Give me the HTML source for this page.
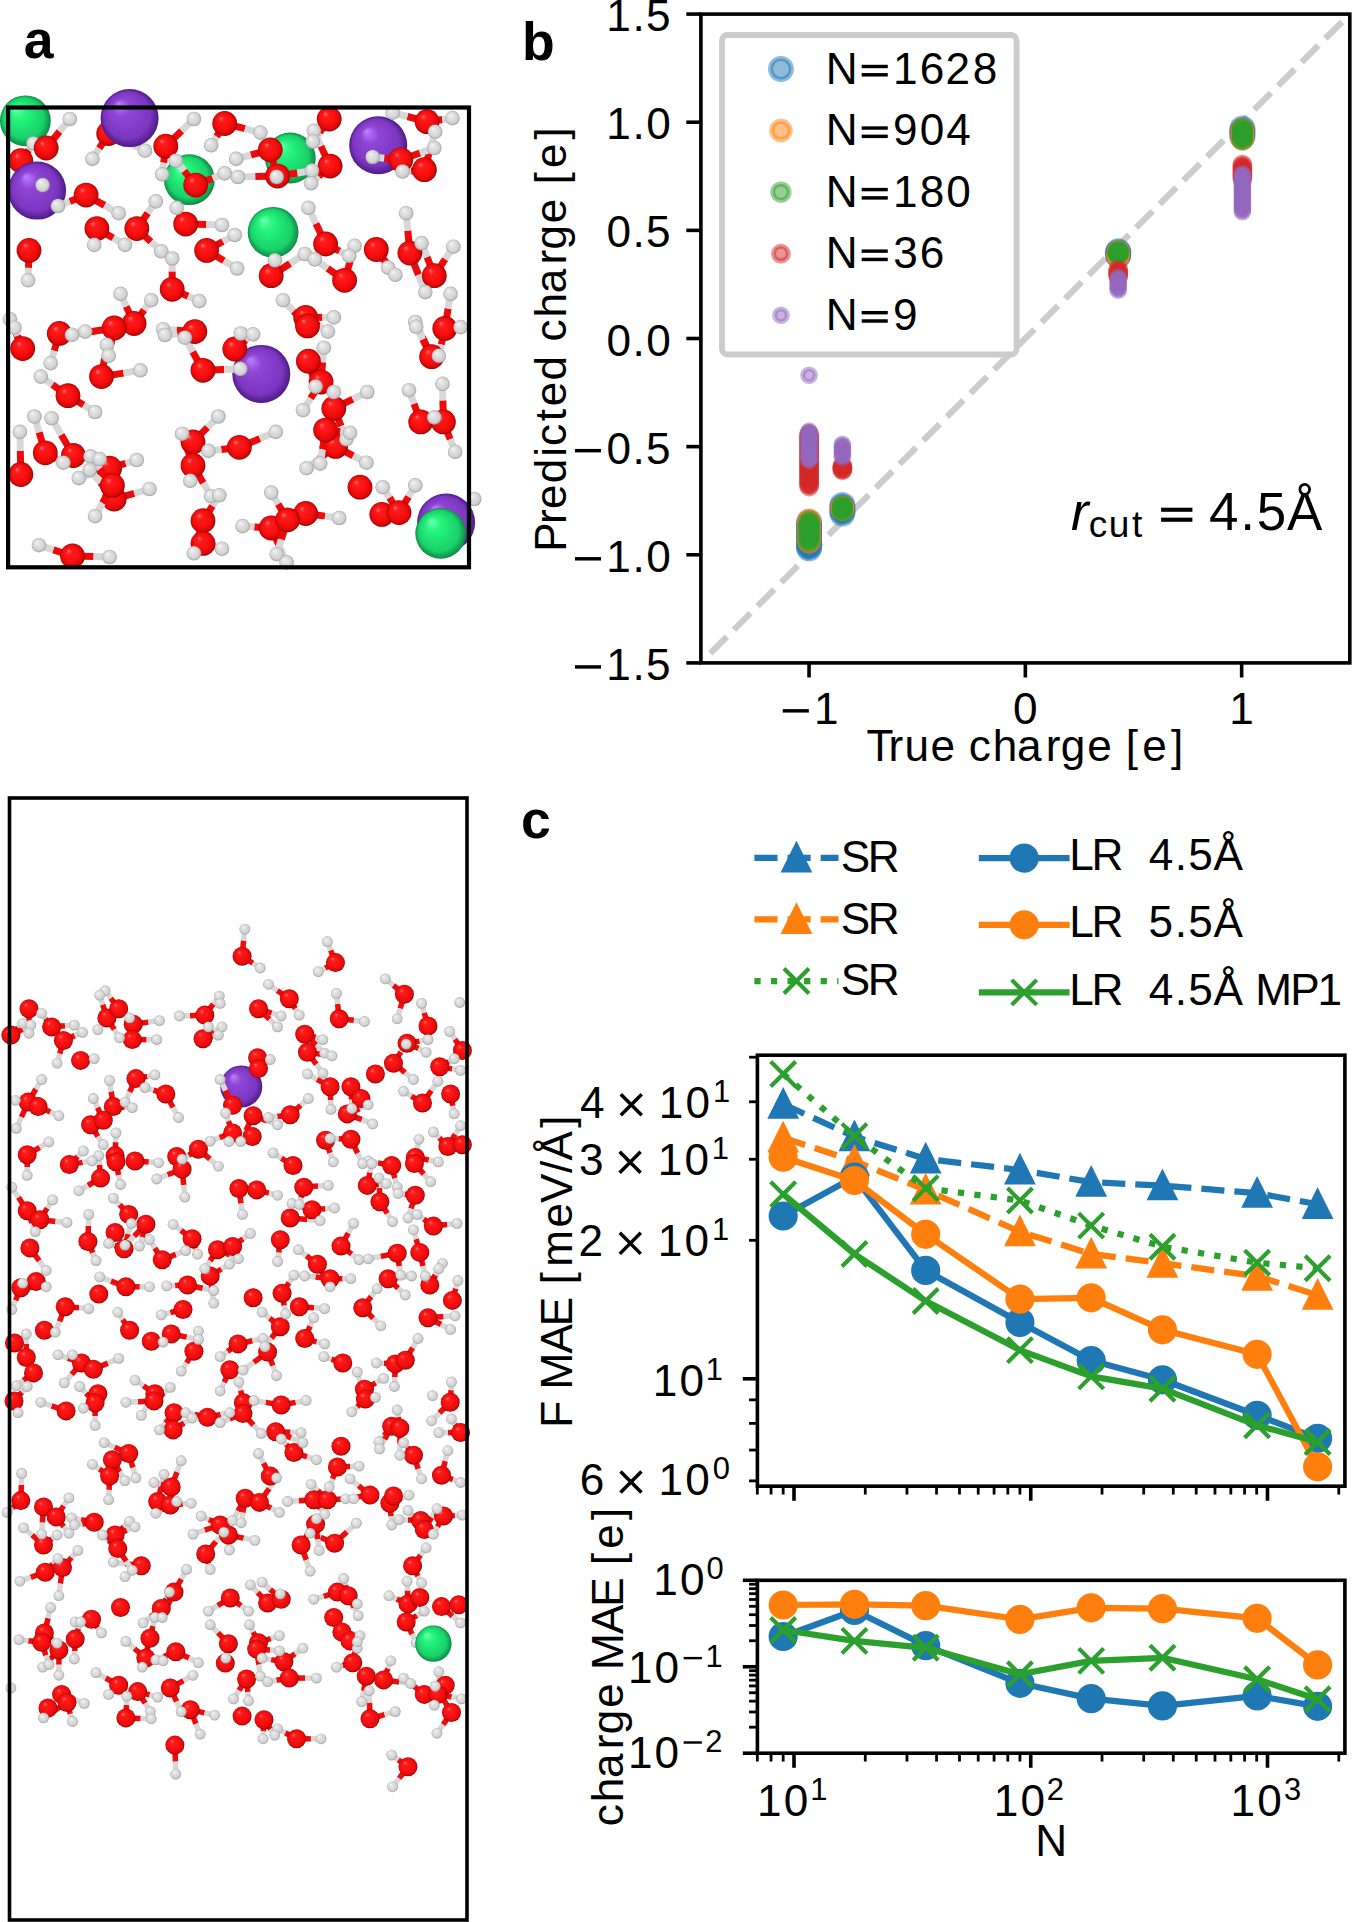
<!DOCTYPE html>
<html><head><meta charset="utf-8"><style>
html,body{margin:0;padding:0;background:#fff;overflow:hidden;width:1352px;height:1922px;}
svg{display:block;}
text{font-family:"Liberation Sans",sans-serif;white-space:pre;}
</style></head><body>
<svg width="1352" height="1922" viewBox="0 0 1352 1922">
<rect width="1352" height="1922" fill="#fff"/>
<defs>
<radialGradient id="gO" cx="0.5" cy="0.5" r="0.5" fx="0.33" fy="0.28"><stop offset="0" stop-color="#ff7070"/><stop offset="0.22" stop-color="#ff1c1c"/><stop offset="0.7" stop-color="#f50c0c"/><stop offset="0.9" stop-color="#d40808"/><stop offset="1" stop-color="#9a0000"/></radialGradient>
<radialGradient id="gH" cx="0.5" cy="0.5" r="0.5" fx="0.33" fy="0.28"><stop offset="0" stop-color="#f6f6f6"/><stop offset="0.3" stop-color="#e4e4e4"/><stop offset="0.78" stop-color="#d2d2d2"/><stop offset="1" stop-color="#a4a4a4"/></radialGradient>
<radialGradient id="gP" cx="0.5" cy="0.5" r="0.5" fx="0.3" fy="0.25"><stop offset="0" stop-color="#c080ff"/><stop offset="0.3" stop-color="#8f45d6"/><stop offset="0.8" stop-color="#7b36bf"/><stop offset="1" stop-color="#4e1a85"/></radialGradient>
<radialGradient id="gG" cx="0.5" cy="0.5" r="0.5" fx="0.3" fy="0.25"><stop offset="0" stop-color="#70ffb0"/><stop offset="0.3" stop-color="#24f57c"/><stop offset="0.8" stop-color="#1ad06a"/><stop offset="1" stop-color="#0c8a45"/></radialGradient>
</defs>
<path d="M108.7 133.5L129.2 143.2" stroke="#ee0a0a" stroke-width="7"/><path d="M129.2 143.2L145 150.7" stroke="#d8d8d8" stroke-width="7"/>
<path d="M108.7 133.5L99.2 148.3" stroke="#ee0a0a" stroke-width="7"/><path d="M99.2 148.3L92.4 158.9" stroke="#d8d8d8" stroke-width="7"/>
<path d="M20.8 160.7L33.4 174.8" stroke="#ee0a0a" stroke-width="7"/><path d="M33.4 174.8L42.6 185.1" stroke="#d8d8d8" stroke-width="7"/>
<path d="M20.8 160.7L28.7 150" stroke="#ee0a0a" stroke-width="7"/><path d="M28.7 150L33.5 143.5" stroke="#d8d8d8" stroke-width="7"/>
<circle cx="108.7" cy="133.5" r="12.4" fill="url(#gO)"/>
<circle cx="20.8" cy="160.7" r="12.4" fill="url(#gO)"/>
<circle cx="25.4" cy="120.8" r="25.4" fill="url(#gG)"/>
<circle cx="189.4" cy="179.7" r="25.4" fill="url(#gG)"/>
<circle cx="129.6" cy="118.1" r="29" fill="url(#gP)"/>
<circle cx="37.1" cy="190.6" r="29" fill="url(#gP)"/>
<circle cx="33.5" cy="143.5" r="7.3" fill="url(#gH)"/>
<circle cx="290.3" cy="158" r="25.4" fill="url(#gG)"/>
<circle cx="273.1" cy="232.3" r="25.4" fill="url(#gG)"/>
<circle cx="378.2" cy="145.3" r="29" fill="url(#gP)"/>
<circle cx="261.3" cy="373.9" r="29" fill="url(#gP)"/>
<circle cx="446.1" cy="522.5" r="29" fill="url(#gP)"/>
<path d="M109.6 468.2L125.7 463.3" stroke="#ee0a0a" stroke-width="7"/><path d="M125.7 463.3L136.8 460" stroke="#d8d8d8" stroke-width="7"/>
<path d="M109.6 468.2L91.8 473.9" stroke="#ee0a0a" stroke-width="7"/><path d="M91.8 473.9L78.8 478.1" stroke="#d8d8d8" stroke-width="7"/>
<path d="M114.2 499L100.3 482.5" stroke="#ee0a0a" stroke-width="7"/><path d="M100.3 482.5L89.7 470" stroke="#d8d8d8" stroke-width="7"/>
<path d="M114.2 499L134.3 493.3" stroke="#ee0a0a" stroke-width="7"/><path d="M134.3 493.3L149.5 489" stroke="#d8d8d8" stroke-width="7"/>
<path d="M271.2 528L254.3 526.9" stroke="#ee0a0a" stroke-width="7"/><path d="M254.3 526.9L242.5 526.1" stroke="#d8d8d8" stroke-width="7"/>
<path d="M335.6 446.4L319 458.8" stroke="#ee0a0a" stroke-width="7"/><path d="M319 458.8L306.6 468.2" stroke="#d8d8d8" stroke-width="7"/>
<path d="M335.6 446.4L353.2 455.8" stroke="#ee0a0a" stroke-width="7"/><path d="M353.2 455.8L366.4 462.7" stroke="#d8d8d8" stroke-width="7"/>
<path d="M271.2 528L280 547.5" stroke="#ee0a0a" stroke-width="7"/><path d="M280 547.5L286.6 562.4" stroke="#d8d8d8" stroke-width="7"/>
<circle cx="109.6" cy="468.2" r="12.4" fill="url(#gO)"/>
<circle cx="114.2" cy="499" r="12.4" fill="url(#gO)"/>
<circle cx="335.6" cy="446.4" r="12.4" fill="url(#gO)"/>
<circle cx="271.2" cy="528" r="12.4" fill="url(#gO)"/>
<path d="M46.2 148L59.6 131.5" stroke="#ee0a0a" stroke-width="7"/><path d="M59.6 131.5L69.8 119" stroke="#d8d8d8" stroke-width="7"/>
<path d="M165.8 146.2L181.7 130.8" stroke="#ee0a0a" stroke-width="7"/><path d="M181.7 130.8L193.9 119" stroke="#d8d8d8" stroke-width="7"/>
<path d="M224.7 123.5L216.6 136.6" stroke="#ee0a0a" stroke-width="7"/><path d="M216.6 136.6L211.1 145.3" stroke="#d8d8d8" stroke-width="7"/>
<path d="M165.8 146.2L163.7 162.7" stroke="#ee0a0a" stroke-width="7"/><path d="M163.7 162.7L162.2 174.3" stroke="#d8d8d8" stroke-width="7"/>
<path d="M86.1 195.1L69.7 201.5" stroke="#ee0a0a" stroke-width="7"/><path d="M69.7 201.5L58 206" stroke="#d8d8d8" stroke-width="7"/>
<path d="M86.1 195.1L104.6 205.4" stroke="#ee0a0a" stroke-width="7"/><path d="M104.6 205.4L118.7 213.2" stroke="#d8d8d8" stroke-width="7"/>
<path d="M136.8 228.6L147.8 212.9" stroke="#ee0a0a" stroke-width="7"/><path d="M147.8 212.9L155.8 201.4" stroke="#d8d8d8" stroke-width="7"/>
<path d="M96.9 228.6L94.9 240.9" stroke="#ee0a0a" stroke-width="7"/><path d="M94.9 240.9L94.2 244.9" stroke="#d8d8d8" stroke-width="7"/>
<path d="M96.9 228.6L113.2 238.1" stroke="#ee0a0a" stroke-width="7"/><path d="M113.2 238.1L125 244.9" stroke="#d8d8d8" stroke-width="7"/>
<path d="M185.7 224.1L179.7 213.3" stroke="#ee0a0a" stroke-width="7"/><path d="M179.7 213.3L176.7 207.8" stroke="#d8d8d8" stroke-width="7"/>
<path d="M185.7 224.1L206.4 224.6" stroke="#ee0a0a" stroke-width="7"/><path d="M206.4 224.6L222 225" stroke="#d8d8d8" stroke-width="7"/>
<path d="M206.6 250.4L222.9 241.5" stroke="#ee0a0a" stroke-width="7"/><path d="M222.9 241.5L234.8 235" stroke="#d8d8d8" stroke-width="7"/>
<path d="M136.8 228.6L150.9 241.7" stroke="#ee0a0a" stroke-width="7"/><path d="M150.9 241.7L161.3 251.3" stroke="#d8d8d8" stroke-width="7"/>
<path d="M172.2 289.3L172.2 271.4" stroke="#ee0a0a" stroke-width="7"/><path d="M172.2 271.4L172.2 258.5" stroke="#d8d8d8" stroke-width="7"/>
<path d="M29 250.4L28.5 267.9" stroke="#ee0a0a" stroke-width="7"/><path d="M28.5 267.9L28.1 280.3" stroke="#d8d8d8" stroke-width="7"/>
<path d="M206.6 250.4L224 260.7" stroke="#ee0a0a" stroke-width="7"/><path d="M224 260.7L237.1 268.5" stroke="#d8d8d8" stroke-width="7"/>
<path d="M134.1 323.5L144.2 309.8" stroke="#ee0a0a" stroke-width="7"/><path d="M144.2 309.8L151.3 300.2" stroke="#d8d8d8" stroke-width="7"/>
<path d="M134.1 323.5L126.2 306.4" stroke="#ee0a0a" stroke-width="7"/><path d="M126.2 306.4L120.5 293.9" stroke="#d8d8d8" stroke-width="7"/>
<path d="M172.2 289.3L188.1 296.2" stroke="#ee0a0a" stroke-width="7"/><path d="M188.1 296.2L199.3 301.1" stroke="#d8d8d8" stroke-width="7"/>
<path d="M270.3 149.8L250.8 155" stroke="#ee0a0a" stroke-width="7"/><path d="M250.8 155L236.2 158.9" stroke="#d8d8d8" stroke-width="7"/>
<path d="M277.6 176.1L255.2 176.6" stroke="#ee0a0a" stroke-width="7"/><path d="M255.2 176.6L238 177" stroke="#d8d8d8" stroke-width="7"/>
<path d="M22.7 348.6L15.3 331.6" stroke="#ee0a0a" stroke-width="7"/><path d="M15.3 331.6L10 319.2" stroke="#d8d8d8" stroke-width="7"/>
<path d="M59.3 333.4L74.8 332.4" stroke="#ee0a0a" stroke-width="7"/><path d="M74.8 332.4L85.2 331.6" stroke="#d8d8d8" stroke-width="7"/>
<path d="M114.2 328L90.6 331.8" stroke="#ee0a0a" stroke-width="7"/><path d="M90.6 331.8L72 334.8" stroke="#d8d8d8" stroke-width="7"/>
<path d="M194.8 331.6L176.4 330.2" stroke="#ee0a0a" stroke-width="7"/><path d="M176.4 330.2L163.1 329.2" stroke="#d8d8d8" stroke-width="7"/>
<path d="M234.8 349L239.3 337.4" stroke="#ee0a0a" stroke-width="7"/><path d="M239.3 337.4L240.8 333.5" stroke="#d8d8d8" stroke-width="7"/>
<path d="M224.7 123.5L245 128.7" stroke="#ee0a0a" stroke-width="7"/><path d="M245 128.7L260.4 132.6" stroke="#d8d8d8" stroke-width="7"/>
<path d="M330.1 166.1L320.9 146.1" stroke="#ee0a0a" stroke-width="7"/><path d="M320.9 146.1L313.8 130.8" stroke="#d8d8d8" stroke-width="7"/>
<path d="M329.2 119L319.6 132.4" stroke="#ee0a0a" stroke-width="7"/><path d="M319.6 132.4L312.9 141.6" stroke="#d8d8d8" stroke-width="7"/>
<path d="M270.3 149.8L274.1 165.9" stroke="#ee0a0a" stroke-width="7"/><path d="M274.1 165.9L276.7 177" stroke="#d8d8d8" stroke-width="7"/>
<path d="M277.6 176.1L297.3 173" stroke="#ee0a0a" stroke-width="7"/><path d="M297.3 173L312 170.6" stroke="#d8d8d8" stroke-width="7"/>
<path d="M330.1 166.1L318.7 176.4" stroke="#ee0a0a" stroke-width="7"/><path d="M318.7 176.4L311.1 183.3" stroke="#d8d8d8" stroke-width="7"/>
<path d="M400.8 159.8L384.2 158.2" stroke="#ee0a0a" stroke-width="7"/><path d="M384.2 158.2L372.7 157" stroke="#d8d8d8" stroke-width="7"/>
<path d="M427.1 121.7L407.4 116.5" stroke="#ee0a0a" stroke-width="7"/><path d="M407.4 116.5L392.7 112.7" stroke="#d8d8d8" stroke-width="7"/>
<path d="M427.1 121.7L442.3 119.5" stroke="#ee0a0a" stroke-width="7"/><path d="M442.3 119.5L452.5 118.1" stroke="#d8d8d8" stroke-width="7"/>
<path d="M424.4 169.7L430.5 148.3" stroke="#ee0a0a" stroke-width="7"/><path d="M430.5 148.3L435.2 131.7" stroke="#d8d8d8" stroke-width="7"/>
<path d="M400.8 159.8L420 153" stroke="#ee0a0a" stroke-width="7"/><path d="M420 153L434.3 148" stroke="#d8d8d8" stroke-width="7"/>
<path d="M424.4 169.7L411 170.9" stroke="#ee0a0a" stroke-width="7"/><path d="M411 170.9L402.6 171.5" stroke="#d8d8d8" stroke-width="7"/>
<path d="M325.6 244L315.9 223.6" stroke="#ee0a0a" stroke-width="7"/><path d="M315.9 223.6L308.4 207.8" stroke="#d8d8d8" stroke-width="7"/>
<path d="M409.9 253.1L407.8 230.6" stroke="#ee0a0a" stroke-width="7"/><path d="M407.8 230.6L406.2 213.2" stroke="#d8d8d8" stroke-width="7"/>
<path d="M434.3 275.7L427.1 257.1" stroke="#ee0a0a" stroke-width="7"/><path d="M427.1 257.1L421.6 243.1" stroke="#d8d8d8" stroke-width="7"/>
<path d="M434.3 275.7L445.2 259.1" stroke="#ee0a0a" stroke-width="7"/><path d="M445.2 259.1L453.4 246.7" stroke="#d8d8d8" stroke-width="7"/>
<path d="M344.6 280.3L350.3 260.6" stroke="#ee0a0a" stroke-width="7"/><path d="M350.3 260.6L354.6 245.8" stroke="#d8d8d8" stroke-width="7"/>
<path d="M325.6 244L339.7 251.1" stroke="#ee0a0a" stroke-width="7"/><path d="M339.7 251.1L349.2 255.8" stroke="#d8d8d8" stroke-width="7"/>
<path d="M271.2 275.7L290.1 263.5" stroke="#ee0a0a" stroke-width="7"/><path d="M290.1 263.5L304.8 254" stroke="#d8d8d8" stroke-width="7"/>
<path d="M344.6 280.3L327.6 268.4" stroke="#ee0a0a" stroke-width="7"/><path d="M327.6 268.4L314.7 259.4" stroke="#d8d8d8" stroke-width="7"/>
<path d="M271.2 275.7L274.1 263.7" stroke="#ee0a0a" stroke-width="7"/><path d="M274.1 263.7L274.9 260.3" stroke="#d8d8d8" stroke-width="7"/>
<path d="M376.3 249.5L383.6 260.7" stroke="#ee0a0a" stroke-width="7"/><path d="M383.6 260.7L388.1 267.6" stroke="#d8d8d8" stroke-width="7"/>
<path d="M376.3 249.5L387.4 264.2" stroke="#ee0a0a" stroke-width="7"/><path d="M387.4 264.2L395.4 274.8" stroke="#d8d8d8" stroke-width="7"/>
<path d="M444.8 328.5L448.1 308.6" stroke="#ee0a0a" stroke-width="7"/><path d="M448.1 308.6L450.6 293.9" stroke="#d8d8d8" stroke-width="7"/>
<path d="M409.9 253.1L418.5 274.9" stroke="#ee0a0a" stroke-width="7"/><path d="M418.5 274.9L425.3 292.1" stroke="#d8d8d8" stroke-width="7"/>
<path d="M305.7 317.4L322.3 317.4" stroke="#ee0a0a" stroke-width="7"/><path d="M322.3 317.4L333.8 317.4" stroke="#d8d8d8" stroke-width="7"/>
<path d="M307.5 325.9L293.5 311.2" stroke="#ee0a0a" stroke-width="7"/><path d="M293.5 311.2L283 300.2" stroke="#d8d8d8" stroke-width="7"/>
<path d="M431.6 356.7L422.4 337" stroke="#ee0a0a" stroke-width="7"/><path d="M422.4 337L415.3 322" stroke="#d8d8d8" stroke-width="7"/>
<path d="M305.7 317.4L318.9 325.9" stroke="#ee0a0a" stroke-width="7"/><path d="M318.9 325.9L327.9 331.6" stroke="#d8d8d8" stroke-width="7"/>
<path d="M234.8 349L246 340.1" stroke="#ee0a0a" stroke-width="7"/><path d="M246 340.1L253.1 334.3" stroke="#d8d8d8" stroke-width="7"/>
<path d="M22.7 348.6L17.6 335.8" stroke="#ee0a0a" stroke-width="7"/><path d="M17.6 335.8L14.5 327.7" stroke="#d8d8d8" stroke-width="7"/>
<path d="M101.5 376.6L104.6 358.3" stroke="#ee0a0a" stroke-width="7"/><path d="M104.6 358.3L106.9 344.9" stroke="#d8d8d8" stroke-width="7"/>
<path d="M114.2 328L111 344.4" stroke="#ee0a0a" stroke-width="7"/><path d="M111 344.4L108.7 355.8" stroke="#d8d8d8" stroke-width="7"/>
<path d="M194.8 331.6L177.3 333.6" stroke="#ee0a0a" stroke-width="7"/><path d="M177.3 333.6L164.9 335" stroke="#d8d8d8" stroke-width="7"/>
<path d="M203 370.3L192.7 351.8" stroke="#ee0a0a" stroke-width="7"/><path d="M192.7 351.8L184.8 337.7" stroke="#d8d8d8" stroke-width="7"/>
<path d="M59.3 333.4L54.3 350.7" stroke="#ee0a0a" stroke-width="7"/><path d="M54.3 350.7L50.7 363.1" stroke="#d8d8d8" stroke-width="7"/>
<path d="M68 395.7L52.3 384.7" stroke="#ee0a0a" stroke-width="7"/><path d="M52.3 384.7L40.8 376.6" stroke="#d8d8d8" stroke-width="7"/>
<path d="M101.5 376.6L123.5 373.1" stroke="#ee0a0a" stroke-width="7"/><path d="M123.5 373.1L140.4 370.3" stroke="#d8d8d8" stroke-width="7"/>
<path d="M203 370.3L224.2 369.5" stroke="#ee0a0a" stroke-width="7"/><path d="M224.2 369.5L240.3 368.9" stroke="#d8d8d8" stroke-width="7"/>
<path d="M68 395.7L83.7 405.1" stroke="#ee0a0a" stroke-width="7"/><path d="M83.7 405.1L95.1 412" stroke="#d8d8d8" stroke-width="7"/>
<path d="M73.4 455.5L61.2 434.7" stroke="#ee0a0a" stroke-width="7"/><path d="M61.2 434.7L51.6 418.3" stroke="#d8d8d8" stroke-width="7"/>
<path d="M45.3 452.8L39.1 432.2" stroke="#ee0a0a" stroke-width="7"/><path d="M39.1 432.2L34.4 416.5" stroke="#d8d8d8" stroke-width="7"/>
<path d="M20.8 474.5L20.3 450.7" stroke="#ee0a0a" stroke-width="7"/><path d="M20.3 450.7L19.9 431.9" stroke="#d8d8d8" stroke-width="7"/>
<path d="M45.3 452.8L56.6 459" stroke="#ee0a0a" stroke-width="7"/><path d="M56.6 459L63.4 462.7" stroke="#d8d8d8" stroke-width="7"/>
<path d="M112.4 485.4L99.9 468.8" stroke="#ee0a0a" stroke-width="7"/><path d="M99.9 468.8L90.6 456.4" stroke="#d8d8d8" stroke-width="7"/>
<path d="M73.4 455.5L89.1 457.6" stroke="#ee0a0a" stroke-width="7"/><path d="M89.1 457.6L99.7 459.1" stroke="#d8d8d8" stroke-width="7"/>
<path d="M112.4 485.4L102.5 503" stroke="#ee0a0a" stroke-width="7"/><path d="M102.5 503L95.1 516.2" stroke="#d8d8d8" stroke-width="7"/>
<path d="M193 465.4L186.7 447.2" stroke="#ee0a0a" stroke-width="7"/><path d="M186.7 447.2L182.1 433.7" stroke="#d8d8d8" stroke-width="7"/>
<path d="M239.4 447.3L221.3 449.4" stroke="#ee0a0a" stroke-width="7"/><path d="M221.3 449.4L208.4 450.9" stroke="#d8d8d8" stroke-width="7"/>
<path d="M193 441.9L191.5 463.9" stroke="#ee0a0a" stroke-width="7"/><path d="M191.5 463.9L190.3 480.8" stroke="#d8d8d8" stroke-width="7"/>
<path d="M193 465.4L203.3 483" stroke="#ee0a0a" stroke-width="7"/><path d="M203.3 483L211.1 496.2" stroke="#d8d8d8" stroke-width="7"/>
<path d="M203 520.7L212.5 505.9" stroke="#ee0a0a" stroke-width="7"/><path d="M212.5 505.9L219.3 495.3" stroke="#d8d8d8" stroke-width="7"/>
<path d="M193 441.9L207.5 427.4" stroke="#ee0a0a" stroke-width="7"/><path d="M207.5 427.4L218.4 416.5" stroke="#d8d8d8" stroke-width="7"/>
<path d="M203 520.7L197.7 539.5" stroke="#ee0a0a" stroke-width="7"/><path d="M197.7 539.5L193.9 553.3" stroke="#d8d8d8" stroke-width="7"/>
<path d="M203 543.4L214.9 546.8" stroke="#ee0a0a" stroke-width="7"/><path d="M214.9 546.8L222 548.8" stroke="#d8d8d8" stroke-width="7"/>
<path d="M72.5 556L53.3 549.8" stroke="#ee0a0a" stroke-width="7"/><path d="M53.3 549.8L39 545.2" stroke="#d8d8d8" stroke-width="7"/>
<path d="M72.5 556L93.6 556.6" stroke="#ee0a0a" stroke-width="7"/><path d="M93.6 556.6L109.6 557" stroke="#d8d8d8" stroke-width="7"/>
<path d="M321.1 382.1L322.6 362.3" stroke="#ee0a0a" stroke-width="7"/><path d="M322.6 362.3L323.8 347.7" stroke="#d8d8d8" stroke-width="7"/>
<path d="M308.4 361.2L312.7 376.4" stroke="#ee0a0a" stroke-width="7"/><path d="M312.7 376.4L315.6 386.6" stroke="#d8d8d8" stroke-width="7"/>
<path d="M308.4 361.2L322.7 378.6" stroke="#ee0a0a" stroke-width="7"/><path d="M322.7 378.6L333.8 392" stroke="#d8d8d8" stroke-width="7"/>
<path d="M321.1 382.1L310.6 398.3" stroke="#ee0a0a" stroke-width="7"/><path d="M310.6 398.3L303 410.2" stroke="#d8d8d8" stroke-width="7"/>
<path d="M333.8 408.4L352.8 399.1" stroke="#ee0a0a" stroke-width="7"/><path d="M352.8 399.1L367.3 392" stroke="#d8d8d8" stroke-width="7"/>
<path d="M239.4 447.3L259.9 438.6" stroke="#ee0a0a" stroke-width="7"/><path d="M259.9 438.6L275.8 431.9" stroke="#d8d8d8" stroke-width="7"/>
<path d="M333.8 408.4L341.1 426.1" stroke="#ee0a0a" stroke-width="7"/><path d="M341.1 426.1L346.4 439.2" stroke="#d8d8d8" stroke-width="7"/>
<path d="M325.6 430.1L340.4 431.7" stroke="#ee0a0a" stroke-width="7"/><path d="M340.4 431.7L350.1 432.8" stroke="#d8d8d8" stroke-width="7"/>
<path d="M325.6 430.1L322.5 449.4" stroke="#ee0a0a" stroke-width="7"/><path d="M322.5 449.4L320.2 463.6" stroke="#d8d8d8" stroke-width="7"/>
<path d="M420.7 421.9L414 403.7" stroke="#ee0a0a" stroke-width="7"/><path d="M414 403.7L409 390.2" stroke="#d8d8d8" stroke-width="7"/>
<path d="M443.4 421.9L442.9 400.4" stroke="#ee0a0a" stroke-width="7"/><path d="M442.9 400.4L442.5 383.9" stroke="#d8d8d8" stroke-width="7"/>
<path d="M420.7 421.9L432.5 418" stroke="#ee0a0a" stroke-width="7"/><path d="M432.5 418L434.3 417.4" stroke="#d8d8d8" stroke-width="7"/>
<path d="M444.8 328.5L441.3 344.6" stroke="#ee0a0a" stroke-width="7"/><path d="M441.3 344.6L438.9 355.8" stroke="#d8d8d8" stroke-width="7"/>
<path d="M431.6 356.7L422.7 339.5" stroke="#ee0a0a" stroke-width="7"/><path d="M422.7 339.5L416.2 326.8" stroke="#d8d8d8" stroke-width="7"/>
<path d="M443.4 421.9L450.2 439.3" stroke="#ee0a0a" stroke-width="7"/><path d="M450.2 439.3L455.2 451.8" stroke="#d8d8d8" stroke-width="7"/>
<path d="M399 512.6L389.5 497.7" stroke="#ee0a0a" stroke-width="7"/><path d="M389.5 497.7L382.7 487.2" stroke="#d8d8d8" stroke-width="7"/>
<path d="M399 512.6L408.5 496.8" stroke="#ee0a0a" stroke-width="7"/><path d="M408.5 496.8L415.3 485.4" stroke="#d8d8d8" stroke-width="7"/>
<path d="M305.7 513.5L325 516.1" stroke="#ee0a0a" stroke-width="7"/><path d="M325 516.1L339.2 518" stroke="#d8d8d8" stroke-width="7"/>
<path d="M287.6 519.8L278.1 504" stroke="#ee0a0a" stroke-width="7"/><path d="M278.1 504L271.2 492.6" stroke="#d8d8d8" stroke-width="7"/>
<path d="M287.6 519.8L281.3 539.5" stroke="#ee0a0a" stroke-width="7"/><path d="M281.3 539.5L276.7 554.2" stroke="#d8d8d8" stroke-width="7"/>
<circle cx="46.2" cy="148" r="12.4" fill="url(#gO)"/>
<circle cx="86.1" cy="195.1" r="12.4" fill="url(#gO)"/>
<circle cx="96.9" cy="228.6" r="12.4" fill="url(#gO)"/>
<circle cx="136.8" cy="228.6" r="12.4" fill="url(#gO)"/>
<circle cx="29" cy="250.4" r="12.4" fill="url(#gO)"/>
<circle cx="165.8" cy="146.2" r="12.4" fill="url(#gO)"/>
<circle cx="224.7" cy="123.5" r="12.4" fill="url(#gO)"/>
<circle cx="185.7" cy="224.1" r="12.4" fill="url(#gO)"/>
<circle cx="206.6" cy="250.4" r="12.4" fill="url(#gO)"/>
<circle cx="172.2" cy="289.3" r="12.4" fill="url(#gO)"/>
<circle cx="134.1" cy="323.5" r="12.4" fill="url(#gO)"/>
<circle cx="114.2" cy="328" r="12.4" fill="url(#gO)"/>
<circle cx="59.3" cy="333.4" r="12.4" fill="url(#gO)"/>
<circle cx="194.8" cy="331.6" r="12.4" fill="url(#gO)"/>
<circle cx="270.3" cy="149.8" r="12.4" fill="url(#gO)"/>
<circle cx="277.6" cy="176.1" r="12.4" fill="url(#gO)"/>
<circle cx="329.2" cy="119" r="12.4" fill="url(#gO)"/>
<circle cx="330.1" cy="166.1" r="12.4" fill="url(#gO)"/>
<circle cx="400.8" cy="159.8" r="12.4" fill="url(#gO)"/>
<circle cx="424.4" cy="169.7" r="12.4" fill="url(#gO)"/>
<circle cx="427.1" cy="121.7" r="12.4" fill="url(#gO)"/>
<circle cx="325.6" cy="244" r="12.4" fill="url(#gO)"/>
<circle cx="376.3" cy="249.5" r="12.4" fill="url(#gO)"/>
<circle cx="409.9" cy="253.1" r="12.4" fill="url(#gO)"/>
<circle cx="434.3" cy="275.7" r="12.4" fill="url(#gO)"/>
<circle cx="271.2" cy="275.7" r="12.4" fill="url(#gO)"/>
<circle cx="344.6" cy="280.3" r="12.4" fill="url(#gO)"/>
<circle cx="305.7" cy="317.4" r="12.4" fill="url(#gO)"/>
<circle cx="444.8" cy="328.5" r="12.4" fill="url(#gO)"/>
<circle cx="22.7" cy="348.6" r="12.4" fill="url(#gO)"/>
<circle cx="234.8" cy="349" r="12.4" fill="url(#gO)"/>
<circle cx="203" cy="370.3" r="12.4" fill="url(#gO)"/>
<circle cx="101.5" cy="376.6" r="12.4" fill="url(#gO)"/>
<circle cx="68" cy="395.7" r="12.4" fill="url(#gO)"/>
<circle cx="45.3" cy="452.8" r="12.4" fill="url(#gO)"/>
<circle cx="73.4" cy="455.5" r="12.4" fill="url(#gO)"/>
<circle cx="112.4" cy="485.4" r="12.4" fill="url(#gO)"/>
<circle cx="193" cy="441.9" r="12.4" fill="url(#gO)"/>
<circle cx="193" cy="465.4" r="12.4" fill="url(#gO)"/>
<circle cx="239.4" cy="447.3" r="12.4" fill="url(#gO)"/>
<circle cx="20.8" cy="474.5" r="12.4" fill="url(#gO)"/>
<circle cx="203" cy="520.7" r="12.4" fill="url(#gO)"/>
<circle cx="203" cy="543.4" r="12.4" fill="url(#gO)"/>
<circle cx="72.5" cy="556" r="12.4" fill="url(#gO)"/>
<circle cx="307.5" cy="325.9" r="12.4" fill="url(#gO)"/>
<circle cx="308.4" cy="361.2" r="12.4" fill="url(#gO)"/>
<circle cx="321.1" cy="382.1" r="12.4" fill="url(#gO)"/>
<circle cx="333.8" cy="408.4" r="12.4" fill="url(#gO)"/>
<circle cx="325.6" cy="430.1" r="12.4" fill="url(#gO)"/>
<circle cx="431.6" cy="356.7" r="12.4" fill="url(#gO)"/>
<circle cx="420.7" cy="421.9" r="12.4" fill="url(#gO)"/>
<circle cx="443.4" cy="421.9" r="12.4" fill="url(#gO)"/>
<circle cx="360" cy="487.2" r="12.4" fill="url(#gO)"/>
<circle cx="381.8" cy="514.4" r="12.4" fill="url(#gO)"/>
<circle cx="399" cy="512.6" r="12.4" fill="url(#gO)"/>
<circle cx="305.7" cy="513.5" r="12.4" fill="url(#gO)"/>
<circle cx="287.6" cy="519.8" r="12.4" fill="url(#gO)"/>
<path d="M195.7 185.1L184.1 170.9" stroke="#ee0a0a" stroke-width="7"/><path d="M184.1 170.9L175.8 160.7" stroke="#d8d8d8" stroke-width="7"/>
<path d="M195.7 185.1L212.6 178.3" stroke="#ee0a0a" stroke-width="7"/><path d="M212.6 178.3L224.7 173.4" stroke="#d8d8d8" stroke-width="7"/>
<circle cx="195.7" cy="185.1" r="12.4" fill="url(#gO)"/>
<circle cx="69.8" cy="119" r="7.3" fill="url(#gH)"/>
<circle cx="193.9" cy="119" r="7.3" fill="url(#gH)"/>
<circle cx="145" cy="150.7" r="7.3" fill="url(#gH)"/>
<circle cx="211.1" cy="145.3" r="7.3" fill="url(#gH)"/>
<circle cx="175.8" cy="160.7" r="7.3" fill="url(#gH)"/>
<circle cx="162.2" cy="174.3" r="7.3" fill="url(#gH)"/>
<circle cx="92.4" cy="158.9" r="7.3" fill="url(#gH)"/>
<circle cx="42.6" cy="185.1" r="7.3" fill="url(#gH)"/>
<circle cx="58" cy="206" r="7.3" fill="url(#gH)"/>
<circle cx="118.7" cy="213.2" r="7.3" fill="url(#gH)"/>
<circle cx="155.8" cy="201.4" r="7.3" fill="url(#gH)"/>
<circle cx="94.2" cy="244.9" r="7.3" fill="url(#gH)"/>
<circle cx="125" cy="244.9" r="7.3" fill="url(#gH)"/>
<circle cx="176.7" cy="207.8" r="7.3" fill="url(#gH)"/>
<circle cx="222" cy="225" r="7.3" fill="url(#gH)"/>
<circle cx="234.8" cy="235" r="7.3" fill="url(#gH)"/>
<circle cx="161.3" cy="251.3" r="7.3" fill="url(#gH)"/>
<circle cx="172.2" cy="258.5" r="7.3" fill="url(#gH)"/>
<circle cx="28.1" cy="280.3" r="7.3" fill="url(#gH)"/>
<circle cx="237.1" cy="268.5" r="7.3" fill="url(#gH)"/>
<circle cx="151.3" cy="300.2" r="7.3" fill="url(#gH)"/>
<circle cx="120.5" cy="293.9" r="7.3" fill="url(#gH)"/>
<circle cx="199.3" cy="301.1" r="7.3" fill="url(#gH)"/>
<circle cx="236.2" cy="158.9" r="7.3" fill="url(#gH)"/>
<circle cx="224.7" cy="173.4" r="7.3" fill="url(#gH)"/>
<circle cx="238" cy="177" r="7.3" fill="url(#gH)"/>
<circle cx="10" cy="319.2" r="7.3" fill="url(#gH)"/>
<circle cx="85.2" cy="331.6" r="7.3" fill="url(#gH)"/>
<circle cx="72" cy="334.8" r="7.3" fill="url(#gH)"/>
<circle cx="163.1" cy="329.2" r="7.3" fill="url(#gH)"/>
<circle cx="240.8" cy="333.5" r="7.3" fill="url(#gH)"/>
<circle cx="260.4" cy="132.6" r="7.3" fill="url(#gH)"/>
<circle cx="313.8" cy="130.8" r="7.3" fill="url(#gH)"/>
<circle cx="312.9" cy="141.6" r="7.3" fill="url(#gH)"/>
<circle cx="312" cy="170.6" r="7.3" fill="url(#gH)"/>
<circle cx="311.1" cy="183.3" r="7.3" fill="url(#gH)"/>
<circle cx="372.7" cy="157" r="7.3" fill="url(#gH)"/>
<circle cx="392.7" cy="112.7" r="7.3" fill="url(#gH)"/>
<circle cx="452.5" cy="118.1" r="7.3" fill="url(#gH)"/>
<circle cx="435.2" cy="131.7" r="7.3" fill="url(#gH)"/>
<circle cx="434.3" cy="148" r="7.3" fill="url(#gH)"/>
<circle cx="402.6" cy="171.5" r="7.3" fill="url(#gH)"/>
<circle cx="308.4" cy="207.8" r="7.3" fill="url(#gH)"/>
<circle cx="406.2" cy="213.2" r="7.3" fill="url(#gH)"/>
<circle cx="421.6" cy="243.1" r="7.3" fill="url(#gH)"/>
<circle cx="453.4" cy="246.7" r="7.3" fill="url(#gH)"/>
<circle cx="354.6" cy="245.8" r="7.3" fill="url(#gH)"/>
<circle cx="349.2" cy="255.8" r="7.3" fill="url(#gH)"/>
<circle cx="304.8" cy="254" r="7.3" fill="url(#gH)"/>
<circle cx="314.7" cy="259.4" r="7.3" fill="url(#gH)"/>
<circle cx="274.9" cy="260.3" r="7.3" fill="url(#gH)"/>
<circle cx="388.1" cy="267.6" r="7.3" fill="url(#gH)"/>
<circle cx="395.4" cy="274.8" r="7.3" fill="url(#gH)"/>
<circle cx="450.6" cy="293.9" r="7.3" fill="url(#gH)"/>
<circle cx="425.3" cy="292.1" r="7.3" fill="url(#gH)"/>
<circle cx="333.8" cy="317.4" r="7.3" fill="url(#gH)"/>
<circle cx="283" cy="300.2" r="7.3" fill="url(#gH)"/>
<circle cx="415.3" cy="322" r="7.3" fill="url(#gH)"/>
<circle cx="460.6" cy="327.1" r="7.3" fill="url(#gH)"/>
<circle cx="327.9" cy="331.6" r="7.3" fill="url(#gH)"/>
<circle cx="253.1" cy="334.3" r="7.3" fill="url(#gH)"/>
<circle cx="14.5" cy="327.7" r="7.3" fill="url(#gH)"/>
<circle cx="106.9" cy="344.9" r="7.3" fill="url(#gH)"/>
<circle cx="108.7" cy="355.8" r="7.3" fill="url(#gH)"/>
<circle cx="164.9" cy="335" r="7.3" fill="url(#gH)"/>
<circle cx="184.8" cy="337.7" r="7.3" fill="url(#gH)"/>
<circle cx="50.7" cy="363.1" r="7.3" fill="url(#gH)"/>
<circle cx="40.8" cy="376.6" r="7.3" fill="url(#gH)"/>
<circle cx="140.4" cy="370.3" r="7.3" fill="url(#gH)"/>
<circle cx="240.3" cy="368.9" r="7.3" fill="url(#gH)"/>
<circle cx="95.1" cy="412" r="7.3" fill="url(#gH)"/>
<circle cx="51.6" cy="418.3" r="7.3" fill="url(#gH)"/>
<circle cx="34.4" cy="416.5" r="7.3" fill="url(#gH)"/>
<circle cx="19.9" cy="431.9" r="7.3" fill="url(#gH)"/>
<circle cx="63.4" cy="462.7" r="7.3" fill="url(#gH)"/>
<circle cx="90.6" cy="456.4" r="7.3" fill="url(#gH)"/>
<circle cx="99.7" cy="459.1" r="7.3" fill="url(#gH)"/>
<circle cx="136.8" cy="460" r="7.3" fill="url(#gH)"/>
<circle cx="78.8" cy="478.1" r="7.3" fill="url(#gH)"/>
<circle cx="89.7" cy="470" r="7.3" fill="url(#gH)"/>
<circle cx="149.5" cy="489" r="7.3" fill="url(#gH)"/>
<circle cx="95.1" cy="516.2" r="7.3" fill="url(#gH)"/>
<circle cx="182.1" cy="433.7" r="7.3" fill="url(#gH)"/>
<circle cx="208.4" cy="450.9" r="7.3" fill="url(#gH)"/>
<circle cx="190.3" cy="480.8" r="7.3" fill="url(#gH)"/>
<circle cx="211.1" cy="496.2" r="7.3" fill="url(#gH)"/>
<circle cx="219.3" cy="495.3" r="7.3" fill="url(#gH)"/>
<circle cx="218.4" cy="416.5" r="7.3" fill="url(#gH)"/>
<circle cx="242.5" cy="526.1" r="7.3" fill="url(#gH)"/>
<circle cx="193.9" cy="553.3" r="7.3" fill="url(#gH)"/>
<circle cx="222" cy="548.8" r="7.3" fill="url(#gH)"/>
<circle cx="39" cy="545.2" r="7.3" fill="url(#gH)"/>
<circle cx="109.6" cy="557" r="7.3" fill="url(#gH)"/>
<circle cx="323.8" cy="347.7" r="7.3" fill="url(#gH)"/>
<circle cx="315.6" cy="386.6" r="7.3" fill="url(#gH)"/>
<circle cx="333.8" cy="392" r="7.3" fill="url(#gH)"/>
<circle cx="303" cy="410.2" r="7.3" fill="url(#gH)"/>
<circle cx="367.3" cy="392" r="7.3" fill="url(#gH)"/>
<circle cx="275.8" cy="431.9" r="7.3" fill="url(#gH)"/>
<circle cx="346.4" cy="439.2" r="7.3" fill="url(#gH)"/>
<circle cx="350.1" cy="432.8" r="7.3" fill="url(#gH)"/>
<circle cx="320.2" cy="463.6" r="7.3" fill="url(#gH)"/>
<circle cx="306.6" cy="468.2" r="7.3" fill="url(#gH)"/>
<circle cx="366.4" cy="462.7" r="7.3" fill="url(#gH)"/>
<circle cx="409" cy="390.2" r="7.3" fill="url(#gH)"/>
<circle cx="442.5" cy="383.9" r="7.3" fill="url(#gH)"/>
<circle cx="434.3" cy="417.4" r="7.3" fill="url(#gH)"/>
<circle cx="416.2" cy="326.8" r="7.3" fill="url(#gH)"/>
<circle cx="455.2" cy="451.8" r="7.3" fill="url(#gH)"/>
<circle cx="382.7" cy="487.2" r="7.3" fill="url(#gH)"/>
<circle cx="415.3" cy="485.4" r="7.3" fill="url(#gH)"/>
<circle cx="339.2" cy="518" r="7.3" fill="url(#gH)"/>
<circle cx="271.2" cy="492.6" r="7.3" fill="url(#gH)"/>
<circle cx="276.7" cy="554.2" r="7.3" fill="url(#gH)"/>
<circle cx="286.6" cy="562.4" r="7.3" fill="url(#gH)"/>
<circle cx="474.2" cy="499" r="7.3" fill="url(#gH)"/>
<circle cx="276.7" cy="177" r="7.3" fill="url(#gH)"/>
<circle cx="440.7" cy="533.4" r="25.4" fill="url(#gG)"/>
<circle cx="438.9" cy="355.8" r="7.3" fill="url(#gH)"/>
<rect x="8.1" y="107.5" width="460.9" height="459.8" fill="none" stroke="#000" stroke-width="4.2"/>
<filter id="bl" x="-5%" y="-5%" width="110%" height="110%"><feGaussianBlur stdDeviation="0.55"/></filter><g filter="url(#bl)">
<circle cx="241.3" cy="1086.5" r="21" fill="url(#gP)"/>
<path d="M118.7 1008.8L110.7 998.1" stroke="#ee0a0a" stroke-width="5.5"/><path d="M110.7 998.1L105.1 990.7" stroke="#d8d8d8" stroke-width="5.5"/>
<path d="M106.9 1017.9L102.7 1004.6" stroke="#ee0a0a" stroke-width="5.5"/><path d="M102.7 1004.6L99.7 995.2" stroke="#d8d8d8" stroke-width="5.5"/>
<path d="M51.6 1026.9L45.5 1018.5" stroke="#ee0a0a" stroke-width="5.5"/><path d="M45.5 1018.5L41.7 1013.3" stroke="#d8d8d8" stroke-width="5.5"/>
<path d="M10.9 1035.1L18.2 1027.7" stroke="#ee0a0a" stroke-width="5.5"/><path d="M18.2 1027.7L22.7 1023.3" stroke="#d8d8d8" stroke-width="5.5"/>
<path d="M10.9 1035.1L22.7 1029.2" stroke="#ee0a0a" stroke-width="5.5"/><path d="M22.7 1029.2L30.8 1025.1" stroke="#d8d8d8" stroke-width="5.5"/>
<path d="M29 1008.8L29 1023.1" stroke="#ee0a0a" stroke-width="5.5"/><path d="M29 1023.1L29 1033.3" stroke="#d8d8d8" stroke-width="5.5"/>
<path d="M51.6 1026.9L65 1025.8" stroke="#ee0a0a" stroke-width="5.5"/><path d="M65 1025.8L74.3 1025.1" stroke="#d8d8d8" stroke-width="5.5"/>
<path d="M63.4 1040.5L74.8 1035.6" stroke="#ee0a0a" stroke-width="5.5"/><path d="M74.8 1035.6L82.5 1032.4" stroke="#d8d8d8" stroke-width="5.5"/>
<path d="M118.7 1008.8L106.8 1020.7" stroke="#ee0a0a" stroke-width="5.5"/><path d="M106.8 1020.7L97.9 1029.6" stroke="#d8d8d8" stroke-width="5.5"/>
<path d="M132.3 1039.6L130.7 1026.7" stroke="#ee0a0a" stroke-width="5.5"/><path d="M130.7 1026.7L129.6 1017.9" stroke="#d8d8d8" stroke-width="5.5"/>
<path d="M133.2 1024.2L148.4 1022.1" stroke="#ee0a0a" stroke-width="5.5"/><path d="M148.4 1022.1L159.5 1020.6" stroke="#d8d8d8" stroke-width="5.5"/>
<path d="M106.9 1017.9L114.4 1029.6" stroke="#ee0a0a" stroke-width="5.5"/><path d="M114.4 1029.6L119.6 1037.8" stroke="#d8d8d8" stroke-width="5.5"/>
<path d="M132.3 1039.6L146.6 1039.6" stroke="#ee0a0a" stroke-width="5.5"/><path d="M146.6 1039.6L156.7 1039.6" stroke="#d8d8d8" stroke-width="5.5"/>
<path d="M204.8 1015.1L190 1015.7" stroke="#ee0a0a" stroke-width="5.5"/><path d="M190 1015.7L179.4 1016" stroke="#d8d8d8" stroke-width="5.5"/>
<path d="M204.8 1015.1L213.3 1004" stroke="#ee0a0a" stroke-width="5.5"/><path d="M213.3 1004L219.3 996.1" stroke="#d8d8d8" stroke-width="5.5"/>
<path d="M203 1038.7L214.2 1031.7" stroke="#ee0a0a" stroke-width="5.5"/><path d="M214.2 1031.7L222 1026.9" stroke="#d8d8d8" stroke-width="5.5"/>
<path d="M203 1038.7L212.7 1036.4" stroke="#ee0a0a" stroke-width="5.5"/><path d="M212.7 1036.4L218.4 1035.1" stroke="#d8d8d8" stroke-width="5.5"/>
<path d="M63.4 1040.5L59.7 1053.8" stroke="#ee0a0a" stroke-width="5.5"/><path d="M59.7 1053.8L57.1 1063.2" stroke="#d8d8d8" stroke-width="5.5"/>
<path d="M80.6 1060.4L90.1 1059.2" stroke="#ee0a0a" stroke-width="5.5"/><path d="M90.1 1059.2L94.2 1058.6" stroke="#d8d8d8" stroke-width="5.5"/>
<path d="M28.1 1102.1L35.9 1089" stroke="#ee0a0a" stroke-width="5.5"/><path d="M35.9 1089L41.7 1079.5" stroke="#d8d8d8" stroke-width="5.5"/>
<path d="M113.3 1106.6L111.2 1091.5" stroke="#ee0a0a" stroke-width="5.5"/><path d="M111.2 1091.5L109.6 1080.4" stroke="#d8d8d8" stroke-width="5.5"/>
<path d="M135.9 1078.6L147.4 1076.4" stroke="#ee0a0a" stroke-width="5.5"/><path d="M147.4 1076.4L154.9 1074.9" stroke="#d8d8d8" stroke-width="5.5"/>
<path d="M165.8 1094L153.4 1090.2" stroke="#ee0a0a" stroke-width="5.5"/><path d="M153.4 1090.2L145 1087.6" stroke="#d8d8d8" stroke-width="5.5"/>
<path d="M38.1 1106.6L24.8 1102.9" stroke="#ee0a0a" stroke-width="5.5"/><path d="M24.8 1102.9L15.4 1100.3" stroke="#d8d8d8" stroke-width="5.5"/>
<path d="M38.1 1106.6L50.4 1112" stroke="#ee0a0a" stroke-width="5.5"/><path d="M50.4 1112L58.9 1115.7" stroke="#d8d8d8" stroke-width="5.5"/>
<path d="M103.3 1120.2L97.5 1107.5" stroke="#ee0a0a" stroke-width="5.5"/><path d="M97.5 1107.5L93.3 1098.5" stroke="#d8d8d8" stroke-width="5.5"/>
<path d="M135.9 1078.6L129.6 1092.2" stroke="#ee0a0a" stroke-width="5.5"/><path d="M129.6 1092.2L125 1102.1" stroke="#d8d8d8" stroke-width="5.5"/>
<path d="M113.3 1106.6L124.8 1107.2" stroke="#ee0a0a" stroke-width="5.5"/><path d="M124.8 1107.2L132.3 1107.6" stroke="#d8d8d8" stroke-width="5.5"/>
<path d="M165.8 1094L173.1 1107.5" stroke="#ee0a0a" stroke-width="5.5"/><path d="M173.1 1107.5L178.5 1117.5" stroke="#d8d8d8" stroke-width="5.5"/>
<path d="M28.1 1102.1L21.4 1117.1" stroke="#ee0a0a" stroke-width="5.5"/><path d="M21.4 1117.1L16.3 1128.4" stroke="#d8d8d8" stroke-width="5.5"/>
<path d="M115.1 1155.6L115.6 1142.2" stroke="#ee0a0a" stroke-width="5.5"/><path d="M115.6 1142.2L116 1132.9" stroke="#d8d8d8" stroke-width="5.5"/>
<path d="M27.2 1154.7L39.8 1147.3" stroke="#ee0a0a" stroke-width="5.5"/><path d="M39.8 1147.3L48.9 1142" stroke="#d8d8d8" stroke-width="5.5"/>
<path d="M90.6 1124.8L98 1136.5" stroke="#ee0a0a" stroke-width="5.5"/><path d="M98 1136.5L103.3 1144.7" stroke="#d8d8d8" stroke-width="5.5"/>
<path d="M69.3 1164.6L77.8 1156.4" stroke="#ee0a0a" stroke-width="5.5"/><path d="M77.8 1156.4L83.4 1151" stroke="#d8d8d8" stroke-width="5.5"/>
<path d="M100.6 1178.1L99.5 1164.8" stroke="#ee0a0a" stroke-width="5.5"/><path d="M99.5 1164.8L98.8 1155.6" stroke="#d8d8d8" stroke-width="5.5"/>
<path d="M69.3 1164.6L82.7 1162.4" stroke="#ee0a0a" stroke-width="5.5"/><path d="M82.7 1162.4L92 1161" stroke="#d8d8d8" stroke-width="5.5"/>
<path d="M232.6 1105.3L225.5 1090.5" stroke="#ee0a0a" stroke-width="5.5"/><path d="M225.5 1090.5L220.2 1079.5" stroke="#d8d8d8" stroke-width="5.5"/>
<path d="M232.6 1132.9L228.4 1121" stroke="#ee0a0a" stroke-width="5.5"/><path d="M228.4 1121L225.6 1113" stroke="#d8d8d8" stroke-width="5.5"/>
<path d="M232.6 1132.9L219.5 1137.7" stroke="#ee0a0a" stroke-width="5.5"/><path d="M219.5 1137.7L210.2 1141.1" stroke="#d8d8d8" stroke-width="5.5"/>
<path d="M252.2 1136.5L238.6 1139.5" stroke="#ee0a0a" stroke-width="5.5"/><path d="M238.6 1139.5L228.9 1141.5" stroke="#d8d8d8" stroke-width="5.5"/>
<path d="M253.1 1115.7L246 1130.5" stroke="#ee0a0a" stroke-width="5.5"/><path d="M246 1130.5L240.7 1141.5" stroke="#d8d8d8" stroke-width="5.5"/>
<path d="M242.1 956.2L243.6 940.6" stroke="#ee0a0a" stroke-width="5.5"/><path d="M243.6 940.6L244.8 929.1" stroke="#d8d8d8" stroke-width="5.5"/>
<path d="M135 1161L148.8 1162" stroke="#ee0a0a" stroke-width="5.5"/><path d="M148.8 1162L158.6 1162.8" stroke="#d8d8d8" stroke-width="5.5"/>
<path d="M198.4 1149.2L188.5 1155.3" stroke="#ee0a0a" stroke-width="5.5"/><path d="M188.5 1155.3L182.1 1159.2" stroke="#d8d8d8" stroke-width="5.5"/>
<path d="M242.1 956.2L252.9 963.2" stroke="#ee0a0a" stroke-width="5.5"/><path d="M252.9 963.2L260.3 968" stroke="#d8d8d8" stroke-width="5.5"/>
<path d="M335.5 962.6L330.7 950.3" stroke="#ee0a0a" stroke-width="5.5"/><path d="M330.7 950.3L327.4 941.7" stroke="#d8d8d8" stroke-width="5.5"/>
<path d="M335.5 962.6L325.1 968.1" stroke="#ee0a0a" stroke-width="5.5"/><path d="M325.1 968.1L318.3 971.6" stroke="#d8d8d8" stroke-width="5.5"/>
<path d="M289.3 998.8L277.2 990.4" stroke="#ee0a0a" stroke-width="5.5"/><path d="M277.2 990.4L268.5 984.3" stroke="#d8d8d8" stroke-width="5.5"/>
<path d="M258.5 1008.8L269.5 1019.3" stroke="#ee0a0a" stroke-width="5.5"/><path d="M269.5 1019.3L277.6 1026.9" stroke="#d8d8d8" stroke-width="5.5"/>
<path d="M258.5 1008.8L271.8 1013" stroke="#ee0a0a" stroke-width="5.5"/><path d="M271.8 1013L281.2 1016" stroke="#d8d8d8" stroke-width="5.5"/>
<path d="M289.3 998.8L295.4 1008.7" stroke="#ee0a0a" stroke-width="5.5"/><path d="M295.4 1008.7L299.3 1015.1" stroke="#d8d8d8" stroke-width="5.5"/>
<path d="M339.2 1018.8L337.6 1004" stroke="#ee0a0a" stroke-width="5.5"/><path d="M337.6 1004L336.4 993.4" stroke="#d8d8d8" stroke-width="5.5"/>
<path d="M339.2 1018.8L353.9 1020.3" stroke="#ee0a0a" stroke-width="5.5"/><path d="M353.9 1020.3L364.5 1021.5" stroke="#d8d8d8" stroke-width="5.5"/>
<path d="M404.4 994.3L393.3 985.3" stroke="#ee0a0a" stroke-width="5.5"/><path d="M393.3 985.3L385.4 978.9" stroke="#d8d8d8" stroke-width="5.5"/>
<path d="M404.4 994.3L400.2 1008.5" stroke="#ee0a0a" stroke-width="5.5"/><path d="M400.2 1008.5L397.2 1018.8" stroke="#d8d8d8" stroke-width="5.5"/>
<path d="M428 1026L424.2 1012.7" stroke="#ee0a0a" stroke-width="5.5"/><path d="M424.2 1012.7L421.6 1003.4" stroke="#d8d8d8" stroke-width="5.5"/>
<path d="M304.7 1034.2L315.8 1037.5" stroke="#ee0a0a" stroke-width="5.5"/><path d="M315.8 1037.5L322.9 1039.6" stroke="#d8d8d8" stroke-width="5.5"/>
<path d="M304.7 1034.2L316.2 1045.1" stroke="#ee0a0a" stroke-width="5.5"/><path d="M316.2 1045.1L324.7 1053.2" stroke="#d8d8d8" stroke-width="5.5"/>
<path d="M307.5 1052.3L321.7 1054.4" stroke="#ee0a0a" stroke-width="5.5"/><path d="M321.7 1054.4L331.9 1055.9" stroke="#d8d8d8" stroke-width="5.5"/>
<path d="M393.5 1063.2L401 1051.9" stroke="#ee0a0a" stroke-width="5.5"/><path d="M401 1051.9L406.2 1044.1" stroke="#d8d8d8" stroke-width="5.5"/>
<path d="M407.1 1043.2L419.6 1041.1" stroke="#ee0a0a" stroke-width="5.5"/><path d="M419.6 1041.1L428 1039.6" stroke="#d8d8d8" stroke-width="5.5"/>
<path d="M407.1 1043.2L418.5 1048.6" stroke="#ee0a0a" stroke-width="5.5"/><path d="M418.5 1048.6L426.1 1052.3" stroke="#d8d8d8" stroke-width="5.5"/>
<path d="M393.5 1063.2L405.1 1072.6" stroke="#ee0a0a" stroke-width="5.5"/><path d="M405.1 1072.6L413.5 1079.5" stroke="#d8d8d8" stroke-width="5.5"/>
<path d="M462.4 1050.5L454.9 1039.3" stroke="#ee0a0a" stroke-width="5.5"/><path d="M454.9 1039.3L449.7 1031.4" stroke="#d8d8d8" stroke-width="5.5"/>
<path d="M439.7 1066.8L448.8 1061.7" stroke="#ee0a0a" stroke-width="5.5"/><path d="M448.8 1061.7L454.2 1058.6" stroke="#d8d8d8" stroke-width="5.5"/>
<path d="M439.7 1066.8L452.2 1068.9" stroke="#ee0a0a" stroke-width="5.5"/><path d="M452.2 1068.9L460.6 1070.4" stroke="#d8d8d8" stroke-width="5.5"/>
<path d="M422.5 1103L431.4 1090.5" stroke="#ee0a0a" stroke-width="5.5"/><path d="M431.4 1090.5L437.9 1081.3" stroke="#d8d8d8" stroke-width="5.5"/>
<path d="M422.5 1103L411.3 1096.1" stroke="#ee0a0a" stroke-width="5.5"/><path d="M411.3 1096.1L403.5 1091.2" stroke="#d8d8d8" stroke-width="5.5"/>
<path d="M450.6 1094L452.8 1105.9" stroke="#ee0a0a" stroke-width="5.5"/><path d="M452.8 1105.9L454.2 1113.9" stroke="#d8d8d8" stroke-width="5.5"/>
<path d="M330.1 1086.7L317 1079.4" stroke="#ee0a0a" stroke-width="5.5"/><path d="M317 1079.4L307.5 1074" stroke="#d8d8d8" stroke-width="5.5"/>
<path d="M307.5 1052.3L316.4 1064.4" stroke="#ee0a0a" stroke-width="5.5"/><path d="M316.4 1064.4L322.9 1073.1" stroke="#d8d8d8" stroke-width="5.5"/>
<path d="M290.2 1114.8L300.8 1105.3" stroke="#ee0a0a" stroke-width="5.5"/><path d="M300.8 1105.3L308.4 1098.5" stroke="#d8d8d8" stroke-width="5.5"/>
<path d="M330.1 1086.7L330.6 1100.1" stroke="#ee0a0a" stroke-width="5.5"/><path d="M330.6 1100.1L331 1109.4" stroke="#d8d8d8" stroke-width="5.5"/>
<path d="M350.9 1086.7L351.5 1099.6" stroke="#ee0a0a" stroke-width="5.5"/><path d="M351.5 1099.6L351.8 1108.5" stroke="#d8d8d8" stroke-width="5.5"/>
<path d="M347.3 1113.9L359.6 1108.6" stroke="#ee0a0a" stroke-width="5.5"/><path d="M359.6 1108.6L368.2 1104.8" stroke="#d8d8d8" stroke-width="5.5"/>
<path d="M347.3 1113.9L361.9 1119.6" stroke="#ee0a0a" stroke-width="5.5"/><path d="M361.9 1119.6L372.7 1123.9" stroke="#d8d8d8" stroke-width="5.5"/>
<path d="M258.5 1068.6L266.1 1062.8" stroke="#ee0a0a" stroke-width="5.5"/><path d="M266.1 1062.8L270.3 1059.5" stroke="#d8d8d8" stroke-width="5.5"/>
<path d="M290.2 1114.8L277.3 1116.4" stroke="#ee0a0a" stroke-width="5.5"/><path d="M277.3 1116.4L268.5 1117.5" stroke="#d8d8d8" stroke-width="5.5"/>
<path d="M253.1 1115.7L267.2 1121" stroke="#ee0a0a" stroke-width="5.5"/><path d="M267.2 1121L277.6 1124.8" stroke="#d8d8d8" stroke-width="5.5"/>
<path d="M293 1165.5L281.3 1158.1" stroke="#ee0a0a" stroke-width="5.5"/><path d="M281.3 1158.1L273 1152.9" stroke="#d8d8d8" stroke-width="5.5"/>
<path d="M350.9 1139.3L338.5 1138.7" stroke="#ee0a0a" stroke-width="5.5"/><path d="M338.5 1138.7L330.1 1138.4" stroke="#d8d8d8" stroke-width="5.5"/>
<path d="M447.9 1146.5L439.2 1137.8" stroke="#ee0a0a" stroke-width="5.5"/><path d="M439.2 1137.8L433.4 1132" stroke="#d8d8d8" stroke-width="5.5"/>
<path d="M447.9 1146.5L455.3 1134.3" stroke="#ee0a0a" stroke-width="5.5"/><path d="M455.3 1134.3L460.6 1125.7" stroke="#d8d8d8" stroke-width="5.5"/>
<path d="M414.4 1163.6L417 1149.4" stroke="#ee0a0a" stroke-width="5.5"/><path d="M417 1149.4L418.9 1139.3" stroke="#d8d8d8" stroke-width="5.5"/>
<path d="M415.3 1157.4L428.8 1160" stroke="#ee0a0a" stroke-width="5.5"/><path d="M428.8 1160L438.4 1161.9" stroke="#d8d8d8" stroke-width="5.5"/>
<path d="M325.6 1140.2L330.1 1153" stroke="#ee0a0a" stroke-width="5.5"/><path d="M330.1 1153L333.3 1161.9" stroke="#d8d8d8" stroke-width="5.5"/>
<path d="M391.7 1165.5L377.9 1162.9" stroke="#ee0a0a" stroke-width="5.5"/><path d="M377.9 1162.9L368.2 1161" stroke="#d8d8d8" stroke-width="5.5"/>
<path d="M27.2 1154.7L27.2 1167.1" stroke="#ee0a0a" stroke-width="5.5"/><path d="M27.2 1167.1L27.2 1175.4" stroke="#d8d8d8" stroke-width="5.5"/>
<path d="M100.6 1178.1L87.9 1185.5" stroke="#ee0a0a" stroke-width="5.5"/><path d="M87.9 1185.5L78.8 1190.8" stroke="#d8d8d8" stroke-width="5.5"/>
<path d="M128.7 1214.4L119.6 1204.7" stroke="#ee0a0a" stroke-width="5.5"/><path d="M119.6 1204.7L113.3 1198.1" stroke="#d8d8d8" stroke-width="5.5"/>
<path d="M116 1161.8L118.6 1175.1" stroke="#ee0a0a" stroke-width="5.5"/><path d="M118.6 1175.1L120.5 1184.5" stroke="#d8d8d8" stroke-width="5.5"/>
<path d="M182.1 1169.1L167.5 1174.8" stroke="#ee0a0a" stroke-width="5.5"/><path d="M167.5 1174.8L156.7 1179" stroke="#d8d8d8" stroke-width="5.5"/>
<path d="M182.1 1169.1L183.7 1185.1" stroke="#ee0a0a" stroke-width="5.5"/><path d="M183.7 1185.1L184.8 1197.1" stroke="#d8d8d8" stroke-width="5.5"/>
<path d="M198.4 1149.2L210 1159.1" stroke="#ee0a0a" stroke-width="5.5"/><path d="M210 1159.1L218.4 1166.3" stroke="#d8d8d8" stroke-width="5.5"/>
<path d="M27.2 1210.7L18.4 1197.2" stroke="#ee0a0a" stroke-width="5.5"/><path d="M18.4 1197.2L11.8 1187.2" stroke="#d8d8d8" stroke-width="5.5"/>
<path d="M39.9 1219.8L47.3 1208.1" stroke="#ee0a0a" stroke-width="5.5"/><path d="M47.3 1208.1L52.6 1199.9" stroke="#d8d8d8" stroke-width="5.5"/>
<path d="M39.9 1219.8L55.5 1221.4" stroke="#ee0a0a" stroke-width="5.5"/><path d="M55.5 1221.4L67 1222.5" stroke="#d8d8d8" stroke-width="5.5"/>
<path d="M27.2 1210.7L32 1223.1" stroke="#ee0a0a" stroke-width="5.5"/><path d="M32 1223.1L35.3 1231.6" stroke="#d8d8d8" stroke-width="5.5"/>
<path d="M87.9 1241.5L88.4 1225.9" stroke="#ee0a0a" stroke-width="5.5"/><path d="M88.4 1225.9L88.8 1214.4" stroke="#d8d8d8" stroke-width="5.5"/>
<path d="M87.9 1241.5L92.8 1252.9" stroke="#ee0a0a" stroke-width="5.5"/><path d="M92.8 1252.9L96 1260.6" stroke="#d8d8d8" stroke-width="5.5"/>
<path d="M124.1 1248.8L128.3 1234.1" stroke="#ee0a0a" stroke-width="5.5"/><path d="M128.3 1234.1L131.4 1223.4" stroke="#d8d8d8" stroke-width="5.5"/>
<path d="M192.1 1238.8L180.9 1230.3" stroke="#ee0a0a" stroke-width="5.5"/><path d="M180.9 1230.3L173.1 1224.3" stroke="#d8d8d8" stroke-width="5.5"/>
<path d="M162.2 1259.7L154.7 1248" stroke="#ee0a0a" stroke-width="5.5"/><path d="M154.7 1248L149.5 1239.7" stroke="#d8d8d8" stroke-width="5.5"/>
<path d="M145.9 1224.3L142.1 1237.2" stroke="#ee0a0a" stroke-width="5.5"/><path d="M142.1 1237.2L139.5 1246.1" stroke="#d8d8d8" stroke-width="5.5"/>
<path d="M124.1 1248.8L114.5 1245.4" stroke="#ee0a0a" stroke-width="5.5"/><path d="M114.5 1245.4L108.7 1243.4" stroke="#d8d8d8" stroke-width="5.5"/>
<path d="M145.9 1224.3L134 1236.2" stroke="#ee0a0a" stroke-width="5.5"/><path d="M134 1236.2L125 1245.2" stroke="#d8d8d8" stroke-width="5.5"/>
<path d="M192.1 1238.8L195.5 1248.5" stroke="#ee0a0a" stroke-width="5.5"/><path d="M195.5 1248.5L197.5 1254.2" stroke="#d8d8d8" stroke-width="5.5"/>
<path d="M162.2 1259.7L175.9 1254.4" stroke="#ee0a0a" stroke-width="5.5"/><path d="M175.9 1254.4L185.7 1250.6" stroke="#d8d8d8" stroke-width="5.5"/>
<path d="M217.5 1249.7L229.8 1255" stroke="#ee0a0a" stroke-width="5.5"/><path d="M229.8 1255L238.4 1258.8" stroke="#d8d8d8" stroke-width="5.5"/>
<path d="M210.2 1276L221.5 1269" stroke="#ee0a0a" stroke-width="5.5"/><path d="M221.5 1269L229.4 1264.2" stroke="#d8d8d8" stroke-width="5.5"/>
<path d="M217.5 1249.7L210 1260.9" stroke="#ee0a0a" stroke-width="5.5"/><path d="M210 1260.9L204.8 1268.7" stroke="#d8d8d8" stroke-width="5.5"/>
<path d="M238.9 1188.5L241 1203.5" stroke="#ee0a0a" stroke-width="5.5"/><path d="M241 1203.5L242.5 1214.4" stroke="#d8d8d8" stroke-width="5.5"/>
<path d="M187.6 1285L175.1 1285.6" stroke="#ee0a0a" stroke-width="5.5"/><path d="M175.1 1285.6L166.7 1285.9" stroke="#d8d8d8" stroke-width="5.5"/>
<path d="M187.6 1285L202.7 1288.2" stroke="#ee0a0a" stroke-width="5.5"/><path d="M202.7 1288.2L213.8 1290.5" stroke="#d8d8d8" stroke-width="5.5"/>
<path d="M210.2 1276L212.3 1291.6" stroke="#ee0a0a" stroke-width="5.5"/><path d="M212.3 1291.6L213.8 1303.2" stroke="#d8d8d8" stroke-width="5.5"/>
<path d="M36.2 1281.4L26.8 1282.7" stroke="#ee0a0a" stroke-width="5.5"/><path d="M26.8 1282.7L22.7 1283.2" stroke="#d8d8d8" stroke-width="5.5"/>
<path d="M29.9 1247.9L39.3 1260.9" stroke="#ee0a0a" stroke-width="5.5"/><path d="M39.3 1260.9L46.2 1270.5" stroke="#d8d8d8" stroke-width="5.5"/>
<path d="M20.8 1287.8L35.6 1287.2" stroke="#ee0a0a" stroke-width="5.5"/><path d="M35.6 1287.2L46.2 1286.8" stroke="#d8d8d8" stroke-width="5.5"/>
<path d="M125.9 1286.8L110.9 1281.1" stroke="#ee0a0a" stroke-width="5.5"/><path d="M110.9 1281.1L99.7 1276.9" stroke="#d8d8d8" stroke-width="5.5"/>
<path d="M125.9 1286.8L139.8 1286.8" stroke="#ee0a0a" stroke-width="5.5"/><path d="M139.8 1286.8L149.5 1286.8" stroke="#d8d8d8" stroke-width="5.5"/>
<path d="M129.6 1330.3L122.6 1319.6" stroke="#ee0a0a" stroke-width="5.5"/><path d="M122.6 1319.6L117.8 1312.2" stroke="#d8d8d8" stroke-width="5.5"/>
<path d="M65.2 1306.8L79.1 1307.8" stroke="#ee0a0a" stroke-width="5.5"/><path d="M79.1 1307.8L88.8 1308.6" stroke="#d8d8d8" stroke-width="5.5"/>
<path d="M20.8 1287.8L15.5 1300.5" stroke="#ee0a0a" stroke-width="5.5"/><path d="M15.5 1300.5L11.8 1309.5" stroke="#d8d8d8" stroke-width="5.5"/>
<path d="M183 1309.5L170.2 1312.7" stroke="#ee0a0a" stroke-width="5.5"/><path d="M170.2 1312.7L161.3 1314.9" stroke="#d8d8d8" stroke-width="5.5"/>
<path d="M193.9 1351.2L196.6 1339.2" stroke="#ee0a0a" stroke-width="5.5"/><path d="M196.6 1339.2L198.4 1331.2" stroke="#d8d8d8" stroke-width="5.5"/>
<path d="M171.2 1334L186.8 1337.1" stroke="#ee0a0a" stroke-width="5.5"/><path d="M186.8 1337.1L198.4 1339.4" stroke="#d8d8d8" stroke-width="5.5"/>
<path d="M65.2 1306.8L59.5 1321.4" stroke="#ee0a0a" stroke-width="5.5"/><path d="M59.5 1321.4L55.3 1332.2" stroke="#d8d8d8" stroke-width="5.5"/>
<path d="M26.3 1357.5L26.3 1343.7" stroke="#ee0a0a" stroke-width="5.5"/><path d="M26.3 1343.7L26.3 1334" stroke="#d8d8d8" stroke-width="5.5"/>
<path d="M93.3 1369.3L107.9 1363.1" stroke="#ee0a0a" stroke-width="5.5"/><path d="M107.9 1363.1L118.7 1358.4" stroke="#d8d8d8" stroke-width="5.5"/>
<path d="M151.3 1341.2L160.8 1341.9" stroke="#ee0a0a" stroke-width="5.5"/><path d="M160.8 1341.9L163.1 1342.1" stroke="#d8d8d8" stroke-width="5.5"/>
<path d="M238 1343.9L227.4 1351.5" stroke="#ee0a0a" stroke-width="5.5"/><path d="M227.4 1351.5L220.2 1356.6" stroke="#d8d8d8" stroke-width="5.5"/>
<path d="M193.9 1351.2L186.5 1362.9" stroke="#ee0a0a" stroke-width="5.5"/><path d="M186.5 1362.9L181.2 1371.1" stroke="#d8d8d8" stroke-width="5.5"/>
<path d="M93.3 1369.3L81.2 1360.9" stroke="#ee0a0a" stroke-width="5.5"/><path d="M81.2 1360.9L72.5 1354.8" stroke="#d8d8d8" stroke-width="5.5"/>
<path d="M81.5 1363L67.8 1358.2" stroke="#ee0a0a" stroke-width="5.5"/><path d="M67.8 1358.2L58 1354.8" stroke="#d8d8d8" stroke-width="5.5"/>
<path d="M81.5 1363L71.6 1374.5" stroke="#ee0a0a" stroke-width="5.5"/><path d="M71.6 1374.5L64.3 1382.9" stroke="#d8d8d8" stroke-width="5.5"/>
<path d="M95.1 1402.7L86 1393.1" stroke="#ee0a0a" stroke-width="5.5"/><path d="M86 1393.1L79.7 1386.5" stroke="#d8d8d8" stroke-width="5.5"/>
<path d="M33.5 1372.9L23.3 1380.5" stroke="#ee0a0a" stroke-width="5.5"/><path d="M23.3 1380.5L16.3 1385.6" stroke="#d8d8d8" stroke-width="5.5"/>
<path d="M14 1401L22 1392.2" stroke="#ee0a0a" stroke-width="5.5"/><path d="M22 1392.2L27.2 1386.5" stroke="#d8d8d8" stroke-width="5.5"/>
<path d="M154.9 1393.8L143.3 1385.8" stroke="#ee0a0a" stroke-width="5.5"/><path d="M143.3 1385.8L135 1380.2" stroke="#d8d8d8" stroke-width="5.5"/>
<path d="M154 1400.9L163.8 1392.9" stroke="#ee0a0a" stroke-width="5.5"/><path d="M163.8 1392.9L170.3 1387.4" stroke="#d8d8d8" stroke-width="5.5"/>
<path d="M229.8 1369.8L224.2 1382.3" stroke="#ee0a0a" stroke-width="5.5"/><path d="M224.2 1382.3L220.2 1391" stroke="#d8d8d8" stroke-width="5.5"/>
<path d="M243.4 1402.8L240.7 1390.4" stroke="#ee0a0a" stroke-width="5.5"/><path d="M240.7 1390.4L238.9 1382" stroke="#d8d8d8" stroke-width="5.5"/>
<path d="M154 1400.9L137.9 1401.7" stroke="#ee0a0a" stroke-width="5.5"/><path d="M137.9 1401.7L125.9 1402.3" stroke="#d8d8d8" stroke-width="5.5"/>
<path d="M66.1 1410.9L51.5 1405.9" stroke="#ee0a0a" stroke-width="5.5"/><path d="M51.5 1405.9L40.8 1402.3" stroke="#d8d8d8" stroke-width="5.5"/>
<path d="M350.9 1139.3L357.7 1153.3" stroke="#ee0a0a" stroke-width="5.5"/><path d="M357.7 1153.3L362.7 1163.6" stroke="#d8d8d8" stroke-width="5.5"/>
<path d="M367.3 1185.4L369.9 1172.5" stroke="#ee0a0a" stroke-width="5.5"/><path d="M369.9 1172.5L371.8 1163.6" stroke="#d8d8d8" stroke-width="5.5"/>
<path d="M256.7 1189.9L269.1 1193.1" stroke="#ee0a0a" stroke-width="5.5"/><path d="M269.1 1193.1L277.6 1195.3" stroke="#d8d8d8" stroke-width="5.5"/>
<path d="M312 1209.8L300.1 1206" stroke="#ee0a0a" stroke-width="5.5"/><path d="M300.1 1206L292 1203.5" stroke="#d8d8d8" stroke-width="5.5"/>
<path d="M303.8 1187.2L301 1197.8" stroke="#ee0a0a" stroke-width="5.5"/><path d="M301 1197.8L299.3 1204.4" stroke="#d8d8d8" stroke-width="5.5"/>
<path d="M303.8 1187.2L318.1 1186.1" stroke="#ee0a0a" stroke-width="5.5"/><path d="M318.1 1186.1L328.3 1185.4" stroke="#d8d8d8" stroke-width="5.5"/>
<path d="M312 1209.8L325.4 1208.8" stroke="#ee0a0a" stroke-width="5.5"/><path d="M325.4 1208.8L334.6 1208" stroke="#d8d8d8" stroke-width="5.5"/>
<path d="M290.2 1218L307.2 1219.5" stroke="#ee0a0a" stroke-width="5.5"/><path d="M307.2 1219.5L320.1 1220.7" stroke="#d8d8d8" stroke-width="5.5"/>
<path d="M379.9 1201.7L379.4 1187.9" stroke="#ee0a0a" stroke-width="5.5"/><path d="M379.4 1187.9L379 1178.1" stroke="#d8d8d8" stroke-width="5.5"/>
<path d="M367.3 1185.4L378.8 1184.3" stroke="#ee0a0a" stroke-width="5.5"/><path d="M378.8 1184.3L386.3 1183.6" stroke="#d8d8d8" stroke-width="5.5"/>
<path d="M391.7 1165.5L394.9 1178.3" stroke="#ee0a0a" stroke-width="5.5"/><path d="M394.9 1178.3L397.2 1187.2" stroke="#d8d8d8" stroke-width="5.5"/>
<path d="M415.3 1195.3L404.6 1194.2" stroke="#ee0a0a" stroke-width="5.5"/><path d="M404.6 1194.2L398.1 1193.5" stroke="#d8d8d8" stroke-width="5.5"/>
<path d="M379.9 1201.7L387.4 1213.4" stroke="#ee0a0a" stroke-width="5.5"/><path d="M387.4 1213.4L392.6 1221.6" stroke="#d8d8d8" stroke-width="5.5"/>
<path d="M414.4 1163.6L423.9 1174.2" stroke="#ee0a0a" stroke-width="5.5"/><path d="M423.9 1174.2L430.7 1181.7" stroke="#d8d8d8" stroke-width="5.5"/>
<path d="M415.3 1195.3L411 1208.6" stroke="#ee0a0a" stroke-width="5.5"/><path d="M411 1208.6L408 1218" stroke="#d8d8d8" stroke-width="5.5"/>
<path d="M433.4 1226.1L423.6 1219.1" stroke="#ee0a0a" stroke-width="5.5"/><path d="M423.6 1219.1L417.1 1214.4" stroke="#d8d8d8" stroke-width="5.5"/>
<path d="M433.4 1226.1L447.2 1224.5" stroke="#ee0a0a" stroke-width="5.5"/><path d="M447.2 1224.5L457 1223.4" stroke="#d8d8d8" stroke-width="5.5"/>
<path d="M341 1246.1L348.3 1233" stroke="#ee0a0a" stroke-width="5.5"/><path d="M348.3 1233L353.7 1223.4" stroke="#d8d8d8" stroke-width="5.5"/>
<path d="M419.8 1252.4L416.1 1239.1" stroke="#ee0a0a" stroke-width="5.5"/><path d="M416.1 1239.1L413.5 1229.8" stroke="#d8d8d8" stroke-width="5.5"/>
<path d="M232.6 1246.5L243.1 1238.7" stroke="#ee0a0a" stroke-width="5.5"/><path d="M243.1 1238.7L250.4 1233.4" stroke="#d8d8d8" stroke-width="5.5"/>
<path d="M317.4 1264.2L306.3 1255.7" stroke="#ee0a0a" stroke-width="5.5"/><path d="M306.3 1255.7L298.4 1249.7" stroke="#d8d8d8" stroke-width="5.5"/>
<path d="M280.3 1239.7L278.7 1252.6" stroke="#ee0a0a" stroke-width="5.5"/><path d="M278.7 1252.6L277.6 1261.5" stroke="#d8d8d8" stroke-width="5.5"/>
<path d="M341 1246.1L351.7 1254.1" stroke="#ee0a0a" stroke-width="5.5"/><path d="M351.7 1254.1L359.1 1259.7" stroke="#d8d8d8" stroke-width="5.5"/>
<path d="M397.2 1253.3L380.6 1256.4" stroke="#ee0a0a" stroke-width="5.5"/><path d="M380.6 1256.4L368.2 1258.8" stroke="#d8d8d8" stroke-width="5.5"/>
<path d="M429.8 1285L437.1 1272.4" stroke="#ee0a0a" stroke-width="5.5"/><path d="M437.1 1272.4L442.5 1263.3" stroke="#d8d8d8" stroke-width="5.5"/>
<path d="M429.8 1285L435.3 1275.1" stroke="#ee0a0a" stroke-width="5.5"/><path d="M435.3 1275.1L438.8 1268.7" stroke="#d8d8d8" stroke-width="5.5"/>
<path d="M282.1 1293.2L289.1 1282.4" stroke="#ee0a0a" stroke-width="5.5"/><path d="M289.1 1282.4L293.9 1275.1" stroke="#d8d8d8" stroke-width="5.5"/>
<path d="M330.1 1278.7L315.4 1277.1" stroke="#ee0a0a" stroke-width="5.5"/><path d="M315.4 1277.1L304.7 1276" stroke="#d8d8d8" stroke-width="5.5"/>
<path d="M317.4 1264.2L324.8 1277.3" stroke="#ee0a0a" stroke-width="5.5"/><path d="M324.8 1277.3L330.1 1286.8" stroke="#d8d8d8" stroke-width="5.5"/>
<path d="M330.1 1278.7L342.6 1278.7" stroke="#ee0a0a" stroke-width="5.5"/><path d="M342.6 1278.7L350.9 1278.7" stroke="#d8d8d8" stroke-width="5.5"/>
<path d="M397.2 1253.3L399.3 1266.2" stroke="#ee0a0a" stroke-width="5.5"/><path d="M399.3 1266.2L400.8 1275.1" stroke="#d8d8d8" stroke-width="5.5"/>
<path d="M388.1 1278.7L401.9 1277.1" stroke="#ee0a0a" stroke-width="5.5"/><path d="M401.9 1277.1L411.6 1276" stroke="#d8d8d8" stroke-width="5.5"/>
<path d="M419.8 1252.4L423 1266.2" stroke="#ee0a0a" stroke-width="5.5"/><path d="M423 1266.2L425.2 1276" stroke="#d8d8d8" stroke-width="5.5"/>
<path d="M452.4 1300.4L455.7 1288.5" stroke="#ee0a0a" stroke-width="5.5"/><path d="M455.7 1288.5L457.9 1280.5" stroke="#d8d8d8" stroke-width="5.5"/>
<path d="M388.1 1278.7L398.2 1288.3" stroke="#ee0a0a" stroke-width="5.5"/><path d="M398.2 1288.3L405.3 1295" stroke="#d8d8d8" stroke-width="5.5"/>
<path d="M362.7 1307.7L371.2 1296.5" stroke="#ee0a0a" stroke-width="5.5"/><path d="M371.2 1296.5L377.2 1288.7" stroke="#d8d8d8" stroke-width="5.5"/>
<path d="M299.3 1306.8L314 1307.8" stroke="#ee0a0a" stroke-width="5.5"/><path d="M314 1307.8L324.7 1308.6" stroke="#d8d8d8" stroke-width="5.5"/>
<path d="M304.7 1338.5L310.1 1326.2" stroke="#ee0a0a" stroke-width="5.5"/><path d="M310.1 1326.2L313.8 1317.7" stroke="#d8d8d8" stroke-width="5.5"/>
<path d="M282.1 1293.2L284.2 1305.6" stroke="#ee0a0a" stroke-width="5.5"/><path d="M284.2 1305.6L285.7 1314" stroke="#d8d8d8" stroke-width="5.5"/>
<path d="M280.3 1326.7L269.6 1318.2" stroke="#ee0a0a" stroke-width="5.5"/><path d="M269.6 1318.2L262.1 1312.2" stroke="#d8d8d8" stroke-width="5.5"/>
<path d="M428 1317.7L443.6 1316.6" stroke="#ee0a0a" stroke-width="5.5"/><path d="M443.6 1316.6L455.1 1315.8" stroke="#d8d8d8" stroke-width="5.5"/>
<path d="M428 1317.7L441.1 1324.5" stroke="#ee0a0a" stroke-width="5.5"/><path d="M441.1 1324.5L450.6 1329.4" stroke="#d8d8d8" stroke-width="5.5"/>
<path d="M362.7 1307.7L373.2 1318.2" stroke="#ee0a0a" stroke-width="5.5"/><path d="M373.2 1318.2L380.8 1325.8" stroke="#d8d8d8" stroke-width="5.5"/>
<path d="M405.3 1360.2L412.7 1347.6" stroke="#ee0a0a" stroke-width="5.5"/><path d="M412.7 1347.6L418 1338.5" stroke="#d8d8d8" stroke-width="5.5"/>
<path d="M238 1343.9L252.5 1340.8" stroke="#ee0a0a" stroke-width="5.5"/><path d="M252.5 1340.8L263.1 1338.5" stroke="#d8d8d8" stroke-width="5.5"/>
<path d="M280.3 1326.7L271.3 1338.3" stroke="#ee0a0a" stroke-width="5.5"/><path d="M271.3 1338.3L264.9 1346.6" stroke="#d8d8d8" stroke-width="5.5"/>
<path d="M304.7 1338.5L316.7 1341.8" stroke="#ee0a0a" stroke-width="5.5"/><path d="M316.7 1341.8L324.7 1343.9" stroke="#d8d8d8" stroke-width="5.5"/>
<path d="M342.8 1363L331.3 1359.1" stroke="#ee0a0a" stroke-width="5.5"/><path d="M331.3 1359.1L323.8 1356.6" stroke="#d8d8d8" stroke-width="5.5"/>
<path d="M267.6 1352.1L253.7 1362.4" stroke="#ee0a0a" stroke-width="5.5"/><path d="M253.7 1362.4L243.1 1370.2" stroke="#d8d8d8" stroke-width="5.5"/>
<path d="M267.6 1352.1L272.9 1365.8" stroke="#ee0a0a" stroke-width="5.5"/><path d="M272.9 1365.8L276.6 1375.6" stroke="#d8d8d8" stroke-width="5.5"/>
<path d="M365.4 1399.1L360.8 1383.6" stroke="#ee0a0a" stroke-width="5.5"/><path d="M360.8 1383.6L357.3 1372" stroke="#d8d8d8" stroke-width="5.5"/>
<path d="M395.3 1363.9L383.8 1363.3" stroke="#ee0a0a" stroke-width="5.5"/><path d="M383.8 1363.3L376.3 1363" stroke="#d8d8d8" stroke-width="5.5"/>
<path d="M364.5 1389.2L375.8 1382.8" stroke="#ee0a0a" stroke-width="5.5"/><path d="M375.8 1382.8L383.6 1378.4" stroke="#d8d8d8" stroke-width="5.5"/>
<path d="M395.3 1363.9L394.8 1377.2" stroke="#ee0a0a" stroke-width="5.5"/><path d="M394.8 1377.2L394.4 1386.5" stroke="#d8d8d8" stroke-width="5.5"/>
<path d="M450.2 1402.3L451 1390.1" stroke="#ee0a0a" stroke-width="5.5"/><path d="M451 1390.1L451.5 1382" stroke="#d8d8d8" stroke-width="5.5"/>
<path d="M281.2 1405L265.6 1402.4" stroke="#ee0a0a" stroke-width="5.5"/><path d="M265.6 1402.4L254 1400.5" stroke="#d8d8d8" stroke-width="5.5"/>
<path d="M281.2 1405L295.7 1402.4" stroke="#ee0a0a" stroke-width="5.5"/><path d="M295.7 1402.4L306.1 1400.5" stroke="#d8d8d8" stroke-width="5.5"/>
<path d="M364.5 1389.2L372.1 1394.9" stroke="#ee0a0a" stroke-width="5.5"/><path d="M372.1 1394.9L375.4 1397.4" stroke="#d8d8d8" stroke-width="5.5"/>
<path d="M14 1401L17.2 1409.9" stroke="#ee0a0a" stroke-width="5.5"/><path d="M17.2 1409.9L18.1 1412.7" stroke="#d8d8d8" stroke-width="5.5"/>
<path d="M97.9 1393.8L89.2 1402.4" stroke="#ee0a0a" stroke-width="5.5"/><path d="M89.2 1402.4L83.4 1408.2" stroke="#d8d8d8" stroke-width="5.5"/>
<path d="M95.1 1402.7L95.1 1416.1" stroke="#ee0a0a" stroke-width="5.5"/><path d="M95.1 1416.1L95.1 1425.4" stroke="#d8d8d8" stroke-width="5.5"/>
<path d="M154.9 1393.8L147.1 1406.3" stroke="#ee0a0a" stroke-width="5.5"/><path d="M147.1 1406.3L141.3 1415.4" stroke="#d8d8d8" stroke-width="5.5"/>
<path d="M174 1412.7L165.4 1422.9" stroke="#ee0a0a" stroke-width="5.5"/><path d="M165.4 1422.9L159.5 1429.9" stroke="#d8d8d8" stroke-width="5.5"/>
<path d="M207.5 1417.2L194.6 1414.5" stroke="#ee0a0a" stroke-width="5.5"/><path d="M194.6 1414.5L185.7 1412.7" stroke="#d8d8d8" stroke-width="5.5"/>
<path d="M173.1 1429.9L184.3 1422.9" stroke="#ee0a0a" stroke-width="5.5"/><path d="M184.3 1422.9L192.1 1418.1" stroke="#d8d8d8" stroke-width="5.5"/>
<path d="M243 1413.6L229.7 1418.9" stroke="#ee0a0a" stroke-width="5.5"/><path d="M229.7 1418.9L220.2 1422.7" stroke="#d8d8d8" stroke-width="5.5"/>
<path d="M207.5 1417.2L220.7 1414.5" stroke="#ee0a0a" stroke-width="5.5"/><path d="M220.7 1414.5L229.8 1412.7" stroke="#d8d8d8" stroke-width="5.5"/>
<path d="M128.7 1453.5L114.6 1447.2" stroke="#ee0a0a" stroke-width="5.5"/><path d="M114.6 1447.2L104.2 1442.6" stroke="#d8d8d8" stroke-width="5.5"/>
<path d="M109.6 1476.1L99.3 1469.1" stroke="#ee0a0a" stroke-width="5.5"/><path d="M99.3 1469.1L92.4 1464.3" stroke="#d8d8d8" stroke-width="5.5"/>
<path d="M128.7 1453.5L132.9 1467.7" stroke="#ee0a0a" stroke-width="5.5"/><path d="M132.9 1467.7L135.9 1477.9" stroke="#d8d8d8" stroke-width="5.5"/>
<path d="M112.4 1459.8L119.8 1472" stroke="#ee0a0a" stroke-width="5.5"/><path d="M119.8 1472L125 1480.6" stroke="#d8d8d8" stroke-width="5.5"/>
<path d="M109.6 1476.1L109.1 1489.9" stroke="#ee0a0a" stroke-width="5.5"/><path d="M109.1 1489.9L108.7 1499.7" stroke="#d8d8d8" stroke-width="5.5"/>
<path d="M20.8 1500.6L21.4 1484.9" stroke="#ee0a0a" stroke-width="5.5"/><path d="M21.4 1484.9L21.7 1473.4" stroke="#d8d8d8" stroke-width="5.5"/>
<path d="M20.8 1500.6L12.5 1507.8" stroke="#ee0a0a" stroke-width="5.5"/><path d="M12.5 1507.8L7.2 1512.4" stroke="#d8d8d8" stroke-width="5.5"/>
<path d="M56.2 1516.9L63.7 1505.7" stroke="#ee0a0a" stroke-width="5.5"/><path d="M63.7 1505.7L68.9 1497.9" stroke="#d8d8d8" stroke-width="5.5"/>
<path d="M43.5 1545L32 1535" stroke="#ee0a0a" stroke-width="5.5"/><path d="M32 1535L23.6 1527.8" stroke="#d8d8d8" stroke-width="5.5"/>
<path d="M43.5 1506.9L42.4 1522.6" stroke="#ee0a0a" stroke-width="5.5"/><path d="M42.4 1522.6L41.7 1534.1" stroke="#d8d8d8" stroke-width="5.5"/>
<path d="M43.5 1545L51.9 1538.8" stroke="#ee0a0a" stroke-width="5.5"/><path d="M51.9 1538.8L57.1 1535" stroke="#d8d8d8" stroke-width="5.5"/>
<path d="M56.2 1516.9L63.8 1526.7" stroke="#ee0a0a" stroke-width="5.5"/><path d="M63.8 1526.7L68.9 1533.2" stroke="#d8d8d8" stroke-width="5.5"/>
<path d="M94.2 1522.3L80.9 1519.7" stroke="#ee0a0a" stroke-width="5.5"/><path d="M80.9 1519.7L71.6 1517.8" stroke="#d8d8d8" stroke-width="5.5"/>
<path d="M94.2 1522.3L82.2 1524" stroke="#ee0a0a" stroke-width="5.5"/><path d="M82.2 1524L74.3 1525" stroke="#d8d8d8" stroke-width="5.5"/>
<path d="M117.8 1548.6L108.5 1540.4" stroke="#ee0a0a" stroke-width="5.5"/><path d="M108.5 1540.4L102.4 1535" stroke="#d8d8d8" stroke-width="5.5"/>
<path d="M115.1 1535L123.8 1526.8" stroke="#ee0a0a" stroke-width="5.5"/><path d="M123.8 1526.8L129.6 1521.4" stroke="#d8d8d8" stroke-width="5.5"/>
<path d="M115.1 1535L126.9 1530.2" stroke="#ee0a0a" stroke-width="5.5"/><path d="M126.9 1530.2L135 1526.8" stroke="#d8d8d8" stroke-width="5.5"/>
<path d="M171.2 1487L177 1471.9" stroke="#ee0a0a" stroke-width="5.5"/><path d="M177 1471.9L181.2 1460.7" stroke="#d8d8d8" stroke-width="5.5"/>
<path d="M157.7 1501.5L161.3 1485.9" stroke="#ee0a0a" stroke-width="5.5"/><path d="M161.3 1485.9L164 1474.3" stroke="#d8d8d8" stroke-width="5.5"/>
<path d="M171.2 1487L160.7 1484.2" stroke="#ee0a0a" stroke-width="5.5"/><path d="M160.7 1484.2L154 1482.5" stroke="#d8d8d8" stroke-width="5.5"/>
<path d="M157.7 1501.5L169.2 1501.5" stroke="#ee0a0a" stroke-width="5.5"/><path d="M169.2 1501.5L176.7 1501.5" stroke="#d8d8d8" stroke-width="5.5"/>
<path d="M170.3 1505.1L182.8 1504" stroke="#ee0a0a" stroke-width="5.5"/><path d="M182.8 1504L191.2 1503.3" stroke="#d8d8d8" stroke-width="5.5"/>
<path d="M170.3 1505.1L161.3 1510.2" stroke="#ee0a0a" stroke-width="5.5"/><path d="M161.3 1510.2L155.8 1513.3" stroke="#d8d8d8" stroke-width="5.5"/>
<path d="M220.2 1525L208.8 1519.6" stroke="#ee0a0a" stroke-width="5.5"/><path d="M208.8 1519.6L201.1 1516" stroke="#d8d8d8" stroke-width="5.5"/>
<path d="M245.2 1498.3L237.9 1511.2" stroke="#ee0a0a" stroke-width="5.5"/><path d="M237.9 1511.2L232.6 1520.5" stroke="#d8d8d8" stroke-width="5.5"/>
<path d="M245.2 1498.3L242.9 1512.6" stroke="#ee0a0a" stroke-width="5.5"/><path d="M242.9 1512.6L241.2 1522.8" stroke="#d8d8d8" stroke-width="5.5"/>
<path d="M205.7 1554L216 1541.6" stroke="#ee0a0a" stroke-width="5.5"/><path d="M216 1541.6L223.8 1532.3" stroke="#d8d8d8" stroke-width="5.5"/>
<path d="M228.5 1535L229.1 1544.5" stroke="#ee0a0a" stroke-width="5.5"/><path d="M229.1 1544.5L229.4 1550" stroke="#d8d8d8" stroke-width="5.5"/>
<path d="M220.2 1525L204.6 1530.2" stroke="#ee0a0a" stroke-width="5.5"/><path d="M204.6 1530.2L193 1534.1" stroke="#d8d8d8" stroke-width="5.5"/>
<path d="M205.7 1554L208.5 1563.7" stroke="#ee0a0a" stroke-width="5.5"/><path d="M208.5 1563.7L210.2 1569.4" stroke="#d8d8d8" stroke-width="5.5"/>
<path d="M174 1592.1L181.3 1579" stroke="#ee0a0a" stroke-width="5.5"/><path d="M181.3 1579L186.6 1569.4" stroke="#d8d8d8" stroke-width="5.5"/>
<path d="M62.5 1567.6L71.6 1557.5" stroke="#ee0a0a" stroke-width="5.5"/><path d="M71.6 1557.5L77.9 1550.4" stroke="#d8d8d8" stroke-width="5.5"/>
<path d="M45.3 1572.2L53 1563.9" stroke="#ee0a0a" stroke-width="5.5"/><path d="M53 1563.9L58 1558.6" stroke="#d8d8d8" stroke-width="5.5"/>
<path d="M141.3 1565.8L125.3 1563.7" stroke="#ee0a0a" stroke-width="5.5"/><path d="M125.3 1563.7L113.3 1562.2" stroke="#d8d8d8" stroke-width="5.5"/>
<path d="M141.3 1565.8L131.5 1572.4" stroke="#ee0a0a" stroke-width="5.5"/><path d="M131.5 1572.4L125 1576.7" stroke="#d8d8d8" stroke-width="5.5"/>
<path d="M117.8 1548.6L126.2 1561.2" stroke="#ee0a0a" stroke-width="5.5"/><path d="M126.2 1561.2L132.3 1570.3" stroke="#d8d8d8" stroke-width="5.5"/>
<path d="M45.3 1572.2L30.7 1577.4" stroke="#ee0a0a" stroke-width="5.5"/><path d="M30.7 1577.4L19.9 1581.2" stroke="#d8d8d8" stroke-width="5.5"/>
<path d="M62.5 1567.6L60.4 1583.7" stroke="#ee0a0a" stroke-width="5.5"/><path d="M60.4 1583.7L58.9 1595.7" stroke="#d8d8d8" stroke-width="5.5"/>
<path d="M161.3 1608.4L166.3 1598.4" stroke="#ee0a0a" stroke-width="5.5"/><path d="M166.3 1598.4L169.4 1592.1" stroke="#d8d8d8" stroke-width="5.5"/>
<path d="M44.4 1632.9L48.1 1618.2" stroke="#ee0a0a" stroke-width="5.5"/><path d="M48.1 1618.2L50.7 1607.5" stroke="#d8d8d8" stroke-width="5.5"/>
<path d="M91.5 1619.3L81.3 1621" stroke="#ee0a0a" stroke-width="5.5"/><path d="M81.3 1621L75.2 1622" stroke="#d8d8d8" stroke-width="5.5"/>
<path d="M75.2 1639.1L78.5 1628.6" stroke="#ee0a0a" stroke-width="5.5"/><path d="M78.5 1628.6L80.6 1622" stroke="#d8d8d8" stroke-width="5.5"/>
<path d="M161.3 1608.4L150.6 1616.9" stroke="#ee0a0a" stroke-width="5.5"/><path d="M150.6 1616.9L143.2 1622.9" stroke="#d8d8d8" stroke-width="5.5"/>
<path d="M150 1638.2L152.9 1625.9" stroke="#ee0a0a" stroke-width="5.5"/><path d="M152.9 1625.9L154.9 1617.5" stroke="#d8d8d8" stroke-width="5.5"/>
<path d="M174 1592.1L167.2 1606.6" stroke="#ee0a0a" stroke-width="5.5"/><path d="M167.2 1606.6L162.2 1617.5" stroke="#d8d8d8" stroke-width="5.5"/>
<path d="M230.3 1598L217.6 1605.6" stroke="#ee0a0a" stroke-width="5.5"/><path d="M217.6 1605.6L208.4 1611.1" stroke="#d8d8d8" stroke-width="5.5"/>
<path d="M228.4 1643.7L217.9 1632.7" stroke="#ee0a0a" stroke-width="5.5"/><path d="M217.9 1632.7L210.2 1624.7" stroke="#d8d8d8" stroke-width="5.5"/>
<path d="M41.7 1642.3L28.3 1640.7" stroke="#ee0a0a" stroke-width="5.5"/><path d="M28.3 1640.7L19 1639.6" stroke="#d8d8d8" stroke-width="5.5"/>
<path d="M91.5 1619.3L97.7 1627.7" stroke="#ee0a0a" stroke-width="5.5"/><path d="M97.7 1627.7L101.5 1632.9" stroke="#d8d8d8" stroke-width="5.5"/>
<path d="M145.9 1658.1L134.3 1648.5" stroke="#ee0a0a" stroke-width="5.5"/><path d="M134.3 1648.5L125.9 1641.4" stroke="#d8d8d8" stroke-width="5.5"/>
<path d="M44.4 1632.9L52.3 1639.3" stroke="#ee0a0a" stroke-width="5.5"/><path d="M52.3 1639.3L57.1 1643.2" stroke="#d8d8d8" stroke-width="5.5"/>
<path d="M365.4 1399.1L357.1 1406.9" stroke="#ee0a0a" stroke-width="5.5"/><path d="M357.1 1406.9L351.8 1411.8" stroke="#d8d8d8" stroke-width="5.5"/>
<path d="M243 1413.6L253.5 1425.1" stroke="#ee0a0a" stroke-width="5.5"/><path d="M253.5 1425.1L261.2 1433.5" stroke="#d8d8d8" stroke-width="5.5"/>
<path d="M270.3 1476.1L263.5 1463" stroke="#ee0a0a" stroke-width="5.5"/><path d="M263.5 1463L258.5 1453.5" stroke="#d8d8d8" stroke-width="5.5"/>
<path d="M293.9 1452.6L286.1 1444.3" stroke="#ee0a0a" stroke-width="5.5"/><path d="M286.1 1444.3L281.2 1439" stroke="#d8d8d8" stroke-width="5.5"/>
<path d="M275.7 1431.7L290.5 1432.2" stroke="#ee0a0a" stroke-width="5.5"/><path d="M290.5 1432.2L301.1 1432.6" stroke="#d8d8d8" stroke-width="5.5"/>
<path d="M275.7 1431.7L291.2 1437.9" stroke="#ee0a0a" stroke-width="5.5"/><path d="M291.2 1437.9L302.9 1442.6" stroke="#d8d8d8" stroke-width="5.5"/>
<path d="M399.9 1428.1L398.2 1417" stroke="#ee0a0a" stroke-width="5.5"/><path d="M398.2 1417L397.2 1410" stroke="#d8d8d8" stroke-width="5.5"/>
<path d="M450.2 1402.3L439.4 1413" stroke="#ee0a0a" stroke-width="5.5"/><path d="M439.4 1413L431.6 1420.8" stroke="#d8d8d8" stroke-width="5.5"/>
<path d="M460.6 1432.6L454.9 1424.1" stroke="#ee0a0a" stroke-width="5.5"/><path d="M454.9 1424.1L451.5 1419" stroke="#d8d8d8" stroke-width="5.5"/>
<path d="M460.6 1432.6L447.7 1432.6" stroke="#ee0a0a" stroke-width="5.5"/><path d="M447.7 1432.6L438.8 1432.6" stroke="#d8d8d8" stroke-width="5.5"/>
<path d="M391.7 1426.3L384.1 1435.6" stroke="#ee0a0a" stroke-width="5.5"/><path d="M384.1 1435.6L379 1441.7" stroke="#d8d8d8" stroke-width="5.5"/>
<path d="M391.7 1426.3L384.6 1439.4" stroke="#ee0a0a" stroke-width="5.5"/><path d="M384.6 1439.4L379.5 1448.9" stroke="#d8d8d8" stroke-width="5.5"/>
<path d="M413.5 1455.3L407.2 1447.3" stroke="#ee0a0a" stroke-width="5.5"/><path d="M407.2 1447.3L403.5 1442.6" stroke="#d8d8d8" stroke-width="5.5"/>
<path d="M399.9 1428.1L399.9 1443.7" stroke="#ee0a0a" stroke-width="5.5"/><path d="M399.9 1443.7L399.9 1455.3" stroke="#d8d8d8" stroke-width="5.5"/>
<path d="M337.4 1467L350.3 1466.5" stroke="#ee0a0a" stroke-width="5.5"/><path d="M350.3 1466.5L359.1 1466.1" stroke="#d8d8d8" stroke-width="5.5"/>
<path d="M370 1495.1L358.4 1485.7" stroke="#ee0a0a" stroke-width="5.5"/><path d="M358.4 1485.7L350 1478.8" stroke="#d8d8d8" stroke-width="5.5"/>
<path d="M293.9 1452.6L307.1 1456.8" stroke="#ee0a0a" stroke-width="5.5"/><path d="M307.1 1456.8L316.5 1459.8" stroke="#d8d8d8" stroke-width="5.5"/>
<path d="M413.5 1455.3L418.2 1469" stroke="#ee0a0a" stroke-width="5.5"/><path d="M418.2 1469L421.6 1478.8" stroke="#d8d8d8" stroke-width="5.5"/>
<path d="M441.5 1475.2L445.2 1461" stroke="#ee0a0a" stroke-width="5.5"/><path d="M445.2 1461L447.9 1450.7" stroke="#d8d8d8" stroke-width="5.5"/>
<path d="M441.5 1475.2L453 1479.6" stroke="#ee0a0a" stroke-width="5.5"/><path d="M453 1479.6L460.6 1482.5" stroke="#d8d8d8" stroke-width="5.5"/>
<path d="M259.4 1502.4L269.2 1488.5" stroke="#ee0a0a" stroke-width="5.5"/><path d="M269.2 1488.5L276.6 1477.9" stroke="#d8d8d8" stroke-width="5.5"/>
<path d="M313.8 1499.7L298.6 1500.7" stroke="#ee0a0a" stroke-width="5.5"/><path d="M298.6 1500.7L287.5 1501.5" stroke="#d8d8d8" stroke-width="5.5"/>
<path d="M259.4 1502.4L271.2 1508.3" stroke="#ee0a0a" stroke-width="5.5"/><path d="M271.2 1508.3L279.4 1512.4" stroke="#d8d8d8" stroke-width="5.5"/>
<path d="M327.4 1499.7L317.7 1490.6" stroke="#ee0a0a" stroke-width="5.5"/><path d="M317.7 1490.6L311.1 1484.3" stroke="#d8d8d8" stroke-width="5.5"/>
<path d="M337.4 1467L332.5 1478.9" stroke="#ee0a0a" stroke-width="5.5"/><path d="M332.5 1478.9L329.2 1487" stroke="#d8d8d8" stroke-width="5.5"/>
<path d="M370 1495.1L355.7 1497.2" stroke="#ee0a0a" stroke-width="5.5"/><path d="M355.7 1497.2L345.5 1498.8" stroke="#d8d8d8" stroke-width="5.5"/>
<path d="M327.4 1499.7L342.6 1499.1" stroke="#ee0a0a" stroke-width="5.5"/><path d="M342.6 1499.1L353.7 1498.8" stroke="#d8d8d8" stroke-width="5.5"/>
<path d="M313.8 1499.7L320.5 1508.6" stroke="#ee0a0a" stroke-width="5.5"/><path d="M320.5 1508.6L324.7 1514.2" stroke="#d8d8d8" stroke-width="5.5"/>
<path d="M301.1 1545L309.8 1530.1" stroke="#ee0a0a" stroke-width="5.5"/><path d="M309.8 1530.1L316.5 1518.7" stroke="#d8d8d8" stroke-width="5.5"/>
<path d="M334.6 1543.2L320.5 1537.4" stroke="#ee0a0a" stroke-width="5.5"/><path d="M320.5 1537.4L310.2 1533.2" stroke="#d8d8d8" stroke-width="5.5"/>
<path d="M389.9 1503.3L401.3 1498.4" stroke="#ee0a0a" stroke-width="5.5"/><path d="M401.3 1498.4L408.9 1495.1" stroke="#d8d8d8" stroke-width="5.5"/>
<path d="M424.3 1529.6L414.8 1518.5" stroke="#ee0a0a" stroke-width="5.5"/><path d="M414.8 1518.5L408 1510.5" stroke="#d8d8d8" stroke-width="5.5"/>
<path d="M389.9 1503.3L391 1516.2" stroke="#ee0a0a" stroke-width="5.5"/><path d="M391 1516.2L391.7 1525" stroke="#d8d8d8" stroke-width="5.5"/>
<path d="M420.7 1520.5L407.8 1520" stroke="#ee0a0a" stroke-width="5.5"/><path d="M407.8 1520L399 1519.6" stroke="#d8d8d8" stroke-width="5.5"/>
<path d="M424.3 1529.6L431.7 1517.4" stroke="#ee0a0a" stroke-width="5.5"/><path d="M431.7 1517.4L437 1508.7" stroke="#d8d8d8" stroke-width="5.5"/>
<path d="M443.4 1516L454.9 1515.4" stroke="#ee0a0a" stroke-width="5.5"/><path d="M454.9 1515.4L462.4 1515.1" stroke="#d8d8d8" stroke-width="5.5"/>
<path d="M443.4 1516L437.4 1526.8" stroke="#ee0a0a" stroke-width="5.5"/><path d="M437.4 1526.8L433.4 1534.1" stroke="#d8d8d8" stroke-width="5.5"/>
<path d="M412.6 1565.8L420.6 1555.1" stroke="#ee0a0a" stroke-width="5.5"/><path d="M420.6 1555.1L426.1 1547.7" stroke="#d8d8d8" stroke-width="5.5"/>
<path d="M334.6 1543.2L347 1531.8" stroke="#ee0a0a" stroke-width="5.5"/><path d="M347 1531.8L356.4 1523.2" stroke="#d8d8d8" stroke-width="5.5"/>
<path d="M315.6 1524.1L317.7 1539.3" stroke="#ee0a0a" stroke-width="5.5"/><path d="M317.7 1539.3L319.2 1550.4" stroke="#d8d8d8" stroke-width="5.5"/>
<path d="M301.1 1545L306.3 1560" stroke="#ee0a0a" stroke-width="5.5"/><path d="M306.3 1560L310.2 1571.2" stroke="#d8d8d8" stroke-width="5.5"/>
<path d="M228.5 1535L243.7 1538.1" stroke="#ee0a0a" stroke-width="5.5"/><path d="M243.7 1538.1L254.9 1540.4" stroke="#d8d8d8" stroke-width="5.5"/>
<path d="M267.6 1603L257.6 1592.4" stroke="#ee0a0a" stroke-width="5.5"/><path d="M257.6 1592.4L250.4 1584.8" stroke="#d8d8d8" stroke-width="5.5"/>
<path d="M281.2 1599.3L270.1 1589.4" stroke="#ee0a0a" stroke-width="5.5"/><path d="M270.1 1589.4L262.1 1582.1" stroke="#d8d8d8" stroke-width="5.5"/>
<path d="M267.6 1603L275.6 1597.2" stroke="#ee0a0a" stroke-width="5.5"/><path d="M275.6 1597.2L280.3 1593.9" stroke="#d8d8d8" stroke-width="5.5"/>
<path d="M230.3 1598L241.1 1605.7" stroke="#ee0a0a" stroke-width="5.5"/><path d="M241.1 1605.7L248.6 1611.1" stroke="#d8d8d8" stroke-width="5.5"/>
<path d="M258.5 1642.8L253.1 1631.9" stroke="#ee0a0a" stroke-width="5.5"/><path d="M253.1 1631.9L249.5 1624.7" stroke="#d8d8d8" stroke-width="5.5"/>
<path d="M337.4 1592.1L323.6 1596.3" stroke="#ee0a0a" stroke-width="5.5"/><path d="M323.6 1596.3L313.8 1599.3" stroke="#d8d8d8" stroke-width="5.5"/>
<path d="M348.2 1595.7L345.4 1585.1" stroke="#ee0a0a" stroke-width="5.5"/><path d="M345.4 1585.1L343.7 1578.5" stroke="#d8d8d8" stroke-width="5.5"/>
<path d="M337.4 1592.1L349.1 1599" stroke="#ee0a0a" stroke-width="5.5"/><path d="M349.1 1599L357.3 1603.9" stroke="#d8d8d8" stroke-width="5.5"/>
<path d="M348.2 1595.7L354.1 1607.5" stroke="#ee0a0a" stroke-width="5.5"/><path d="M354.1 1607.5L358.2 1615.6" stroke="#d8d8d8" stroke-width="5.5"/>
<path d="M408 1603.9L396.6 1599" stroke="#ee0a0a" stroke-width="5.5"/><path d="M396.6 1599L389 1595.7" stroke="#d8d8d8" stroke-width="5.5"/>
<path d="M408 1603.9L407.5 1590.5" stroke="#ee0a0a" stroke-width="5.5"/><path d="M407.5 1590.5L407.1 1581.2" stroke="#d8d8d8" stroke-width="5.5"/>
<path d="M412.6 1565.8L418 1576.2" stroke="#ee0a0a" stroke-width="5.5"/><path d="M418 1576.2L421.6 1583" stroke="#d8d8d8" stroke-width="5.5"/>
<path d="M406.2 1622L417 1615.5" stroke="#ee0a0a" stroke-width="5.5"/><path d="M417 1615.5L424.3 1611.1" stroke="#d8d8d8" stroke-width="5.5"/>
<path d="M441.5 1606.6L452.6 1616.1" stroke="#ee0a0a" stroke-width="5.5"/><path d="M452.6 1616.1L460.6 1622.9" stroke="#d8d8d8" stroke-width="5.5"/>
<path d="M341.9 1632L353 1634.2" stroke="#ee0a0a" stroke-width="5.5"/><path d="M353 1634.2L360 1635.6" stroke="#d8d8d8" stroke-width="5.5"/>
<path d="M258.5 1642.8L270.9 1638.5" stroke="#ee0a0a" stroke-width="5.5"/><path d="M270.9 1638.5L279.4 1635.6" stroke="#d8d8d8" stroke-width="5.5"/>
<path d="M75.2 1639.1L74.7 1651.1" stroke="#ee0a0a" stroke-width="5.5"/><path d="M74.7 1651.1L74.3 1659" stroke="#d8d8d8" stroke-width="5.5"/>
<path d="M58.9 1650L49.3 1660.1" stroke="#ee0a0a" stroke-width="5.5"/><path d="M49.3 1660.1L42.6 1667.2" stroke="#d8d8d8" stroke-width="5.5"/>
<path d="M41.7 1642.3L45.9 1655.3" stroke="#ee0a0a" stroke-width="5.5"/><path d="M45.9 1655.3L48.9 1664.5" stroke="#d8d8d8" stroke-width="5.5"/>
<path d="M58.9 1650L58.9 1664.7" stroke="#ee0a0a" stroke-width="5.5"/><path d="M58.9 1664.7L58.9 1675.3" stroke="#d8d8d8" stroke-width="5.5"/>
<path d="M61.6 1694.4L74.8 1699.7" stroke="#ee0a0a" stroke-width="5.5"/><path d="M74.8 1699.7L84.3 1703.4" stroke="#d8d8d8" stroke-width="5.5"/>
<path d="M67 1702.5L70.3 1714" stroke="#ee0a0a" stroke-width="5.5"/><path d="M70.3 1714L72.5 1721.5" stroke="#d8d8d8" stroke-width="5.5"/>
<path d="M67 1702.5L53.6 1711.3" stroke="#ee0a0a" stroke-width="5.5"/><path d="M53.6 1711.3L43.5 1717.9" stroke="#d8d8d8" stroke-width="5.5"/>
<path d="M118.7 1685.3L105.6 1678" stroke="#ee0a0a" stroke-width="5.5"/><path d="M105.6 1678L96 1672.6" stroke="#d8d8d8" stroke-width="5.5"/>
<path d="M118.7 1685.3L111.7 1691.7" stroke="#ee0a0a" stroke-width="5.5"/><path d="M111.7 1691.7L108.7 1694.4" stroke="#d8d8d8" stroke-width="5.5"/>
<path d="M125.9 1717.9L126.5 1705" stroke="#ee0a0a" stroke-width="5.5"/><path d="M126.5 1705L126.8 1696.2" stroke="#d8d8d8" stroke-width="5.5"/>
<path d="M175.8 1651.8L163.9 1656.6" stroke="#ee0a0a" stroke-width="5.5"/><path d="M163.9 1656.6L155.8 1659.9" stroke="#d8d8d8" stroke-width="5.5"/>
<path d="M145.9 1658.1L156.5 1659.8" stroke="#ee0a0a" stroke-width="5.5"/><path d="M156.5 1659.8L163.1 1660.8" stroke="#d8d8d8" stroke-width="5.5"/>
<path d="M150 1638.2L145.6 1654.7" stroke="#ee0a0a" stroke-width="5.5"/><path d="M145.6 1654.7L142.3 1667.2" stroke="#d8d8d8" stroke-width="5.5"/>
<path d="M175.8 1651.8L189 1658.1" stroke="#ee0a0a" stroke-width="5.5"/><path d="M189 1658.1L198.4 1662.7" stroke="#d8d8d8" stroke-width="5.5"/>
<path d="M228.4 1643.7L226.7 1653" stroke="#ee0a0a" stroke-width="5.5"/><path d="M226.7 1653L225.8 1658.1" stroke="#d8d8d8" stroke-width="5.5"/>
<path d="M170.3 1688L183.5 1680.7" stroke="#ee0a0a" stroke-width="5.5"/><path d="M183.5 1680.7L193 1675.3" stroke="#d8d8d8" stroke-width="5.5"/>
<path d="M137.7 1691.6L149.7 1694.9" stroke="#ee0a0a" stroke-width="5.5"/><path d="M149.7 1694.9L157.7 1697.1" stroke="#d8d8d8" stroke-width="5.5"/>
<path d="M137.7 1691.6L145.2 1703.3" stroke="#ee0a0a" stroke-width="5.5"/><path d="M145.2 1703.3L150.4 1711.6" stroke="#d8d8d8" stroke-width="5.5"/>
<path d="M125.9 1717.9L140.7 1718.4" stroke="#ee0a0a" stroke-width="5.5"/><path d="M140.7 1718.4L151.3 1718.8" stroke="#d8d8d8" stroke-width="5.5"/>
<path d="M170.3 1688L176.6 1701.7" stroke="#ee0a0a" stroke-width="5.5"/><path d="M176.6 1701.7L181.2 1711.6" stroke="#d8d8d8" stroke-width="5.5"/>
<path d="M190.3 1709.8L204.5 1712.9" stroke="#ee0a0a" stroke-width="5.5"/><path d="M204.5 1712.9L214.7 1715.2" stroke="#d8d8d8" stroke-width="5.5"/>
<path d="M190.3 1709.8L196 1723.9" stroke="#ee0a0a" stroke-width="5.5"/><path d="M196 1723.9L200.2 1734.2" stroke="#d8d8d8" stroke-width="5.5"/>
<path d="M174.9 1745.1L175.4 1761.6" stroke="#ee0a0a" stroke-width="5.5"/><path d="M175.4 1761.6L175.8 1774.1" stroke="#d8d8d8" stroke-width="5.5"/>
<path d="M246.6 1679L238.9 1690.6" stroke="#ee0a0a" stroke-width="5.5"/><path d="M238.9 1690.6L233.5 1698.9" stroke="#d8d8d8" stroke-width="5.5"/>
<path d="M283.9 1661.7L271 1659.6" stroke="#ee0a0a" stroke-width="5.5"/><path d="M271 1659.6L262.1 1658.1" stroke="#d8d8d8" stroke-width="5.5"/>
<path d="M256.7 1649.1L270.1 1650.1" stroke="#ee0a0a" stroke-width="5.5"/><path d="M270.1 1650.1L279.4 1650.9" stroke="#d8d8d8" stroke-width="5.5"/>
<path d="M283.9 1661.7L295.1 1653.8" stroke="#ee0a0a" stroke-width="5.5"/><path d="M295.1 1653.8L302.9 1648.2" stroke="#d8d8d8" stroke-width="5.5"/>
<path d="M256.7 1649.1L258.8 1664.7" stroke="#ee0a0a" stroke-width="5.5"/><path d="M258.8 1664.7L260.3 1676.2" stroke="#d8d8d8" stroke-width="5.5"/>
<path d="M289.3 1678.1L276.4 1680.2" stroke="#ee0a0a" stroke-width="5.5"/><path d="M276.4 1680.2L267.6 1681.7" stroke="#d8d8d8" stroke-width="5.5"/>
<path d="M289.3 1678.1L305 1678.1" stroke="#ee0a0a" stroke-width="5.5"/><path d="M305 1678.1L316.5 1678.1" stroke="#d8d8d8" stroke-width="5.5"/>
<path d="M246.6 1679L247.8 1691.9" stroke="#ee0a0a" stroke-width="5.5"/><path d="M247.8 1691.9L248.6 1700.7" stroke="#d8d8d8" stroke-width="5.5"/>
<path d="M296.6 1738.8L285.2 1732.8" stroke="#ee0a0a" stroke-width="5.5"/><path d="M285.2 1732.8L277.6 1728.8" stroke="#d8d8d8" stroke-width="5.5"/>
<path d="M264 1719.7L270.6 1729.1" stroke="#ee0a0a" stroke-width="5.5"/><path d="M270.6 1729.1L274.8 1735.1" stroke="#d8d8d8" stroke-width="5.5"/>
<path d="M264 1719.7L263.4 1731.3" stroke="#ee0a0a" stroke-width="5.5"/><path d="M263.4 1731.3L263.1 1738.8" stroke="#d8d8d8" stroke-width="5.5"/>
<path d="M296.6 1738.8L310.9 1738.8" stroke="#ee0a0a" stroke-width="5.5"/><path d="M310.9 1738.8L321 1738.8" stroke="#d8d8d8" stroke-width="5.5"/>
<path d="M352.8 1662.7L342.6 1665.5" stroke="#ee0a0a" stroke-width="5.5"/><path d="M342.6 1665.5L336.4 1667.2" stroke="#d8d8d8" stroke-width="5.5"/>
<path d="M341.9 1632L351 1641.5" stroke="#ee0a0a" stroke-width="5.5"/><path d="M351 1641.5L357.3 1648.2" stroke="#d8d8d8" stroke-width="5.5"/>
<path d="M352.8 1662.7L355.5 1650.2" stroke="#ee0a0a" stroke-width="5.5"/><path d="M355.5 1650.2L357.3 1641.8" stroke="#d8d8d8" stroke-width="5.5"/>
<path d="M383.6 1679.9L387.9 1668.4" stroke="#ee0a0a" stroke-width="5.5"/><path d="M387.9 1668.4L390.8 1660.8" stroke="#d8d8d8" stroke-width="5.5"/>
<path d="M370 1718.8L369.5 1702.7" stroke="#ee0a0a" stroke-width="5.5"/><path d="M369.5 1702.7L369.1 1690.7" stroke="#d8d8d8" stroke-width="5.5"/>
<path d="M366.3 1676.2L363.7 1690.9" stroke="#ee0a0a" stroke-width="5.5"/><path d="M363.7 1690.9L361.8 1701.6" stroke="#d8d8d8" stroke-width="5.5"/>
<path d="M424.3 1694.4L412.3 1684.9" stroke="#ee0a0a" stroke-width="5.5"/><path d="M412.3 1684.9L403.5 1678.1" stroke="#d8d8d8" stroke-width="5.5"/>
<path d="M383.6 1679.9L399.2 1681.9" stroke="#ee0a0a" stroke-width="5.5"/><path d="M399.2 1681.9L410.7 1683.5" stroke="#d8d8d8" stroke-width="5.5"/>
<path d="M451.5 1712.5L442.3 1697.6" stroke="#ee0a0a" stroke-width="5.5"/><path d="M442.3 1697.6L435.2 1686.2" stroke="#d8d8d8" stroke-width="5.5"/>
<path d="M437.9 1694.4L438.5 1681" stroke="#ee0a0a" stroke-width="5.5"/><path d="M438.5 1681L438.8 1671.7" stroke="#d8d8d8" stroke-width="5.5"/>
<path d="M445.2 1685.3L438.8 1697.1" stroke="#ee0a0a" stroke-width="5.5"/><path d="M438.8 1697.1L434.3 1705.2" stroke="#d8d8d8" stroke-width="5.5"/>
<path d="M437.9 1694.4L451.7 1697" stroke="#ee0a0a" stroke-width="5.5"/><path d="M451.7 1697L461.5 1698.9" stroke="#d8d8d8" stroke-width="5.5"/>
<path d="M370 1718.8L384.6 1714.6" stroke="#ee0a0a" stroke-width="5.5"/><path d="M384.6 1714.6L395.3 1711.6" stroke="#d8d8d8" stroke-width="5.5"/>
<path d="M451.5 1712.5L443.1 1724.6" stroke="#ee0a0a" stroke-width="5.5"/><path d="M443.1 1724.6L437 1733.3" stroke="#d8d8d8" stroke-width="5.5"/>
<path d="M408 1766.8L398.2 1759.8" stroke="#ee0a0a" stroke-width="5.5"/><path d="M398.2 1759.8L391.7 1755.1" stroke="#d8d8d8" stroke-width="5.5"/>
<path d="M408 1766.8L399.1 1778.4" stroke="#ee0a0a" stroke-width="5.5"/><path d="M399.1 1778.4L392.6 1786.8" stroke="#d8d8d8" stroke-width="5.5"/>
<path d="M406.2 1622L412.1 1634.2" stroke="#ee0a0a" stroke-width="5.5"/><path d="M412.1 1634.2L416.2 1642.7" stroke="#d8d8d8" stroke-width="5.5"/>
<circle cx="29" cy="1008.8" r="9.5" fill="url(#gO)"/>
<circle cx="51.6" cy="1026.9" r="9.5" fill="url(#gO)"/>
<circle cx="63.4" cy="1040.5" r="9.5" fill="url(#gO)"/>
<circle cx="10.9" cy="1035.1" r="9.5" fill="url(#gO)"/>
<circle cx="106.9" cy="1017.9" r="9.5" fill="url(#gO)"/>
<circle cx="118.7" cy="1008.8" r="9.5" fill="url(#gO)"/>
<circle cx="133.2" cy="1024.2" r="9.5" fill="url(#gO)"/>
<circle cx="132.3" cy="1039.6" r="9.5" fill="url(#gO)"/>
<circle cx="204.8" cy="1015.1" r="9.5" fill="url(#gO)"/>
<circle cx="203" cy="1038.7" r="9.5" fill="url(#gO)"/>
<circle cx="80.6" cy="1060.4" r="9.5" fill="url(#gO)"/>
<circle cx="242.1" cy="956.2" r="9.5" fill="url(#gO)"/>
<circle cx="135.9" cy="1078.6" r="9.5" fill="url(#gO)"/>
<circle cx="165.8" cy="1094" r="9.5" fill="url(#gO)"/>
<circle cx="28.1" cy="1102.1" r="9.5" fill="url(#gO)"/>
<circle cx="38.1" cy="1106.6" r="9.5" fill="url(#gO)"/>
<circle cx="113.3" cy="1106.6" r="9.5" fill="url(#gO)"/>
<circle cx="90.6" cy="1124.8" r="9.5" fill="url(#gO)"/>
<circle cx="103.3" cy="1120.2" r="9.5" fill="url(#gO)"/>
<circle cx="232.6" cy="1105.3" r="9.5" fill="url(#gO)"/>
<circle cx="232.6" cy="1132.9" r="9.5" fill="url(#gO)"/>
<circle cx="198.4" cy="1149.2" r="9.5" fill="url(#gO)"/>
<circle cx="176.7" cy="1156.5" r="9.5" fill="url(#gO)"/>
<circle cx="135" cy="1161" r="9.5" fill="url(#gO)"/>
<circle cx="115.1" cy="1155.6" r="9.5" fill="url(#gO)"/>
<circle cx="69.3" cy="1164.6" r="9.5" fill="url(#gO)"/>
<circle cx="27.2" cy="1154.7" r="9.5" fill="url(#gO)"/>
<circle cx="335.5" cy="962.6" r="9.5" fill="url(#gO)"/>
<circle cx="258.5" cy="1008.8" r="9.5" fill="url(#gO)"/>
<circle cx="289.3" cy="998.8" r="9.5" fill="url(#gO)"/>
<circle cx="339.2" cy="1018.8" r="9.5" fill="url(#gO)"/>
<circle cx="404.4" cy="994.3" r="9.5" fill="url(#gO)"/>
<circle cx="428" cy="1026" r="9.5" fill="url(#gO)"/>
<circle cx="304.7" cy="1034.2" r="9.5" fill="url(#gO)"/>
<circle cx="307.5" cy="1052.3" r="9.5" fill="url(#gO)"/>
<circle cx="407.1" cy="1043.2" r="9.5" fill="url(#gO)"/>
<circle cx="393.5" cy="1063.2" r="9.5" fill="url(#gO)"/>
<circle cx="375.4" cy="1074" r="9.5" fill="url(#gO)"/>
<circle cx="439.7" cy="1066.8" r="9.5" fill="url(#gO)"/>
<circle cx="462.4" cy="1050.5" r="9.5" fill="url(#gO)"/>
<circle cx="257.6" cy="1057.7" r="9.5" fill="url(#gO)"/>
<circle cx="258.5" cy="1068.6" r="9.5" fill="url(#gO)"/>
<circle cx="330.1" cy="1086.7" r="9.5" fill="url(#gO)"/>
<circle cx="350.9" cy="1086.7" r="9.5" fill="url(#gO)"/>
<circle cx="360.9" cy="1098.5" r="9.5" fill="url(#gO)"/>
<circle cx="422.5" cy="1103" r="9.5" fill="url(#gO)"/>
<circle cx="450.6" cy="1094" r="9.5" fill="url(#gO)"/>
<circle cx="347.3" cy="1113.9" r="9.5" fill="url(#gO)"/>
<circle cx="253.1" cy="1115.7" r="9.5" fill="url(#gO)"/>
<circle cx="290.2" cy="1114.8" r="9.5" fill="url(#gO)"/>
<circle cx="252.2" cy="1136.5" r="9.5" fill="url(#gO)"/>
<circle cx="325.6" cy="1140.2" r="9.5" fill="url(#gO)"/>
<circle cx="350.9" cy="1139.3" r="9.5" fill="url(#gO)"/>
<circle cx="447.9" cy="1146.5" r="9.5" fill="url(#gO)"/>
<circle cx="462.4" cy="1144.7" r="9.5" fill="url(#gO)"/>
<circle cx="415.3" cy="1157.4" r="9.5" fill="url(#gO)"/>
<circle cx="391.7" cy="1165.5" r="9.5" fill="url(#gO)"/>
<circle cx="293" cy="1165.5" r="9.5" fill="url(#gO)"/>
<circle cx="100.6" cy="1178.1" r="9.5" fill="url(#gO)"/>
<circle cx="182.1" cy="1169.1" r="9.5" fill="url(#gO)"/>
<circle cx="116" cy="1161.8" r="9.5" fill="url(#gO)"/>
<circle cx="238.9" cy="1188.5" r="9.5" fill="url(#gO)"/>
<circle cx="27.2" cy="1210.7" r="9.5" fill="url(#gO)"/>
<circle cx="39.9" cy="1219.8" r="9.5" fill="url(#gO)"/>
<circle cx="29.9" cy="1247.9" r="9.5" fill="url(#gO)"/>
<circle cx="87.9" cy="1241.5" r="9.5" fill="url(#gO)"/>
<circle cx="128.7" cy="1214.4" r="9.5" fill="url(#gO)"/>
<circle cx="145.9" cy="1224.3" r="9.5" fill="url(#gO)"/>
<circle cx="115.1" cy="1232.5" r="9.5" fill="url(#gO)"/>
<circle cx="124.1" cy="1248.8" r="9.5" fill="url(#gO)"/>
<circle cx="192.1" cy="1238.8" r="9.5" fill="url(#gO)"/>
<circle cx="217.5" cy="1249.7" r="9.5" fill="url(#gO)"/>
<circle cx="232.6" cy="1246.5" r="9.5" fill="url(#gO)"/>
<circle cx="162.2" cy="1259.7" r="9.5" fill="url(#gO)"/>
<circle cx="210.2" cy="1276" r="9.5" fill="url(#gO)"/>
<circle cx="187.6" cy="1285" r="9.5" fill="url(#gO)"/>
<circle cx="36.2" cy="1281.4" r="9.5" fill="url(#gO)"/>
<circle cx="20.8" cy="1287.8" r="9.5" fill="url(#gO)"/>
<circle cx="98.8" cy="1294.1" r="9.5" fill="url(#gO)"/>
<circle cx="125.9" cy="1286.8" r="9.5" fill="url(#gO)"/>
<circle cx="183" cy="1309.5" r="9.5" fill="url(#gO)"/>
<circle cx="65.2" cy="1306.8" r="9.5" fill="url(#gO)"/>
<circle cx="44.4" cy="1330.3" r="9.5" fill="url(#gO)"/>
<circle cx="129.6" cy="1330.3" r="9.5" fill="url(#gO)"/>
<circle cx="151.3" cy="1341.2" r="9.5" fill="url(#gO)"/>
<circle cx="171.2" cy="1334" r="9.5" fill="url(#gO)"/>
<circle cx="14.5" cy="1343" r="9.5" fill="url(#gO)"/>
<circle cx="26.3" cy="1357.5" r="9.5" fill="url(#gO)"/>
<circle cx="193.9" cy="1351.2" r="9.5" fill="url(#gO)"/>
<circle cx="238" cy="1343.9" r="9.5" fill="url(#gO)"/>
<circle cx="33.5" cy="1372.9" r="9.5" fill="url(#gO)"/>
<circle cx="81.5" cy="1363" r="9.5" fill="url(#gO)"/>
<circle cx="93.3" cy="1369.3" r="9.5" fill="url(#gO)"/>
<circle cx="229.8" cy="1369.8" r="9.5" fill="url(#gO)"/>
<circle cx="154.9" cy="1393.8" r="9.5" fill="url(#gO)"/>
<circle cx="97.9" cy="1393.8" r="9.5" fill="url(#gO)"/>
<circle cx="14" cy="1401" r="9.5" fill="url(#gO)"/>
<circle cx="243.4" cy="1402.8" r="9.5" fill="url(#gO)"/>
<circle cx="256.7" cy="1189.9" r="9.5" fill="url(#gO)"/>
<circle cx="303.8" cy="1187.2" r="9.5" fill="url(#gO)"/>
<circle cx="290.2" cy="1218" r="9.5" fill="url(#gO)"/>
<circle cx="312" cy="1209.8" r="9.5" fill="url(#gO)"/>
<circle cx="414.4" cy="1163.6" r="9.5" fill="url(#gO)"/>
<circle cx="367.3" cy="1185.4" r="9.5" fill="url(#gO)"/>
<circle cx="379.9" cy="1201.7" r="9.5" fill="url(#gO)"/>
<circle cx="415.3" cy="1195.3" r="9.5" fill="url(#gO)"/>
<circle cx="433.4" cy="1226.1" r="9.5" fill="url(#gO)"/>
<circle cx="280.3" cy="1239.7" r="9.5" fill="url(#gO)"/>
<circle cx="341" cy="1246.1" r="9.5" fill="url(#gO)"/>
<circle cx="397.2" cy="1253.3" r="9.5" fill="url(#gO)"/>
<circle cx="419.8" cy="1252.4" r="9.5" fill="url(#gO)"/>
<circle cx="317.4" cy="1264.2" r="9.5" fill="url(#gO)"/>
<circle cx="330.1" cy="1278.7" r="9.5" fill="url(#gO)"/>
<circle cx="388.1" cy="1278.7" r="9.5" fill="url(#gO)"/>
<circle cx="429.8" cy="1285" r="9.5" fill="url(#gO)"/>
<circle cx="452.4" cy="1300.4" r="9.5" fill="url(#gO)"/>
<circle cx="253.1" cy="1297.7" r="9.5" fill="url(#gO)"/>
<circle cx="282.1" cy="1293.2" r="9.5" fill="url(#gO)"/>
<circle cx="299.3" cy="1306.8" r="9.5" fill="url(#gO)"/>
<circle cx="362.7" cy="1307.7" r="9.5" fill="url(#gO)"/>
<circle cx="428" cy="1317.7" r="9.5" fill="url(#gO)"/>
<circle cx="280.3" cy="1326.7" r="9.5" fill="url(#gO)"/>
<circle cx="304.7" cy="1338.5" r="9.5" fill="url(#gO)"/>
<circle cx="267.6" cy="1352.1" r="9.5" fill="url(#gO)"/>
<circle cx="342.8" cy="1363" r="9.5" fill="url(#gO)"/>
<circle cx="395.3" cy="1363.9" r="9.5" fill="url(#gO)"/>
<circle cx="405.3" cy="1360.2" r="9.5" fill="url(#gO)"/>
<circle cx="364.5" cy="1389.2" r="9.5" fill="url(#gO)"/>
<circle cx="365.4" cy="1399.1" r="9.5" fill="url(#gO)"/>
<circle cx="450.2" cy="1402.3" r="9.5" fill="url(#gO)"/>
<circle cx="281.2" cy="1405" r="9.5" fill="url(#gO)"/>
<circle cx="66.1" cy="1410.9" r="9.5" fill="url(#gO)"/>
<circle cx="95.1" cy="1402.7" r="9.5" fill="url(#gO)"/>
<circle cx="154" cy="1400.9" r="9.5" fill="url(#gO)"/>
<circle cx="174" cy="1412.7" r="9.5" fill="url(#gO)"/>
<circle cx="173.1" cy="1429.9" r="9.5" fill="url(#gO)"/>
<circle cx="207.5" cy="1417.2" r="9.5" fill="url(#gO)"/>
<circle cx="243" cy="1413.6" r="9.5" fill="url(#gO)"/>
<circle cx="128.7" cy="1453.5" r="9.5" fill="url(#gO)"/>
<circle cx="112.4" cy="1459.8" r="9.5" fill="url(#gO)"/>
<circle cx="109.6" cy="1476.1" r="9.5" fill="url(#gO)"/>
<circle cx="20.8" cy="1500.6" r="9.5" fill="url(#gO)"/>
<circle cx="43.5" cy="1506.9" r="9.5" fill="url(#gO)"/>
<circle cx="56.2" cy="1516.9" r="9.5" fill="url(#gO)"/>
<circle cx="94.2" cy="1522.3" r="9.5" fill="url(#gO)"/>
<circle cx="115.1" cy="1535" r="9.5" fill="url(#gO)"/>
<circle cx="117.8" cy="1548.6" r="9.5" fill="url(#gO)"/>
<circle cx="141.3" cy="1565.8" r="9.5" fill="url(#gO)"/>
<circle cx="171.2" cy="1487" r="9.5" fill="url(#gO)"/>
<circle cx="157.7" cy="1501.5" r="9.5" fill="url(#gO)"/>
<circle cx="170.3" cy="1505.1" r="9.5" fill="url(#gO)"/>
<circle cx="245.2" cy="1498.3" r="9.5" fill="url(#gO)"/>
<circle cx="220.2" cy="1525" r="9.5" fill="url(#gO)"/>
<circle cx="228.5" cy="1535" r="9.5" fill="url(#gO)"/>
<circle cx="43.5" cy="1545" r="9.5" fill="url(#gO)"/>
<circle cx="45.3" cy="1572.2" r="9.5" fill="url(#gO)"/>
<circle cx="62.5" cy="1567.6" r="9.5" fill="url(#gO)"/>
<circle cx="205.7" cy="1554" r="9.5" fill="url(#gO)"/>
<circle cx="174" cy="1592.1" r="9.5" fill="url(#gO)"/>
<circle cx="120.5" cy="1607.5" r="9.5" fill="url(#gO)"/>
<circle cx="91.5" cy="1619.3" r="9.5" fill="url(#gO)"/>
<circle cx="161.3" cy="1608.4" r="9.5" fill="url(#gO)"/>
<circle cx="230.3" cy="1598" r="9.5" fill="url(#gO)"/>
<circle cx="44.4" cy="1632.9" r="9.5" fill="url(#gO)"/>
<circle cx="75.2" cy="1639.1" r="9.5" fill="url(#gO)"/>
<circle cx="150" cy="1638.2" r="9.5" fill="url(#gO)"/>
<circle cx="228.4" cy="1643.7" r="9.5" fill="url(#gO)"/>
<circle cx="41.7" cy="1642.3" r="9.5" fill="url(#gO)"/>
<circle cx="275.7" cy="1431.7" r="9.5" fill="url(#gO)"/>
<circle cx="293.9" cy="1452.6" r="9.5" fill="url(#gO)"/>
<circle cx="391.7" cy="1426.3" r="9.5" fill="url(#gO)"/>
<circle cx="399.9" cy="1428.1" r="9.5" fill="url(#gO)"/>
<circle cx="413.5" cy="1455.3" r="9.5" fill="url(#gO)"/>
<circle cx="460.6" cy="1432.6" r="9.5" fill="url(#gO)"/>
<circle cx="441.5" cy="1475.2" r="9.5" fill="url(#gO)"/>
<circle cx="341" cy="1446.2" r="9.5" fill="url(#gO)"/>
<circle cx="337.4" cy="1467" r="9.5" fill="url(#gO)"/>
<circle cx="270.3" cy="1476.1" r="9.5" fill="url(#gO)"/>
<circle cx="259.4" cy="1502.4" r="9.5" fill="url(#gO)"/>
<circle cx="313.8" cy="1499.7" r="9.5" fill="url(#gO)"/>
<circle cx="327.4" cy="1499.7" r="9.5" fill="url(#gO)"/>
<circle cx="370" cy="1495.1" r="9.5" fill="url(#gO)"/>
<circle cx="389.9" cy="1503.3" r="9.5" fill="url(#gO)"/>
<circle cx="393.5" cy="1496" r="9.5" fill="url(#gO)"/>
<circle cx="420.7" cy="1520.5" r="9.5" fill="url(#gO)"/>
<circle cx="424.3" cy="1529.6" r="9.5" fill="url(#gO)"/>
<circle cx="443.4" cy="1516" r="9.5" fill="url(#gO)"/>
<circle cx="315.6" cy="1524.1" r="9.5" fill="url(#gO)"/>
<circle cx="301.1" cy="1545" r="9.5" fill="url(#gO)"/>
<circle cx="334.6" cy="1543.2" r="9.5" fill="url(#gO)"/>
<circle cx="412.6" cy="1565.8" r="9.5" fill="url(#gO)"/>
<circle cx="267.6" cy="1603" r="9.5" fill="url(#gO)"/>
<circle cx="281.2" cy="1599.3" r="9.5" fill="url(#gO)"/>
<circle cx="337.4" cy="1592.1" r="9.5" fill="url(#gO)"/>
<circle cx="348.2" cy="1595.7" r="9.5" fill="url(#gO)"/>
<circle cx="333.7" cy="1617.5" r="9.5" fill="url(#gO)"/>
<circle cx="341.9" cy="1632" r="9.5" fill="url(#gO)"/>
<circle cx="408" cy="1603.9" r="9.5" fill="url(#gO)"/>
<circle cx="419.8" cy="1597.5" r="9.5" fill="url(#gO)"/>
<circle cx="406.2" cy="1622" r="9.5" fill="url(#gO)"/>
<circle cx="441.5" cy="1606.6" r="9.5" fill="url(#gO)"/>
<circle cx="458.8" cy="1604.8" r="9.5" fill="url(#gO)"/>
<circle cx="258.5" cy="1642.8" r="9.5" fill="url(#gO)"/>
<circle cx="58.9" cy="1650" r="9.5" fill="url(#gO)"/>
<circle cx="145.9" cy="1658.1" r="9.5" fill="url(#gO)"/>
<circle cx="175.8" cy="1651.8" r="9.5" fill="url(#gO)"/>
<circle cx="225.3" cy="1663.1" r="9.5" fill="url(#gO)"/>
<circle cx="118.7" cy="1685.3" r="9.5" fill="url(#gO)"/>
<circle cx="137.7" cy="1691.6" r="9.5" fill="url(#gO)"/>
<circle cx="170.3" cy="1688" r="9.5" fill="url(#gO)"/>
<circle cx="61.6" cy="1694.4" r="9.5" fill="url(#gO)"/>
<circle cx="67" cy="1702.5" r="9.5" fill="url(#gO)"/>
<circle cx="48" cy="1708" r="9.5" fill="url(#gO)"/>
<circle cx="125.9" cy="1717.9" r="9.5" fill="url(#gO)"/>
<circle cx="190.3" cy="1709.8" r="9.5" fill="url(#gO)"/>
<circle cx="174.9" cy="1745.1" r="9.5" fill="url(#gO)"/>
<circle cx="242.1" cy="1716.1" r="9.5" fill="url(#gO)"/>
<circle cx="246.6" cy="1679" r="9.5" fill="url(#gO)"/>
<circle cx="256.7" cy="1649.1" r="9.5" fill="url(#gO)"/>
<circle cx="283.9" cy="1661.7" r="9.5" fill="url(#gO)"/>
<circle cx="289.3" cy="1678.1" r="9.5" fill="url(#gO)"/>
<circle cx="264" cy="1719.7" r="9.5" fill="url(#gO)"/>
<circle cx="296.6" cy="1738.8" r="9.5" fill="url(#gO)"/>
<circle cx="352.8" cy="1662.7" r="9.5" fill="url(#gO)"/>
<circle cx="366.3" cy="1676.2" r="9.5" fill="url(#gO)"/>
<circle cx="383.6" cy="1679.9" r="9.5" fill="url(#gO)"/>
<circle cx="424.3" cy="1694.4" r="9.5" fill="url(#gO)"/>
<circle cx="445.2" cy="1685.3" r="9.5" fill="url(#gO)"/>
<circle cx="437.9" cy="1694.4" r="9.5" fill="url(#gO)"/>
<circle cx="451.5" cy="1712.5" r="9.5" fill="url(#gO)"/>
<circle cx="370" cy="1718.8" r="9.5" fill="url(#gO)"/>
<circle cx="408" cy="1766.8" r="9.5" fill="url(#gO)"/>
<circle cx="350" cy="1640.9" r="9.5" fill="url(#gO)"/>
<circle cx="105.1" cy="990.7" r="5.4" fill="url(#gH)"/>
<circle cx="99.7" cy="995.2" r="5.4" fill="url(#gH)"/>
<circle cx="41.7" cy="1013.3" r="5.4" fill="url(#gH)"/>
<circle cx="22.7" cy="1023.3" r="5.4" fill="url(#gH)"/>
<circle cx="30.8" cy="1025.1" r="5.4" fill="url(#gH)"/>
<circle cx="29" cy="1033.3" r="5.4" fill="url(#gH)"/>
<circle cx="74.3" cy="1025.1" r="5.4" fill="url(#gH)"/>
<circle cx="82.5" cy="1032.4" r="5.4" fill="url(#gH)"/>
<circle cx="97.9" cy="1029.6" r="5.4" fill="url(#gH)"/>
<circle cx="129.6" cy="1017.9" r="5.4" fill="url(#gH)"/>
<circle cx="159.5" cy="1020.6" r="5.4" fill="url(#gH)"/>
<circle cx="119.6" cy="1037.8" r="5.4" fill="url(#gH)"/>
<circle cx="156.7" cy="1039.6" r="5.4" fill="url(#gH)"/>
<circle cx="179.4" cy="1016" r="5.4" fill="url(#gH)"/>
<circle cx="219.3" cy="996.1" r="5.4" fill="url(#gH)"/>
<circle cx="220.2" cy="1003.4" r="5.4" fill="url(#gH)"/>
<circle cx="208.4" cy="1026.9" r="5.4" fill="url(#gH)"/>
<circle cx="222" cy="1026.9" r="5.4" fill="url(#gH)"/>
<circle cx="218.4" cy="1035.1" r="5.4" fill="url(#gH)"/>
<circle cx="57.1" cy="1063.2" r="5.4" fill="url(#gH)"/>
<circle cx="94.2" cy="1058.6" r="5.4" fill="url(#gH)"/>
<circle cx="41.7" cy="1079.5" r="5.4" fill="url(#gH)"/>
<circle cx="109.6" cy="1080.4" r="5.4" fill="url(#gH)"/>
<circle cx="154.9" cy="1074.9" r="5.4" fill="url(#gH)"/>
<circle cx="145" cy="1087.6" r="5.4" fill="url(#gH)"/>
<circle cx="15.4" cy="1100.3" r="5.4" fill="url(#gH)"/>
<circle cx="58.9" cy="1115.7" r="5.4" fill="url(#gH)"/>
<circle cx="93.3" cy="1098.5" r="5.4" fill="url(#gH)"/>
<circle cx="125" cy="1102.1" r="5.4" fill="url(#gH)"/>
<circle cx="132.3" cy="1107.6" r="5.4" fill="url(#gH)"/>
<circle cx="178.5" cy="1117.5" r="5.4" fill="url(#gH)"/>
<circle cx="16.3" cy="1128.4" r="5.4" fill="url(#gH)"/>
<circle cx="116" cy="1132.9" r="5.4" fill="url(#gH)"/>
<circle cx="48.9" cy="1142" r="5.4" fill="url(#gH)"/>
<circle cx="103.3" cy="1144.7" r="5.4" fill="url(#gH)"/>
<circle cx="83.4" cy="1151" r="5.4" fill="url(#gH)"/>
<circle cx="98.8" cy="1155.6" r="5.4" fill="url(#gH)"/>
<circle cx="92" cy="1161" r="5.4" fill="url(#gH)"/>
<circle cx="220.2" cy="1079.5" r="5.4" fill="url(#gH)"/>
<circle cx="225.6" cy="1113" r="5.4" fill="url(#gH)"/>
<circle cx="210.2" cy="1141.1" r="5.4" fill="url(#gH)"/>
<circle cx="228.9" cy="1141.5" r="5.4" fill="url(#gH)"/>
<circle cx="240.7" cy="1141.5" r="5.4" fill="url(#gH)"/>
<circle cx="244.8" cy="929.1" r="5.4" fill="url(#gH)"/>
<circle cx="158.6" cy="1162.8" r="5.4" fill="url(#gH)"/>
<circle cx="182.1" cy="1159.2" r="5.4" fill="url(#gH)"/>
<circle cx="260.3" cy="968" r="5.4" fill="url(#gH)"/>
<circle cx="327.4" cy="941.7" r="5.4" fill="url(#gH)"/>
<circle cx="318.3" cy="971.6" r="5.4" fill="url(#gH)"/>
<circle cx="268.5" cy="984.3" r="5.4" fill="url(#gH)"/>
<circle cx="277.6" cy="1026.9" r="5.4" fill="url(#gH)"/>
<circle cx="281.2" cy="1016" r="5.4" fill="url(#gH)"/>
<circle cx="299.3" cy="1015.1" r="5.4" fill="url(#gH)"/>
<circle cx="336.4" cy="993.4" r="5.4" fill="url(#gH)"/>
<circle cx="364.5" cy="1021.5" r="5.4" fill="url(#gH)"/>
<circle cx="385.4" cy="978.9" r="5.4" fill="url(#gH)"/>
<circle cx="397.2" cy="1018.8" r="5.4" fill="url(#gH)"/>
<circle cx="421.6" cy="1003.4" r="5.4" fill="url(#gH)"/>
<circle cx="322.9" cy="1039.6" r="5.4" fill="url(#gH)"/>
<circle cx="324.7" cy="1053.2" r="5.4" fill="url(#gH)"/>
<circle cx="331.9" cy="1055.9" r="5.4" fill="url(#gH)"/>
<circle cx="406.2" cy="1044.1" r="5.4" fill="url(#gH)"/>
<circle cx="428" cy="1039.6" r="5.4" fill="url(#gH)"/>
<circle cx="426.1" cy="1052.3" r="5.4" fill="url(#gH)"/>
<circle cx="413.5" cy="1079.5" r="5.4" fill="url(#gH)"/>
<circle cx="449.7" cy="1031.4" r="5.4" fill="url(#gH)"/>
<circle cx="454.2" cy="1058.6" r="5.4" fill="url(#gH)"/>
<circle cx="460.6" cy="1070.4" r="5.4" fill="url(#gH)"/>
<circle cx="437.9" cy="1081.3" r="5.4" fill="url(#gH)"/>
<circle cx="403.5" cy="1091.2" r="5.4" fill="url(#gH)"/>
<circle cx="454.2" cy="1113.9" r="5.4" fill="url(#gH)"/>
<circle cx="459.7" cy="1002.5" r="5.4" fill="url(#gH)"/>
<circle cx="307.5" cy="1074" r="5.4" fill="url(#gH)"/>
<circle cx="322.9" cy="1073.1" r="5.4" fill="url(#gH)"/>
<circle cx="308.4" cy="1098.5" r="5.4" fill="url(#gH)"/>
<circle cx="331" cy="1109.4" r="5.4" fill="url(#gH)"/>
<circle cx="351.8" cy="1108.5" r="5.4" fill="url(#gH)"/>
<circle cx="368.2" cy="1104.8" r="5.4" fill="url(#gH)"/>
<circle cx="372.7" cy="1123.9" r="5.4" fill="url(#gH)"/>
<circle cx="270.3" cy="1059.5" r="5.4" fill="url(#gH)"/>
<circle cx="268.5" cy="1117.5" r="5.4" fill="url(#gH)"/>
<circle cx="277.6" cy="1124.8" r="5.4" fill="url(#gH)"/>
<circle cx="273" cy="1152.9" r="5.4" fill="url(#gH)"/>
<circle cx="330.1" cy="1138.4" r="5.4" fill="url(#gH)"/>
<circle cx="433.4" cy="1132" r="5.4" fill="url(#gH)"/>
<circle cx="460.6" cy="1125.7" r="5.4" fill="url(#gH)"/>
<circle cx="418.9" cy="1139.3" r="5.4" fill="url(#gH)"/>
<circle cx="438.4" cy="1161.9" r="5.4" fill="url(#gH)"/>
<circle cx="333.3" cy="1161.9" r="5.4" fill="url(#gH)"/>
<circle cx="368.2" cy="1161" r="5.4" fill="url(#gH)"/>
<circle cx="27.2" cy="1175.4" r="5.4" fill="url(#gH)"/>
<circle cx="78.8" cy="1190.8" r="5.4" fill="url(#gH)"/>
<circle cx="113.3" cy="1198.1" r="5.4" fill="url(#gH)"/>
<circle cx="120.5" cy="1184.5" r="5.4" fill="url(#gH)"/>
<circle cx="156.7" cy="1179" r="5.4" fill="url(#gH)"/>
<circle cx="184.8" cy="1197.1" r="5.4" fill="url(#gH)"/>
<circle cx="218.4" cy="1166.3" r="5.4" fill="url(#gH)"/>
<circle cx="11.8" cy="1187.2" r="5.4" fill="url(#gH)"/>
<circle cx="52.6" cy="1199.9" r="5.4" fill="url(#gH)"/>
<circle cx="67" cy="1222.5" r="5.4" fill="url(#gH)"/>
<circle cx="35.3" cy="1231.6" r="5.4" fill="url(#gH)"/>
<circle cx="88.8" cy="1214.4" r="5.4" fill="url(#gH)"/>
<circle cx="96" cy="1260.6" r="5.4" fill="url(#gH)"/>
<circle cx="131.4" cy="1223.4" r="5.4" fill="url(#gH)"/>
<circle cx="173.1" cy="1224.3" r="5.4" fill="url(#gH)"/>
<circle cx="149.5" cy="1239.7" r="5.4" fill="url(#gH)"/>
<circle cx="139.5" cy="1246.1" r="5.4" fill="url(#gH)"/>
<circle cx="108.7" cy="1243.4" r="5.4" fill="url(#gH)"/>
<circle cx="125" cy="1245.2" r="5.4" fill="url(#gH)"/>
<circle cx="197.5" cy="1254.2" r="5.4" fill="url(#gH)"/>
<circle cx="185.7" cy="1250.6" r="5.4" fill="url(#gH)"/>
<circle cx="238.4" cy="1258.8" r="5.4" fill="url(#gH)"/>
<circle cx="229.4" cy="1264.2" r="5.4" fill="url(#gH)"/>
<circle cx="204.8" cy="1268.7" r="5.4" fill="url(#gH)"/>
<circle cx="242.5" cy="1214.4" r="5.4" fill="url(#gH)"/>
<circle cx="166.7" cy="1285.9" r="5.4" fill="url(#gH)"/>
<circle cx="213.8" cy="1290.5" r="5.4" fill="url(#gH)"/>
<circle cx="213.8" cy="1303.2" r="5.4" fill="url(#gH)"/>
<circle cx="22.7" cy="1283.2" r="5.4" fill="url(#gH)"/>
<circle cx="46.2" cy="1270.5" r="5.4" fill="url(#gH)"/>
<circle cx="46.2" cy="1286.8" r="5.4" fill="url(#gH)"/>
<circle cx="99.7" cy="1276.9" r="5.4" fill="url(#gH)"/>
<circle cx="149.5" cy="1286.8" r="5.4" fill="url(#gH)"/>
<circle cx="117.8" cy="1312.2" r="5.4" fill="url(#gH)"/>
<circle cx="88.8" cy="1308.6" r="5.4" fill="url(#gH)"/>
<circle cx="11.8" cy="1309.5" r="5.4" fill="url(#gH)"/>
<circle cx="161.3" cy="1314.9" r="5.4" fill="url(#gH)"/>
<circle cx="198.4" cy="1331.2" r="5.4" fill="url(#gH)"/>
<circle cx="198.4" cy="1339.4" r="5.4" fill="url(#gH)"/>
<circle cx="55.3" cy="1332.2" r="5.4" fill="url(#gH)"/>
<circle cx="26.3" cy="1334" r="5.4" fill="url(#gH)"/>
<circle cx="118.7" cy="1358.4" r="5.4" fill="url(#gH)"/>
<circle cx="163.1" cy="1342.1" r="5.4" fill="url(#gH)"/>
<circle cx="220.2" cy="1356.6" r="5.4" fill="url(#gH)"/>
<circle cx="181.2" cy="1371.1" r="5.4" fill="url(#gH)"/>
<circle cx="72.5" cy="1354.8" r="5.4" fill="url(#gH)"/>
<circle cx="58" cy="1354.8" r="5.4" fill="url(#gH)"/>
<circle cx="64.3" cy="1382.9" r="5.4" fill="url(#gH)"/>
<circle cx="79.7" cy="1386.5" r="5.4" fill="url(#gH)"/>
<circle cx="16.3" cy="1385.6" r="5.4" fill="url(#gH)"/>
<circle cx="27.2" cy="1386.5" r="5.4" fill="url(#gH)"/>
<circle cx="135" cy="1380.2" r="5.4" fill="url(#gH)"/>
<circle cx="170.3" cy="1387.4" r="5.4" fill="url(#gH)"/>
<circle cx="220.2" cy="1391" r="5.4" fill="url(#gH)"/>
<circle cx="238.9" cy="1382" r="5.4" fill="url(#gH)"/>
<circle cx="125.9" cy="1402.3" r="5.4" fill="url(#gH)"/>
<circle cx="40.8" cy="1402.3" r="5.4" fill="url(#gH)"/>
<circle cx="362.7" cy="1163.6" r="5.4" fill="url(#gH)"/>
<circle cx="371.8" cy="1163.6" r="5.4" fill="url(#gH)"/>
<circle cx="277.6" cy="1195.3" r="5.4" fill="url(#gH)"/>
<circle cx="292" cy="1203.5" r="5.4" fill="url(#gH)"/>
<circle cx="299.3" cy="1204.4" r="5.4" fill="url(#gH)"/>
<circle cx="328.3" cy="1185.4" r="5.4" fill="url(#gH)"/>
<circle cx="334.6" cy="1208" r="5.4" fill="url(#gH)"/>
<circle cx="320.1" cy="1220.7" r="5.4" fill="url(#gH)"/>
<circle cx="379" cy="1178.1" r="5.4" fill="url(#gH)"/>
<circle cx="386.3" cy="1183.6" r="5.4" fill="url(#gH)"/>
<circle cx="397.2" cy="1187.2" r="5.4" fill="url(#gH)"/>
<circle cx="398.1" cy="1193.5" r="5.4" fill="url(#gH)"/>
<circle cx="392.6" cy="1221.6" r="5.4" fill="url(#gH)"/>
<circle cx="430.7" cy="1181.7" r="5.4" fill="url(#gH)"/>
<circle cx="408" cy="1218" r="5.4" fill="url(#gH)"/>
<circle cx="417.1" cy="1214.4" r="5.4" fill="url(#gH)"/>
<circle cx="457" cy="1223.4" r="5.4" fill="url(#gH)"/>
<circle cx="353.7" cy="1223.4" r="5.4" fill="url(#gH)"/>
<circle cx="413.5" cy="1229.8" r="5.4" fill="url(#gH)"/>
<circle cx="250.4" cy="1233.4" r="5.4" fill="url(#gH)"/>
<circle cx="298.4" cy="1249.7" r="5.4" fill="url(#gH)"/>
<circle cx="277.6" cy="1261.5" r="5.4" fill="url(#gH)"/>
<circle cx="359.1" cy="1259.7" r="5.4" fill="url(#gH)"/>
<circle cx="368.2" cy="1258.8" r="5.4" fill="url(#gH)"/>
<circle cx="442.5" cy="1263.3" r="5.4" fill="url(#gH)"/>
<circle cx="438.8" cy="1268.7" r="5.4" fill="url(#gH)"/>
<circle cx="293.9" cy="1275.1" r="5.4" fill="url(#gH)"/>
<circle cx="304.7" cy="1276" r="5.4" fill="url(#gH)"/>
<circle cx="330.1" cy="1286.8" r="5.4" fill="url(#gH)"/>
<circle cx="350.9" cy="1278.7" r="5.4" fill="url(#gH)"/>
<circle cx="400.8" cy="1275.1" r="5.4" fill="url(#gH)"/>
<circle cx="411.6" cy="1276" r="5.4" fill="url(#gH)"/>
<circle cx="425.2" cy="1276" r="5.4" fill="url(#gH)"/>
<circle cx="457.9" cy="1280.5" r="5.4" fill="url(#gH)"/>
<circle cx="405.3" cy="1295" r="5.4" fill="url(#gH)"/>
<circle cx="377.2" cy="1288.7" r="5.4" fill="url(#gH)"/>
<circle cx="324.7" cy="1308.6" r="5.4" fill="url(#gH)"/>
<circle cx="313.8" cy="1317.7" r="5.4" fill="url(#gH)"/>
<circle cx="285.7" cy="1314" r="5.4" fill="url(#gH)"/>
<circle cx="262.1" cy="1312.2" r="5.4" fill="url(#gH)"/>
<circle cx="455.1" cy="1315.8" r="5.4" fill="url(#gH)"/>
<circle cx="450.6" cy="1329.4" r="5.4" fill="url(#gH)"/>
<circle cx="380.8" cy="1325.8" r="5.4" fill="url(#gH)"/>
<circle cx="418" cy="1338.5" r="5.4" fill="url(#gH)"/>
<circle cx="263.1" cy="1338.5" r="5.4" fill="url(#gH)"/>
<circle cx="264.9" cy="1346.6" r="5.4" fill="url(#gH)"/>
<circle cx="324.7" cy="1343.9" r="5.4" fill="url(#gH)"/>
<circle cx="323.8" cy="1356.6" r="5.4" fill="url(#gH)"/>
<circle cx="243.1" cy="1370.2" r="5.4" fill="url(#gH)"/>
<circle cx="276.6" cy="1375.6" r="5.4" fill="url(#gH)"/>
<circle cx="357.3" cy="1372" r="5.4" fill="url(#gH)"/>
<circle cx="376.3" cy="1363" r="5.4" fill="url(#gH)"/>
<circle cx="383.6" cy="1378.4" r="5.4" fill="url(#gH)"/>
<circle cx="394.4" cy="1386.5" r="5.4" fill="url(#gH)"/>
<circle cx="451.5" cy="1382" r="5.4" fill="url(#gH)"/>
<circle cx="432.5" cy="1395.6" r="5.4" fill="url(#gH)"/>
<circle cx="254" cy="1400.5" r="5.4" fill="url(#gH)"/>
<circle cx="306.1" cy="1400.5" r="5.4" fill="url(#gH)"/>
<circle cx="375.4" cy="1397.4" r="5.4" fill="url(#gH)"/>
<circle cx="18.1" cy="1412.7" r="5.4" fill="url(#gH)"/>
<circle cx="83.4" cy="1408.2" r="5.4" fill="url(#gH)"/>
<circle cx="95.1" cy="1425.4" r="5.4" fill="url(#gH)"/>
<circle cx="141.3" cy="1415.4" r="5.4" fill="url(#gH)"/>
<circle cx="159.5" cy="1429.9" r="5.4" fill="url(#gH)"/>
<circle cx="185.7" cy="1412.7" r="5.4" fill="url(#gH)"/>
<circle cx="192.1" cy="1418.1" r="5.4" fill="url(#gH)"/>
<circle cx="220.2" cy="1422.7" r="5.4" fill="url(#gH)"/>
<circle cx="229.8" cy="1412.7" r="5.4" fill="url(#gH)"/>
<circle cx="104.2" cy="1442.6" r="5.4" fill="url(#gH)"/>
<circle cx="92.4" cy="1464.3" r="5.4" fill="url(#gH)"/>
<circle cx="135.9" cy="1477.9" r="5.4" fill="url(#gH)"/>
<circle cx="125" cy="1480.6" r="5.4" fill="url(#gH)"/>
<circle cx="108.7" cy="1499.7" r="5.4" fill="url(#gH)"/>
<circle cx="21.7" cy="1473.4" r="5.4" fill="url(#gH)"/>
<circle cx="7.2" cy="1512.4" r="5.4" fill="url(#gH)"/>
<circle cx="68.9" cy="1497.9" r="5.4" fill="url(#gH)"/>
<circle cx="23.6" cy="1527.8" r="5.4" fill="url(#gH)"/>
<circle cx="41.7" cy="1534.1" r="5.4" fill="url(#gH)"/>
<circle cx="57.1" cy="1535" r="5.4" fill="url(#gH)"/>
<circle cx="68.9" cy="1533.2" r="5.4" fill="url(#gH)"/>
<circle cx="71.6" cy="1517.8" r="5.4" fill="url(#gH)"/>
<circle cx="74.3" cy="1525" r="5.4" fill="url(#gH)"/>
<circle cx="102.4" cy="1535" r="5.4" fill="url(#gH)"/>
<circle cx="129.6" cy="1521.4" r="5.4" fill="url(#gH)"/>
<circle cx="135" cy="1526.8" r="5.4" fill="url(#gH)"/>
<circle cx="181.2" cy="1460.7" r="5.4" fill="url(#gH)"/>
<circle cx="164" cy="1474.3" r="5.4" fill="url(#gH)"/>
<circle cx="154" cy="1482.5" r="5.4" fill="url(#gH)"/>
<circle cx="176.7" cy="1501.5" r="5.4" fill="url(#gH)"/>
<circle cx="191.2" cy="1503.3" r="5.4" fill="url(#gH)"/>
<circle cx="155.8" cy="1513.3" r="5.4" fill="url(#gH)"/>
<circle cx="201.1" cy="1516" r="5.4" fill="url(#gH)"/>
<circle cx="232.6" cy="1520.5" r="5.4" fill="url(#gH)"/>
<circle cx="241.2" cy="1522.8" r="5.4" fill="url(#gH)"/>
<circle cx="223.8" cy="1532.3" r="5.4" fill="url(#gH)"/>
<circle cx="229.4" cy="1550" r="5.4" fill="url(#gH)"/>
<circle cx="193" cy="1534.1" r="5.4" fill="url(#gH)"/>
<circle cx="210.2" cy="1569.4" r="5.4" fill="url(#gH)"/>
<circle cx="186.6" cy="1569.4" r="5.4" fill="url(#gH)"/>
<circle cx="77.9" cy="1550.4" r="5.4" fill="url(#gH)"/>
<circle cx="58" cy="1558.6" r="5.4" fill="url(#gH)"/>
<circle cx="113.3" cy="1562.2" r="5.4" fill="url(#gH)"/>
<circle cx="125" cy="1576.7" r="5.4" fill="url(#gH)"/>
<circle cx="132.3" cy="1570.3" r="5.4" fill="url(#gH)"/>
<circle cx="19.9" cy="1581.2" r="5.4" fill="url(#gH)"/>
<circle cx="58.9" cy="1595.7" r="5.4" fill="url(#gH)"/>
<circle cx="169.4" cy="1592.1" r="5.4" fill="url(#gH)"/>
<circle cx="50.7" cy="1607.5" r="5.4" fill="url(#gH)"/>
<circle cx="75.2" cy="1622" r="5.4" fill="url(#gH)"/>
<circle cx="80.6" cy="1622" r="5.4" fill="url(#gH)"/>
<circle cx="143.2" cy="1622.9" r="5.4" fill="url(#gH)"/>
<circle cx="154.9" cy="1617.5" r="5.4" fill="url(#gH)"/>
<circle cx="162.2" cy="1617.5" r="5.4" fill="url(#gH)"/>
<circle cx="208.4" cy="1611.1" r="5.4" fill="url(#gH)"/>
<circle cx="210.2" cy="1624.7" r="5.4" fill="url(#gH)"/>
<circle cx="19" cy="1639.6" r="5.4" fill="url(#gH)"/>
<circle cx="101.5" cy="1632.9" r="5.4" fill="url(#gH)"/>
<circle cx="125.9" cy="1641.4" r="5.4" fill="url(#gH)"/>
<circle cx="57.1" cy="1643.2" r="5.4" fill="url(#gH)"/>
<circle cx="351.8" cy="1411.8" r="5.4" fill="url(#gH)"/>
<circle cx="261.2" cy="1433.5" r="5.4" fill="url(#gH)"/>
<circle cx="258.5" cy="1453.5" r="5.4" fill="url(#gH)"/>
<circle cx="281.2" cy="1439" r="5.4" fill="url(#gH)"/>
<circle cx="301.1" cy="1432.6" r="5.4" fill="url(#gH)"/>
<circle cx="302.9" cy="1442.6" r="5.4" fill="url(#gH)"/>
<circle cx="397.2" cy="1410" r="5.4" fill="url(#gH)"/>
<circle cx="431.6" cy="1420.8" r="5.4" fill="url(#gH)"/>
<circle cx="451.5" cy="1419" r="5.4" fill="url(#gH)"/>
<circle cx="438.8" cy="1432.6" r="5.4" fill="url(#gH)"/>
<circle cx="379" cy="1441.7" r="5.4" fill="url(#gH)"/>
<circle cx="379.5" cy="1448.9" r="5.4" fill="url(#gH)"/>
<circle cx="403.5" cy="1442.6" r="5.4" fill="url(#gH)"/>
<circle cx="399.9" cy="1455.3" r="5.4" fill="url(#gH)"/>
<circle cx="359.1" cy="1466.1" r="5.4" fill="url(#gH)"/>
<circle cx="350" cy="1478.8" r="5.4" fill="url(#gH)"/>
<circle cx="316.5" cy="1459.8" r="5.4" fill="url(#gH)"/>
<circle cx="421.6" cy="1478.8" r="5.4" fill="url(#gH)"/>
<circle cx="447.9" cy="1450.7" r="5.4" fill="url(#gH)"/>
<circle cx="460.6" cy="1482.5" r="5.4" fill="url(#gH)"/>
<circle cx="276.6" cy="1477.9" r="5.4" fill="url(#gH)"/>
<circle cx="287.5" cy="1501.5" r="5.4" fill="url(#gH)"/>
<circle cx="279.4" cy="1512.4" r="5.4" fill="url(#gH)"/>
<circle cx="311.1" cy="1484.3" r="5.4" fill="url(#gH)"/>
<circle cx="329.2" cy="1487" r="5.4" fill="url(#gH)"/>
<circle cx="345.5" cy="1498.8" r="5.4" fill="url(#gH)"/>
<circle cx="353.7" cy="1498.8" r="5.4" fill="url(#gH)"/>
<circle cx="324.7" cy="1514.2" r="5.4" fill="url(#gH)"/>
<circle cx="316.5" cy="1518.7" r="5.4" fill="url(#gH)"/>
<circle cx="310.2" cy="1533.2" r="5.4" fill="url(#gH)"/>
<circle cx="408.9" cy="1495.1" r="5.4" fill="url(#gH)"/>
<circle cx="408" cy="1510.5" r="5.4" fill="url(#gH)"/>
<circle cx="391.7" cy="1525" r="5.4" fill="url(#gH)"/>
<circle cx="399" cy="1519.6" r="5.4" fill="url(#gH)"/>
<circle cx="437" cy="1508.7" r="5.4" fill="url(#gH)"/>
<circle cx="462.4" cy="1515.1" r="5.4" fill="url(#gH)"/>
<circle cx="433.4" cy="1534.1" r="5.4" fill="url(#gH)"/>
<circle cx="426.1" cy="1547.7" r="5.4" fill="url(#gH)"/>
<circle cx="356.4" cy="1523.2" r="5.4" fill="url(#gH)"/>
<circle cx="319.2" cy="1550.4" r="5.4" fill="url(#gH)"/>
<circle cx="310.2" cy="1571.2" r="5.4" fill="url(#gH)"/>
<circle cx="254.9" cy="1540.4" r="5.4" fill="url(#gH)"/>
<circle cx="250.4" cy="1584.8" r="5.4" fill="url(#gH)"/>
<circle cx="262.1" cy="1582.1" r="5.4" fill="url(#gH)"/>
<circle cx="280.3" cy="1593.9" r="5.4" fill="url(#gH)"/>
<circle cx="248.6" cy="1611.1" r="5.4" fill="url(#gH)"/>
<circle cx="249.5" cy="1624.7" r="5.4" fill="url(#gH)"/>
<circle cx="313.8" cy="1599.3" r="5.4" fill="url(#gH)"/>
<circle cx="343.7" cy="1578.5" r="5.4" fill="url(#gH)"/>
<circle cx="357.3" cy="1603.9" r="5.4" fill="url(#gH)"/>
<circle cx="358.2" cy="1615.6" r="5.4" fill="url(#gH)"/>
<circle cx="389" cy="1595.7" r="5.4" fill="url(#gH)"/>
<circle cx="407.1" cy="1581.2" r="5.4" fill="url(#gH)"/>
<circle cx="421.6" cy="1583" r="5.4" fill="url(#gH)"/>
<circle cx="424.3" cy="1611.1" r="5.4" fill="url(#gH)"/>
<circle cx="460.6" cy="1622.9" r="5.4" fill="url(#gH)"/>
<circle cx="360" cy="1635.6" r="5.4" fill="url(#gH)"/>
<circle cx="279.4" cy="1635.6" r="5.4" fill="url(#gH)"/>
<circle cx="74.3" cy="1659" r="5.4" fill="url(#gH)"/>
<circle cx="42.6" cy="1667.2" r="5.4" fill="url(#gH)"/>
<circle cx="48.9" cy="1664.5" r="5.4" fill="url(#gH)"/>
<circle cx="58.9" cy="1675.3" r="5.4" fill="url(#gH)"/>
<circle cx="84.3" cy="1703.4" r="5.4" fill="url(#gH)"/>
<circle cx="72.5" cy="1721.5" r="5.4" fill="url(#gH)"/>
<circle cx="43.5" cy="1717.9" r="5.4" fill="url(#gH)"/>
<circle cx="96" cy="1672.6" r="5.4" fill="url(#gH)"/>
<circle cx="108.7" cy="1694.4" r="5.4" fill="url(#gH)"/>
<circle cx="126.8" cy="1696.2" r="5.4" fill="url(#gH)"/>
<circle cx="155.8" cy="1659.9" r="5.4" fill="url(#gH)"/>
<circle cx="163.1" cy="1660.8" r="5.4" fill="url(#gH)"/>
<circle cx="142.3" cy="1667.2" r="5.4" fill="url(#gH)"/>
<circle cx="198.4" cy="1662.7" r="5.4" fill="url(#gH)"/>
<circle cx="225.8" cy="1658.1" r="5.4" fill="url(#gH)"/>
<circle cx="193" cy="1675.3" r="5.4" fill="url(#gH)"/>
<circle cx="157.7" cy="1697.1" r="5.4" fill="url(#gH)"/>
<circle cx="150.4" cy="1711.6" r="5.4" fill="url(#gH)"/>
<circle cx="151.3" cy="1718.8" r="5.4" fill="url(#gH)"/>
<circle cx="181.2" cy="1711.6" r="5.4" fill="url(#gH)"/>
<circle cx="214.7" cy="1715.2" r="5.4" fill="url(#gH)"/>
<circle cx="200.2" cy="1734.2" r="5.4" fill="url(#gH)"/>
<circle cx="175.8" cy="1774.1" r="5.4" fill="url(#gH)"/>
<circle cx="233.5" cy="1698.9" r="5.4" fill="url(#gH)"/>
<circle cx="10.9" cy="1688" r="5.4" fill="url(#gH)"/>
<circle cx="262.1" cy="1658.1" r="5.4" fill="url(#gH)"/>
<circle cx="279.4" cy="1650.9" r="5.4" fill="url(#gH)"/>
<circle cx="302.9" cy="1648.2" r="5.4" fill="url(#gH)"/>
<circle cx="260.3" cy="1676.2" r="5.4" fill="url(#gH)"/>
<circle cx="267.6" cy="1681.7" r="5.4" fill="url(#gH)"/>
<circle cx="316.5" cy="1678.1" r="5.4" fill="url(#gH)"/>
<circle cx="248.6" cy="1700.7" r="5.4" fill="url(#gH)"/>
<circle cx="277.6" cy="1728.8" r="5.4" fill="url(#gH)"/>
<circle cx="274.8" cy="1735.1" r="5.4" fill="url(#gH)"/>
<circle cx="263.1" cy="1738.8" r="5.4" fill="url(#gH)"/>
<circle cx="321" cy="1738.8" r="5.4" fill="url(#gH)"/>
<circle cx="336.4" cy="1667.2" r="5.4" fill="url(#gH)"/>
<circle cx="357.3" cy="1648.2" r="5.4" fill="url(#gH)"/>
<circle cx="357.3" cy="1641.8" r="5.4" fill="url(#gH)"/>
<circle cx="390.8" cy="1660.8" r="5.4" fill="url(#gH)"/>
<circle cx="369.1" cy="1690.7" r="5.4" fill="url(#gH)"/>
<circle cx="361.8" cy="1701.6" r="5.4" fill="url(#gH)"/>
<circle cx="403.5" cy="1678.1" r="5.4" fill="url(#gH)"/>
<circle cx="410.7" cy="1683.5" r="5.4" fill="url(#gH)"/>
<circle cx="435.2" cy="1686.2" r="5.4" fill="url(#gH)"/>
<circle cx="438.8" cy="1671.7" r="5.4" fill="url(#gH)"/>
<circle cx="434.3" cy="1705.2" r="5.4" fill="url(#gH)"/>
<circle cx="461.5" cy="1698.9" r="5.4" fill="url(#gH)"/>
<circle cx="395.3" cy="1711.6" r="5.4" fill="url(#gH)"/>
<circle cx="437" cy="1733.3" r="5.4" fill="url(#gH)"/>
<circle cx="391.7" cy="1755.1" r="5.4" fill="url(#gH)"/>
<circle cx="392.6" cy="1786.8" r="5.4" fill="url(#gH)"/>
<circle cx="416.2" cy="1642.7" r="5.4" fill="url(#gH)"/>
<circle cx="433.4" cy="1643.6" r="18.2" fill="url(#gG)"/>
</g>
<rect x="9.5" y="798" width="457.5" height="1122" fill="none" stroke="#000" stroke-width="3.6"/>
<text xml:space="preserve" x="23.82" y="58" font-size="53.51" font-weight="bold">a</text>
<text xml:space="preserve" x="521.91" y="59.8" font-size="53.51" font-weight="bold">b</text>
<text xml:space="preserve" x="521.05" y="838" font-size="53.51" font-weight="bold">c</text>
<g id="pb">
<line x1="710.3" y1="653.3" x2="1349.8" y2="14.1" stroke="#cccccc" stroke-width="6.25" stroke-dasharray="23.4 10.05"/>
<circle cx="809.1" cy="522" r="10.45" fill="#1f77b4" stroke="#1f77b4" stroke-width="5" fill-opacity="0.5" stroke-opacity="0.5"/>
<circle cx="809.1" cy="523.56" r="10.45" fill="#1f77b4" stroke="#1f77b4" stroke-width="5" fill-opacity="0.5" stroke-opacity="0.5"/>
<circle cx="809.1" cy="525.12" r="10.45" fill="#1f77b4" stroke="#1f77b4" stroke-width="5" fill-opacity="0.5" stroke-opacity="0.5"/>
<circle cx="809.1" cy="526.68" r="10.45" fill="#1f77b4" stroke="#1f77b4" stroke-width="5" fill-opacity="0.5" stroke-opacity="0.5"/>
<circle cx="809.1" cy="528.24" r="10.45" fill="#1f77b4" stroke="#1f77b4" stroke-width="5" fill-opacity="0.5" stroke-opacity="0.5"/>
<circle cx="809.1" cy="529.79" r="10.45" fill="#1f77b4" stroke="#1f77b4" stroke-width="5" fill-opacity="0.5" stroke-opacity="0.5"/>
<circle cx="809.1" cy="531.35" r="10.45" fill="#1f77b4" stroke="#1f77b4" stroke-width="5" fill-opacity="0.5" stroke-opacity="0.5"/>
<circle cx="809.1" cy="532.91" r="10.45" fill="#1f77b4" stroke="#1f77b4" stroke-width="5" fill-opacity="0.5" stroke-opacity="0.5"/>
<circle cx="809.1" cy="534.47" r="10.45" fill="#1f77b4" stroke="#1f77b4" stroke-width="5" fill-opacity="0.5" stroke-opacity="0.5"/>
<circle cx="809.1" cy="536.03" r="10.45" fill="#1f77b4" stroke="#1f77b4" stroke-width="5" fill-opacity="0.5" stroke-opacity="0.5"/>
<circle cx="809.1" cy="537.59" r="10.45" fill="#1f77b4" stroke="#1f77b4" stroke-width="5" fill-opacity="0.5" stroke-opacity="0.5"/>
<circle cx="809.1" cy="539.15" r="10.45" fill="#1f77b4" stroke="#1f77b4" stroke-width="5" fill-opacity="0.5" stroke-opacity="0.5"/>
<circle cx="809.1" cy="540.71" r="10.45" fill="#1f77b4" stroke="#1f77b4" stroke-width="5" fill-opacity="0.5" stroke-opacity="0.5"/>
<circle cx="809.1" cy="542.26" r="10.45" fill="#1f77b4" stroke="#1f77b4" stroke-width="5" fill-opacity="0.5" stroke-opacity="0.5"/>
<circle cx="809.1" cy="543.82" r="10.45" fill="#1f77b4" stroke="#1f77b4" stroke-width="5" fill-opacity="0.5" stroke-opacity="0.5"/>
<circle cx="809.1" cy="545.38" r="10.45" fill="#1f77b4" stroke="#1f77b4" stroke-width="5" fill-opacity="0.5" stroke-opacity="0.5"/>
<circle cx="809.1" cy="546.94" r="10.45" fill="#1f77b4" stroke="#1f77b4" stroke-width="5" fill-opacity="0.5" stroke-opacity="0.5"/>
<circle cx="809.1" cy="548.5" r="10.45" fill="#1f77b4" stroke="#1f77b4" stroke-width="5" fill-opacity="0.5" stroke-opacity="0.5"/>
<circle cx="842.4" cy="505" r="10.45" fill="#1f77b4" stroke="#1f77b4" stroke-width="5" fill-opacity="0.5" stroke-opacity="0.5"/>
<circle cx="842.4" cy="506.72" r="10.45" fill="#1f77b4" stroke="#1f77b4" stroke-width="5" fill-opacity="0.5" stroke-opacity="0.5"/>
<circle cx="842.4" cy="508.44" r="10.45" fill="#1f77b4" stroke="#1f77b4" stroke-width="5" fill-opacity="0.5" stroke-opacity="0.5"/>
<circle cx="842.4" cy="510.16" r="10.45" fill="#1f77b4" stroke="#1f77b4" stroke-width="5" fill-opacity="0.5" stroke-opacity="0.5"/>
<circle cx="842.4" cy="511.88" r="10.45" fill="#1f77b4" stroke="#1f77b4" stroke-width="5" fill-opacity="0.5" stroke-opacity="0.5"/>
<circle cx="842.4" cy="513.6" r="10.45" fill="#1f77b4" stroke="#1f77b4" stroke-width="5" fill-opacity="0.5" stroke-opacity="0.5"/>
<circle cx="1118.2" cy="251.2" r="10.45" fill="#1f77b4" stroke="#1f77b4" stroke-width="5" fill-opacity="0.5" stroke-opacity="0.5"/>
<circle cx="1118.2" cy="252.16" r="10.45" fill="#1f77b4" stroke="#1f77b4" stroke-width="5" fill-opacity="0.5" stroke-opacity="0.5"/>
<circle cx="1118.2" cy="253.12" r="10.45" fill="#1f77b4" stroke="#1f77b4" stroke-width="5" fill-opacity="0.5" stroke-opacity="0.5"/>
<circle cx="1118.2" cy="254.08" r="10.45" fill="#1f77b4" stroke="#1f77b4" stroke-width="5" fill-opacity="0.5" stroke-opacity="0.5"/>
<circle cx="1118.2" cy="255.04" r="10.45" fill="#1f77b4" stroke="#1f77b4" stroke-width="5" fill-opacity="0.5" stroke-opacity="0.5"/>
<circle cx="1118.2" cy="256" r="10.45" fill="#1f77b4" stroke="#1f77b4" stroke-width="5" fill-opacity="0.5" stroke-opacity="0.5"/>
<circle cx="1242.4" cy="128.4" r="10.45" fill="#1f77b4" stroke="#1f77b4" stroke-width="5" fill-opacity="0.5" stroke-opacity="0.5"/>
<circle cx="1242.4" cy="130.12" r="10.45" fill="#1f77b4" stroke="#1f77b4" stroke-width="5" fill-opacity="0.5" stroke-opacity="0.5"/>
<circle cx="1242.4" cy="131.84" r="10.45" fill="#1f77b4" stroke="#1f77b4" stroke-width="5" fill-opacity="0.5" stroke-opacity="0.5"/>
<circle cx="1242.4" cy="133.56" r="10.45" fill="#1f77b4" stroke="#1f77b4" stroke-width="5" fill-opacity="0.5" stroke-opacity="0.5"/>
<circle cx="1242.4" cy="135.28" r="10.45" fill="#1f77b4" stroke="#1f77b4" stroke-width="5" fill-opacity="0.5" stroke-opacity="0.5"/>
<circle cx="1242.4" cy="137" r="10.45" fill="#1f77b4" stroke="#1f77b4" stroke-width="5" fill-opacity="0.5" stroke-opacity="0.5"/>
<circle cx="809.1" cy="520.2" r="9.3" fill="#ff7f0e" stroke="#ff7f0e" stroke-width="5" fill-opacity="0.5" stroke-opacity="0.5"/>
<circle cx="809.1" cy="521.76" r="9.3" fill="#ff7f0e" stroke="#ff7f0e" stroke-width="5" fill-opacity="0.5" stroke-opacity="0.5"/>
<circle cx="809.1" cy="523.33" r="9.3" fill="#ff7f0e" stroke="#ff7f0e" stroke-width="5" fill-opacity="0.5" stroke-opacity="0.5"/>
<circle cx="809.1" cy="524.89" r="9.3" fill="#ff7f0e" stroke="#ff7f0e" stroke-width="5" fill-opacity="0.5" stroke-opacity="0.5"/>
<circle cx="809.1" cy="526.46" r="9.3" fill="#ff7f0e" stroke="#ff7f0e" stroke-width="5" fill-opacity="0.5" stroke-opacity="0.5"/>
<circle cx="809.1" cy="528.02" r="9.3" fill="#ff7f0e" stroke="#ff7f0e" stroke-width="5" fill-opacity="0.5" stroke-opacity="0.5"/>
<circle cx="809.1" cy="529.59" r="9.3" fill="#ff7f0e" stroke="#ff7f0e" stroke-width="5" fill-opacity="0.5" stroke-opacity="0.5"/>
<circle cx="809.1" cy="531.15" r="9.3" fill="#ff7f0e" stroke="#ff7f0e" stroke-width="5" fill-opacity="0.5" stroke-opacity="0.5"/>
<circle cx="809.1" cy="532.71" r="9.3" fill="#ff7f0e" stroke="#ff7f0e" stroke-width="5" fill-opacity="0.5" stroke-opacity="0.5"/>
<circle cx="809.1" cy="534.28" r="9.3" fill="#ff7f0e" stroke="#ff7f0e" stroke-width="5" fill-opacity="0.5" stroke-opacity="0.5"/>
<circle cx="809.1" cy="535.84" r="9.3" fill="#ff7f0e" stroke="#ff7f0e" stroke-width="5" fill-opacity="0.5" stroke-opacity="0.5"/>
<circle cx="809.1" cy="537.41" r="9.3" fill="#ff7f0e" stroke="#ff7f0e" stroke-width="5" fill-opacity="0.5" stroke-opacity="0.5"/>
<circle cx="809.1" cy="538.97" r="9.3" fill="#ff7f0e" stroke="#ff7f0e" stroke-width="5" fill-opacity="0.5" stroke-opacity="0.5"/>
<circle cx="809.1" cy="540.54" r="9.3" fill="#ff7f0e" stroke="#ff7f0e" stroke-width="5" fill-opacity="0.5" stroke-opacity="0.5"/>
<circle cx="809.1" cy="542.1" r="9.3" fill="#ff7f0e" stroke="#ff7f0e" stroke-width="5" fill-opacity="0.5" stroke-opacity="0.5"/>
<circle cx="842.4" cy="507.2" r="9.3" fill="#ff7f0e" stroke="#ff7f0e" stroke-width="5" fill-opacity="0.5" stroke-opacity="0.5"/>
<circle cx="842.4" cy="507.66" r="9.3" fill="#ff7f0e" stroke="#ff7f0e" stroke-width="5" fill-opacity="0.5" stroke-opacity="0.5"/>
<circle cx="842.4" cy="508.12" r="9.3" fill="#ff7f0e" stroke="#ff7f0e" stroke-width="5" fill-opacity="0.5" stroke-opacity="0.5"/>
<circle cx="842.4" cy="508.58" r="9.3" fill="#ff7f0e" stroke="#ff7f0e" stroke-width="5" fill-opacity="0.5" stroke-opacity="0.5"/>
<circle cx="842.4" cy="509.04" r="9.3" fill="#ff7f0e" stroke="#ff7f0e" stroke-width="5" fill-opacity="0.5" stroke-opacity="0.5"/>
<circle cx="842.4" cy="509.5" r="9.3" fill="#ff7f0e" stroke="#ff7f0e" stroke-width="5" fill-opacity="0.5" stroke-opacity="0.5"/>
<circle cx="1118.2" cy="252" r="9.3" fill="#ff7f0e" stroke="#ff7f0e" stroke-width="5" fill-opacity="0.5" stroke-opacity="0.5"/>
<circle cx="1118.2" cy="252.8" r="9.3" fill="#ff7f0e" stroke="#ff7f0e" stroke-width="5" fill-opacity="0.5" stroke-opacity="0.5"/>
<circle cx="1118.2" cy="253.6" r="9.3" fill="#ff7f0e" stroke="#ff7f0e" stroke-width="5" fill-opacity="0.5" stroke-opacity="0.5"/>
<circle cx="1118.2" cy="254.4" r="9.3" fill="#ff7f0e" stroke="#ff7f0e" stroke-width="5" fill-opacity="0.5" stroke-opacity="0.5"/>
<circle cx="1118.2" cy="255.2" r="9.3" fill="#ff7f0e" stroke="#ff7f0e" stroke-width="5" fill-opacity="0.5" stroke-opacity="0.5"/>
<circle cx="1118.2" cy="256" r="9.3" fill="#ff7f0e" stroke="#ff7f0e" stroke-width="5" fill-opacity="0.5" stroke-opacity="0.5"/>
<circle cx="1242.4" cy="129.5" r="9.3" fill="#ff7f0e" stroke="#ff7f0e" stroke-width="5" fill-opacity="0.5" stroke-opacity="0.5"/>
<circle cx="1242.4" cy="131.08" r="9.3" fill="#ff7f0e" stroke="#ff7f0e" stroke-width="5" fill-opacity="0.5" stroke-opacity="0.5"/>
<circle cx="1242.4" cy="132.67" r="9.3" fill="#ff7f0e" stroke="#ff7f0e" stroke-width="5" fill-opacity="0.5" stroke-opacity="0.5"/>
<circle cx="1242.4" cy="134.25" r="9.3" fill="#ff7f0e" stroke="#ff7f0e" stroke-width="5" fill-opacity="0.5" stroke-opacity="0.5"/>
<circle cx="1242.4" cy="135.83" r="9.3" fill="#ff7f0e" stroke="#ff7f0e" stroke-width="5" fill-opacity="0.5" stroke-opacity="0.5"/>
<circle cx="1242.4" cy="137.42" r="9.3" fill="#ff7f0e" stroke="#ff7f0e" stroke-width="5" fill-opacity="0.5" stroke-opacity="0.5"/>
<circle cx="1242.4" cy="139" r="9.3" fill="#ff7f0e" stroke="#ff7f0e" stroke-width="5" fill-opacity="0.5" stroke-opacity="0.5"/>
<circle cx="809.1" cy="521.4" r="8.2" fill="#2ca02c" stroke="#2ca02c" stroke-width="5" fill-opacity="0.5" stroke-opacity="0.5"/>
<circle cx="809.1" cy="522.95" r="8.2" fill="#2ca02c" stroke="#2ca02c" stroke-width="5" fill-opacity="0.5" stroke-opacity="0.5"/>
<circle cx="809.1" cy="524.49" r="8.2" fill="#2ca02c" stroke="#2ca02c" stroke-width="5" fill-opacity="0.5" stroke-opacity="0.5"/>
<circle cx="809.1" cy="526.04" r="8.2" fill="#2ca02c" stroke="#2ca02c" stroke-width="5" fill-opacity="0.5" stroke-opacity="0.5"/>
<circle cx="809.1" cy="527.58" r="8.2" fill="#2ca02c" stroke="#2ca02c" stroke-width="5" fill-opacity="0.5" stroke-opacity="0.5"/>
<circle cx="809.1" cy="529.13" r="8.2" fill="#2ca02c" stroke="#2ca02c" stroke-width="5" fill-opacity="0.5" stroke-opacity="0.5"/>
<circle cx="809.1" cy="530.68" r="8.2" fill="#2ca02c" stroke="#2ca02c" stroke-width="5" fill-opacity="0.5" stroke-opacity="0.5"/>
<circle cx="809.1" cy="532.22" r="8.2" fill="#2ca02c" stroke="#2ca02c" stroke-width="5" fill-opacity="0.5" stroke-opacity="0.5"/>
<circle cx="809.1" cy="533.77" r="8.2" fill="#2ca02c" stroke="#2ca02c" stroke-width="5" fill-opacity="0.5" stroke-opacity="0.5"/>
<circle cx="809.1" cy="535.32" r="8.2" fill="#2ca02c" stroke="#2ca02c" stroke-width="5" fill-opacity="0.5" stroke-opacity="0.5"/>
<circle cx="809.1" cy="536.86" r="8.2" fill="#2ca02c" stroke="#2ca02c" stroke-width="5" fill-opacity="0.5" stroke-opacity="0.5"/>
<circle cx="809.1" cy="538.41" r="8.2" fill="#2ca02c" stroke="#2ca02c" stroke-width="5" fill-opacity="0.5" stroke-opacity="0.5"/>
<circle cx="809.1" cy="539.95" r="8.2" fill="#2ca02c" stroke="#2ca02c" stroke-width="5" fill-opacity="0.5" stroke-opacity="0.5"/>
<circle cx="809.1" cy="541.5" r="8.2" fill="#2ca02c" stroke="#2ca02c" stroke-width="5" fill-opacity="0.5" stroke-opacity="0.5"/>
<circle cx="842.4" cy="506.1" r="8.2" fill="#2ca02c" stroke="#2ca02c" stroke-width="5" fill-opacity="0.5" stroke-opacity="0.5"/>
<circle cx="842.4" cy="507.08" r="8.2" fill="#2ca02c" stroke="#2ca02c" stroke-width="5" fill-opacity="0.5" stroke-opacity="0.5"/>
<circle cx="842.4" cy="508.06" r="8.2" fill="#2ca02c" stroke="#2ca02c" stroke-width="5" fill-opacity="0.5" stroke-opacity="0.5"/>
<circle cx="842.4" cy="509.04" r="8.2" fill="#2ca02c" stroke="#2ca02c" stroke-width="5" fill-opacity="0.5" stroke-opacity="0.5"/>
<circle cx="842.4" cy="510.02" r="8.2" fill="#2ca02c" stroke="#2ca02c" stroke-width="5" fill-opacity="0.5" stroke-opacity="0.5"/>
<circle cx="842.4" cy="511" r="8.2" fill="#2ca02c" stroke="#2ca02c" stroke-width="5" fill-opacity="0.5" stroke-opacity="0.5"/>
<circle cx="1118.2" cy="252" r="8.2" fill="#2ca02c" stroke="#2ca02c" stroke-width="5" fill-opacity="0.5" stroke-opacity="0.5"/>
<circle cx="1118.2" cy="252.3" r="8.2" fill="#2ca02c" stroke="#2ca02c" stroke-width="5" fill-opacity="0.5" stroke-opacity="0.5"/>
<circle cx="1118.2" cy="252.6" r="8.2" fill="#2ca02c" stroke="#2ca02c" stroke-width="5" fill-opacity="0.5" stroke-opacity="0.5"/>
<circle cx="1118.2" cy="252.9" r="8.2" fill="#2ca02c" stroke="#2ca02c" stroke-width="5" fill-opacity="0.5" stroke-opacity="0.5"/>
<circle cx="1118.2" cy="253.2" r="8.2" fill="#2ca02c" stroke="#2ca02c" stroke-width="5" fill-opacity="0.5" stroke-opacity="0.5"/>
<circle cx="1118.2" cy="253.5" r="8.2" fill="#2ca02c" stroke="#2ca02c" stroke-width="5" fill-opacity="0.5" stroke-opacity="0.5"/>
<circle cx="1242.4" cy="128.5" r="8.2" fill="#2ca02c" stroke="#2ca02c" stroke-width="5" fill-opacity="0.5" stroke-opacity="0.5"/>
<circle cx="1242.4" cy="130.09" r="8.2" fill="#2ca02c" stroke="#2ca02c" stroke-width="5" fill-opacity="0.5" stroke-opacity="0.5"/>
<circle cx="1242.4" cy="131.67" r="8.2" fill="#2ca02c" stroke="#2ca02c" stroke-width="5" fill-opacity="0.5" stroke-opacity="0.5"/>
<circle cx="1242.4" cy="133.26" r="8.2" fill="#2ca02c" stroke="#2ca02c" stroke-width="5" fill-opacity="0.5" stroke-opacity="0.5"/>
<circle cx="1242.4" cy="134.84" r="8.2" fill="#2ca02c" stroke="#2ca02c" stroke-width="5" fill-opacity="0.5" stroke-opacity="0.5"/>
<circle cx="1242.4" cy="136.43" r="8.2" fill="#2ca02c" stroke="#2ca02c" stroke-width="5" fill-opacity="0.5" stroke-opacity="0.5"/>
<circle cx="1242.4" cy="138.01" r="8.2" fill="#2ca02c" stroke="#2ca02c" stroke-width="5" fill-opacity="0.5" stroke-opacity="0.5"/>
<circle cx="1242.4" cy="139.6" r="8.2" fill="#2ca02c" stroke="#2ca02c" stroke-width="5" fill-opacity="0.5" stroke-opacity="0.5"/>
<circle cx="809.1" cy="433.9" r="7.4" fill="#d62728" stroke="#d62728" stroke-width="5" fill-opacity="0.5" stroke-opacity="0.5"/>
<circle cx="809.1" cy="435.41" r="7.4" fill="#d62728" stroke="#d62728" stroke-width="5" fill-opacity="0.5" stroke-opacity="0.5"/>
<circle cx="809.1" cy="436.91" r="7.4" fill="#d62728" stroke="#d62728" stroke-width="5" fill-opacity="0.5" stroke-opacity="0.5"/>
<circle cx="809.1" cy="438.42" r="7.4" fill="#d62728" stroke="#d62728" stroke-width="5" fill-opacity="0.5" stroke-opacity="0.5"/>
<circle cx="809.1" cy="439.92" r="7.4" fill="#d62728" stroke="#d62728" stroke-width="5" fill-opacity="0.5" stroke-opacity="0.5"/>
<circle cx="809.1" cy="441.43" r="7.4" fill="#d62728" stroke="#d62728" stroke-width="5" fill-opacity="0.5" stroke-opacity="0.5"/>
<circle cx="809.1" cy="442.93" r="7.4" fill="#d62728" stroke="#d62728" stroke-width="5" fill-opacity="0.5" stroke-opacity="0.5"/>
<circle cx="809.1" cy="444.44" r="7.4" fill="#d62728" stroke="#d62728" stroke-width="5" fill-opacity="0.5" stroke-opacity="0.5"/>
<circle cx="809.1" cy="445.95" r="7.4" fill="#d62728" stroke="#d62728" stroke-width="5" fill-opacity="0.5" stroke-opacity="0.5"/>
<circle cx="809.1" cy="447.45" r="7.4" fill="#d62728" stroke="#d62728" stroke-width="5" fill-opacity="0.5" stroke-opacity="0.5"/>
<circle cx="809.1" cy="448.96" r="7.4" fill="#d62728" stroke="#d62728" stroke-width="5" fill-opacity="0.5" stroke-opacity="0.5"/>
<circle cx="809.1" cy="450.46" r="7.4" fill="#d62728" stroke="#d62728" stroke-width="5" fill-opacity="0.5" stroke-opacity="0.5"/>
<circle cx="809.1" cy="451.97" r="7.4" fill="#d62728" stroke="#d62728" stroke-width="5" fill-opacity="0.5" stroke-opacity="0.5"/>
<circle cx="809.1" cy="453.47" r="7.4" fill="#d62728" stroke="#d62728" stroke-width="5" fill-opacity="0.5" stroke-opacity="0.5"/>
<circle cx="809.1" cy="454.98" r="7.4" fill="#d62728" stroke="#d62728" stroke-width="5" fill-opacity="0.5" stroke-opacity="0.5"/>
<circle cx="809.1" cy="456.49" r="7.4" fill="#d62728" stroke="#d62728" stroke-width="5" fill-opacity="0.5" stroke-opacity="0.5"/>
<circle cx="809.1" cy="457.99" r="7.4" fill="#d62728" stroke="#d62728" stroke-width="5" fill-opacity="0.5" stroke-opacity="0.5"/>
<circle cx="809.1" cy="459.5" r="7.4" fill="#d62728" stroke="#d62728" stroke-width="5" fill-opacity="0.5" stroke-opacity="0.5"/>
<circle cx="809.1" cy="461" r="7.4" fill="#d62728" stroke="#d62728" stroke-width="5" fill-opacity="0.5" stroke-opacity="0.5"/>
<circle cx="809.1" cy="462.51" r="7.4" fill="#d62728" stroke="#d62728" stroke-width="5" fill-opacity="0.5" stroke-opacity="0.5"/>
<circle cx="809.1" cy="464.01" r="7.4" fill="#d62728" stroke="#d62728" stroke-width="5" fill-opacity="0.5" stroke-opacity="0.5"/>
<circle cx="809.1" cy="465.52" r="7.4" fill="#d62728" stroke="#d62728" stroke-width="5" fill-opacity="0.5" stroke-opacity="0.5"/>
<circle cx="809.1" cy="467.03" r="7.4" fill="#d62728" stroke="#d62728" stroke-width="5" fill-opacity="0.5" stroke-opacity="0.5"/>
<circle cx="809.1" cy="468.53" r="7.4" fill="#d62728" stroke="#d62728" stroke-width="5" fill-opacity="0.5" stroke-opacity="0.5"/>
<circle cx="809.1" cy="470.04" r="7.4" fill="#d62728" stroke="#d62728" stroke-width="5" fill-opacity="0.5" stroke-opacity="0.5"/>
<circle cx="809.1" cy="471.54" r="7.4" fill="#d62728" stroke="#d62728" stroke-width="5" fill-opacity="0.5" stroke-opacity="0.5"/>
<circle cx="809.1" cy="473.05" r="7.4" fill="#d62728" stroke="#d62728" stroke-width="5" fill-opacity="0.5" stroke-opacity="0.5"/>
<circle cx="809.1" cy="474.55" r="7.4" fill="#d62728" stroke="#d62728" stroke-width="5" fill-opacity="0.5" stroke-opacity="0.5"/>
<circle cx="809.1" cy="476.06" r="7.4" fill="#d62728" stroke="#d62728" stroke-width="5" fill-opacity="0.5" stroke-opacity="0.5"/>
<circle cx="809.1" cy="477.57" r="7.4" fill="#d62728" stroke="#d62728" stroke-width="5" fill-opacity="0.5" stroke-opacity="0.5"/>
<circle cx="809.1" cy="479.07" r="7.4" fill="#d62728" stroke="#d62728" stroke-width="5" fill-opacity="0.5" stroke-opacity="0.5"/>
<circle cx="809.1" cy="480.58" r="7.4" fill="#d62728" stroke="#d62728" stroke-width="5" fill-opacity="0.5" stroke-opacity="0.5"/>
<circle cx="809.1" cy="482.08" r="7.4" fill="#d62728" stroke="#d62728" stroke-width="5" fill-opacity="0.5" stroke-opacity="0.5"/>
<circle cx="809.1" cy="483.59" r="7.4" fill="#d62728" stroke="#d62728" stroke-width="5" fill-opacity="0.5" stroke-opacity="0.5"/>
<circle cx="809.1" cy="485.09" r="7.4" fill="#d62728" stroke="#d62728" stroke-width="5" fill-opacity="0.5" stroke-opacity="0.5"/>
<circle cx="809.1" cy="486.6" r="7.4" fill="#d62728" stroke="#d62728" stroke-width="5" fill-opacity="0.5" stroke-opacity="0.5"/>
<circle cx="842.4" cy="465.9" r="7.4" fill="#d62728" stroke="#d62728" stroke-width="5" fill-opacity="0.5" stroke-opacity="0.5"/>
<circle cx="842.4" cy="466.78" r="7.4" fill="#d62728" stroke="#d62728" stroke-width="5" fill-opacity="0.5" stroke-opacity="0.5"/>
<circle cx="842.4" cy="467.66" r="7.4" fill="#d62728" stroke="#d62728" stroke-width="5" fill-opacity="0.5" stroke-opacity="0.5"/>
<circle cx="842.4" cy="468.54" r="7.4" fill="#d62728" stroke="#d62728" stroke-width="5" fill-opacity="0.5" stroke-opacity="0.5"/>
<circle cx="842.4" cy="469.42" r="7.4" fill="#d62728" stroke="#d62728" stroke-width="5" fill-opacity="0.5" stroke-opacity="0.5"/>
<circle cx="842.4" cy="470.3" r="7.4" fill="#d62728" stroke="#d62728" stroke-width="5" fill-opacity="0.5" stroke-opacity="0.5"/>
<circle cx="1118.2" cy="269.7" r="7.4" fill="#d62728" stroke="#d62728" stroke-width="5" fill-opacity="0.5" stroke-opacity="0.5"/>
<circle cx="1118.2" cy="271.06" r="7.4" fill="#d62728" stroke="#d62728" stroke-width="5" fill-opacity="0.5" stroke-opacity="0.5"/>
<circle cx="1118.2" cy="272.42" r="7.4" fill="#d62728" stroke="#d62728" stroke-width="5" fill-opacity="0.5" stroke-opacity="0.5"/>
<circle cx="1118.2" cy="273.78" r="7.4" fill="#d62728" stroke="#d62728" stroke-width="5" fill-opacity="0.5" stroke-opacity="0.5"/>
<circle cx="1118.2" cy="275.14" r="7.4" fill="#d62728" stroke="#d62728" stroke-width="5" fill-opacity="0.5" stroke-opacity="0.5"/>
<circle cx="1118.2" cy="276.5" r="7.4" fill="#d62728" stroke="#d62728" stroke-width="5" fill-opacity="0.5" stroke-opacity="0.5"/>
<circle cx="1242.4" cy="164.6" r="7.4" fill="#d62728" stroke="#d62728" stroke-width="5" fill-opacity="0.5" stroke-opacity="0.5"/>
<circle cx="1242.4" cy="166.19" r="7.4" fill="#d62728" stroke="#d62728" stroke-width="5" fill-opacity="0.5" stroke-opacity="0.5"/>
<circle cx="1242.4" cy="167.78" r="7.4" fill="#d62728" stroke="#d62728" stroke-width="5" fill-opacity="0.5" stroke-opacity="0.5"/>
<circle cx="1242.4" cy="169.37" r="7.4" fill="#d62728" stroke="#d62728" stroke-width="5" fill-opacity="0.5" stroke-opacity="0.5"/>
<circle cx="1242.4" cy="170.96" r="7.4" fill="#d62728" stroke="#d62728" stroke-width="5" fill-opacity="0.5" stroke-opacity="0.5"/>
<circle cx="1242.4" cy="172.54" r="7.4" fill="#d62728" stroke="#d62728" stroke-width="5" fill-opacity="0.5" stroke-opacity="0.5"/>
<circle cx="1242.4" cy="174.13" r="7.4" fill="#d62728" stroke="#d62728" stroke-width="5" fill-opacity="0.5" stroke-opacity="0.5"/>
<circle cx="1242.4" cy="175.72" r="7.4" fill="#d62728" stroke="#d62728" stroke-width="5" fill-opacity="0.5" stroke-opacity="0.5"/>
<circle cx="1242.4" cy="177.31" r="7.4" fill="#d62728" stroke="#d62728" stroke-width="5" fill-opacity="0.5" stroke-opacity="0.5"/>
<circle cx="1242.4" cy="178.9" r="7.4" fill="#d62728" stroke="#d62728" stroke-width="5" fill-opacity="0.5" stroke-opacity="0.5"/>
<circle cx="809.1" cy="431.1" r="6.3" fill="#9467bd" stroke="#9467bd" stroke-width="5" fill-opacity="0.5" stroke-opacity="0.5"/>
<circle cx="809.1" cy="432.64" r="6.3" fill="#9467bd" stroke="#9467bd" stroke-width="5" fill-opacity="0.5" stroke-opacity="0.5"/>
<circle cx="809.1" cy="434.18" r="6.3" fill="#9467bd" stroke="#9467bd" stroke-width="5" fill-opacity="0.5" stroke-opacity="0.5"/>
<circle cx="809.1" cy="435.73" r="6.3" fill="#9467bd" stroke="#9467bd" stroke-width="5" fill-opacity="0.5" stroke-opacity="0.5"/>
<circle cx="809.1" cy="437.27" r="6.3" fill="#9467bd" stroke="#9467bd" stroke-width="5" fill-opacity="0.5" stroke-opacity="0.5"/>
<circle cx="809.1" cy="438.81" r="6.3" fill="#9467bd" stroke="#9467bd" stroke-width="5" fill-opacity="0.5" stroke-opacity="0.5"/>
<circle cx="809.1" cy="440.35" r="6.3" fill="#9467bd" stroke="#9467bd" stroke-width="5" fill-opacity="0.5" stroke-opacity="0.5"/>
<circle cx="809.1" cy="441.89" r="6.3" fill="#9467bd" stroke="#9467bd" stroke-width="5" fill-opacity="0.5" stroke-opacity="0.5"/>
<circle cx="809.1" cy="443.44" r="6.3" fill="#9467bd" stroke="#9467bd" stroke-width="5" fill-opacity="0.5" stroke-opacity="0.5"/>
<circle cx="809.1" cy="444.98" r="6.3" fill="#9467bd" stroke="#9467bd" stroke-width="5" fill-opacity="0.5" stroke-opacity="0.5"/>
<circle cx="809.1" cy="446.52" r="6.3" fill="#9467bd" stroke="#9467bd" stroke-width="5" fill-opacity="0.5" stroke-opacity="0.5"/>
<circle cx="809.1" cy="448.06" r="6.3" fill="#9467bd" stroke="#9467bd" stroke-width="5" fill-opacity="0.5" stroke-opacity="0.5"/>
<circle cx="809.1" cy="449.61" r="6.3" fill="#9467bd" stroke="#9467bd" stroke-width="5" fill-opacity="0.5" stroke-opacity="0.5"/>
<circle cx="809.1" cy="451.15" r="6.3" fill="#9467bd" stroke="#9467bd" stroke-width="5" fill-opacity="0.5" stroke-opacity="0.5"/>
<circle cx="809.1" cy="452.69" r="6.3" fill="#9467bd" stroke="#9467bd" stroke-width="5" fill-opacity="0.5" stroke-opacity="0.5"/>
<circle cx="809.1" cy="454.23" r="6.3" fill="#9467bd" stroke="#9467bd" stroke-width="5" fill-opacity="0.5" stroke-opacity="0.5"/>
<circle cx="809.1" cy="455.77" r="6.3" fill="#9467bd" stroke="#9467bd" stroke-width="5" fill-opacity="0.5" stroke-opacity="0.5"/>
<circle cx="809.1" cy="457.32" r="6.3" fill="#9467bd" stroke="#9467bd" stroke-width="5" fill-opacity="0.5" stroke-opacity="0.5"/>
<circle cx="809.1" cy="458.86" r="6.3" fill="#9467bd" stroke="#9467bd" stroke-width="5" fill-opacity="0.5" stroke-opacity="0.5"/>
<circle cx="809.1" cy="460.4" r="6.3" fill="#9467bd" stroke="#9467bd" stroke-width="5" fill-opacity="0.5" stroke-opacity="0.5"/>
<circle cx="842.4" cy="444.2" r="6.3" fill="#9467bd" stroke="#9467bd" stroke-width="5" fill-opacity="0.5" stroke-opacity="0.5"/>
<circle cx="842.4" cy="445.82" r="6.3" fill="#9467bd" stroke="#9467bd" stroke-width="5" fill-opacity="0.5" stroke-opacity="0.5"/>
<circle cx="842.4" cy="447.45" r="6.3" fill="#9467bd" stroke="#9467bd" stroke-width="5" fill-opacity="0.5" stroke-opacity="0.5"/>
<circle cx="842.4" cy="449.07" r="6.3" fill="#9467bd" stroke="#9467bd" stroke-width="5" fill-opacity="0.5" stroke-opacity="0.5"/>
<circle cx="842.4" cy="450.7" r="6.3" fill="#9467bd" stroke="#9467bd" stroke-width="5" fill-opacity="0.5" stroke-opacity="0.5"/>
<circle cx="842.4" cy="452.32" r="6.3" fill="#9467bd" stroke="#9467bd" stroke-width="5" fill-opacity="0.5" stroke-opacity="0.5"/>
<circle cx="842.4" cy="453.95" r="6.3" fill="#9467bd" stroke="#9467bd" stroke-width="5" fill-opacity="0.5" stroke-opacity="0.5"/>
<circle cx="842.4" cy="455.57" r="6.3" fill="#9467bd" stroke="#9467bd" stroke-width="5" fill-opacity="0.5" stroke-opacity="0.5"/>
<circle cx="842.4" cy="457.2" r="6.3" fill="#9467bd" stroke="#9467bd" stroke-width="5" fill-opacity="0.5" stroke-opacity="0.5"/>
<circle cx="1118.2" cy="277.4" r="6.3" fill="#9467bd" stroke="#9467bd" stroke-width="5" fill-opacity="0.5" stroke-opacity="0.5"/>
<circle cx="1118.2" cy="279" r="6.3" fill="#9467bd" stroke="#9467bd" stroke-width="5" fill-opacity="0.5" stroke-opacity="0.5"/>
<circle cx="1118.2" cy="280.6" r="6.3" fill="#9467bd" stroke="#9467bd" stroke-width="5" fill-opacity="0.5" stroke-opacity="0.5"/>
<circle cx="1118.2" cy="282.2" r="6.3" fill="#9467bd" stroke="#9467bd" stroke-width="5" fill-opacity="0.5" stroke-opacity="0.5"/>
<circle cx="1118.2" cy="283.8" r="6.3" fill="#9467bd" stroke="#9467bd" stroke-width="5" fill-opacity="0.5" stroke-opacity="0.5"/>
<circle cx="1118.2" cy="285.4" r="6.3" fill="#9467bd" stroke="#9467bd" stroke-width="5" fill-opacity="0.5" stroke-opacity="0.5"/>
<circle cx="1118.2" cy="287" r="6.3" fill="#9467bd" stroke="#9467bd" stroke-width="5" fill-opacity="0.5" stroke-opacity="0.5"/>
<circle cx="1118.2" cy="288.6" r="6.3" fill="#9467bd" stroke="#9467bd" stroke-width="5" fill-opacity="0.5" stroke-opacity="0.5"/>
<circle cx="1118.2" cy="290.2" r="6.3" fill="#9467bd" stroke="#9467bd" stroke-width="5" fill-opacity="0.5" stroke-opacity="0.5"/>
<circle cx="1242.4" cy="173.8" r="6.3" fill="#9467bd" stroke="#9467bd" stroke-width="5" fill-opacity="0.5" stroke-opacity="0.5"/>
<circle cx="1242.4" cy="175.32" r="6.3" fill="#9467bd" stroke="#9467bd" stroke-width="5" fill-opacity="0.5" stroke-opacity="0.5"/>
<circle cx="1242.4" cy="176.84" r="6.3" fill="#9467bd" stroke="#9467bd" stroke-width="5" fill-opacity="0.5" stroke-opacity="0.5"/>
<circle cx="1242.4" cy="178.36" r="6.3" fill="#9467bd" stroke="#9467bd" stroke-width="5" fill-opacity="0.5" stroke-opacity="0.5"/>
<circle cx="1242.4" cy="179.88" r="6.3" fill="#9467bd" stroke="#9467bd" stroke-width="5" fill-opacity="0.5" stroke-opacity="0.5"/>
<circle cx="1242.4" cy="181.4" r="6.3" fill="#9467bd" stroke="#9467bd" stroke-width="5" fill-opacity="0.5" stroke-opacity="0.5"/>
<circle cx="1242.4" cy="182.92" r="6.3" fill="#9467bd" stroke="#9467bd" stroke-width="5" fill-opacity="0.5" stroke-opacity="0.5"/>
<circle cx="1242.4" cy="184.44" r="6.3" fill="#9467bd" stroke="#9467bd" stroke-width="5" fill-opacity="0.5" stroke-opacity="0.5"/>
<circle cx="1242.4" cy="185.96" r="6.3" fill="#9467bd" stroke="#9467bd" stroke-width="5" fill-opacity="0.5" stroke-opacity="0.5"/>
<circle cx="1242.4" cy="187.48" r="6.3" fill="#9467bd" stroke="#9467bd" stroke-width="5" fill-opacity="0.5" stroke-opacity="0.5"/>
<circle cx="1242.4" cy="189" r="6.3" fill="#9467bd" stroke="#9467bd" stroke-width="5" fill-opacity="0.5" stroke-opacity="0.5"/>
<circle cx="1242.4" cy="190.52" r="6.3" fill="#9467bd" stroke="#9467bd" stroke-width="5" fill-opacity="0.5" stroke-opacity="0.5"/>
<circle cx="1242.4" cy="192.04" r="6.3" fill="#9467bd" stroke="#9467bd" stroke-width="5" fill-opacity="0.5" stroke-opacity="0.5"/>
<circle cx="1242.4" cy="193.56" r="6.3" fill="#9467bd" stroke="#9467bd" stroke-width="5" fill-opacity="0.5" stroke-opacity="0.5"/>
<circle cx="1242.4" cy="195.08" r="6.3" fill="#9467bd" stroke="#9467bd" stroke-width="5" fill-opacity="0.5" stroke-opacity="0.5"/>
<circle cx="1242.4" cy="196.6" r="6.3" fill="#9467bd" stroke="#9467bd" stroke-width="5" fill-opacity="0.5" stroke-opacity="0.5"/>
<circle cx="1242.4" cy="198.12" r="6.3" fill="#9467bd" stroke="#9467bd" stroke-width="5" fill-opacity="0.5" stroke-opacity="0.5"/>
<circle cx="1242.4" cy="199.64" r="6.3" fill="#9467bd" stroke="#9467bd" stroke-width="5" fill-opacity="0.5" stroke-opacity="0.5"/>
<circle cx="1242.4" cy="201.16" r="6.3" fill="#9467bd" stroke="#9467bd" stroke-width="5" fill-opacity="0.5" stroke-opacity="0.5"/>
<circle cx="1242.4" cy="202.68" r="6.3" fill="#9467bd" stroke="#9467bd" stroke-width="5" fill-opacity="0.5" stroke-opacity="0.5"/>
<circle cx="1242.4" cy="204.2" r="6.3" fill="#9467bd" stroke="#9467bd" stroke-width="5" fill-opacity="0.5" stroke-opacity="0.5"/>
<circle cx="1242.4" cy="205.72" r="6.3" fill="#9467bd" stroke="#9467bd" stroke-width="5" fill-opacity="0.5" stroke-opacity="0.5"/>
<circle cx="1242.4" cy="207.24" r="6.3" fill="#9467bd" stroke="#9467bd" stroke-width="5" fill-opacity="0.5" stroke-opacity="0.5"/>
<circle cx="1242.4" cy="208.76" r="6.3" fill="#9467bd" stroke="#9467bd" stroke-width="5" fill-opacity="0.5" stroke-opacity="0.5"/>
<circle cx="1242.4" cy="210.28" r="6.3" fill="#9467bd" stroke="#9467bd" stroke-width="5" fill-opacity="0.5" stroke-opacity="0.5"/>
<circle cx="1242.4" cy="211.8" r="6.3" fill="#9467bd" stroke="#9467bd" stroke-width="5" fill-opacity="0.5" stroke-opacity="0.5"/>
<circle cx="809.1" cy="375.3" r="6.3" fill="#9467bd" stroke="#9467bd" stroke-width="5" fill-opacity="0.5" stroke-opacity="0.5"/>
<rect x="722.0" y="35.0" width="294.6" height="319.5" rx="5.5" ry="5.5" fill="#fff" fill-opacity="0.8" stroke="#cccccc" stroke-width="5.8"/>
<circle cx="780.95" cy="69" r="10.45" fill="#1f77b4" stroke="#1f77b4" stroke-width="5" fill-opacity="0.5" stroke-opacity="0.5"/>
<rect x="861.69" y="64.78" width="26.08" height="3.42" fill="#000"/>
<rect x="861.69" y="73.07" width="26.08" height="3.46" fill="#000"/>
<text xml:space="preserve" x="825.72 861.84 892.94 919.66 945.62 972.69" y="83.7" font-size="44.15">N 1628</text>
<circle cx="780.95" cy="130.55" r="9.3" fill="#ff7f0e" stroke="#ff7f0e" stroke-width="5" fill-opacity="0.5" stroke-opacity="0.5"/>
<rect x="861.69" y="126.33" width="26.08" height="3.42" fill="#000"/>
<rect x="861.69" y="134.62" width="26.08" height="3.46" fill="#000"/>
<text xml:space="preserve" x="825.72 861.84 893.01 919.67 946.16" y="145.25" font-size="44.15">N 904</text>
<circle cx="780.95" cy="192.1" r="8.2" fill="#2ca02c" stroke="#2ca02c" stroke-width="5" fill-opacity="0.5" stroke-opacity="0.5"/>
<rect x="861.69" y="187.88" width="26.08" height="3.42" fill="#000"/>
<rect x="861.69" y="196.17" width="26.08" height="3.46" fill="#000"/>
<text xml:space="preserve" x="825.72 861.84 892.94 919.67 946.18" y="206.8" font-size="44.15">N 180</text>
<circle cx="780.95" cy="253.65" r="7.4" fill="#d62728" stroke="#d62728" stroke-width="5" fill-opacity="0.5" stroke-opacity="0.5"/>
<rect x="861.69" y="249.43" width="26.08" height="3.42" fill="#000"/>
<rect x="861.69" y="257.72" width="26.08" height="3.46" fill="#000"/>
<text xml:space="preserve" x="825.72 861.84 893.21 919.66" y="268.35" font-size="44.15">N 36</text>
<circle cx="780.95" cy="315.2" r="6.3" fill="#9467bd" stroke="#9467bd" stroke-width="5" fill-opacity="0.5" stroke-opacity="0.5"/>
<rect x="861.69" y="310.98" width="26.08" height="3.42" fill="#000"/>
<rect x="861.69" y="319.27" width="26.08" height="3.46" fill="#000"/>
<text xml:space="preserve" x="825.72 861.84 893.01" y="329.9" font-size="44.15">N 9</text>
<text xml:space="preserve" x="1070.93" y="530.4" font-size="52.98" font-style="italic">r</text>
<text xml:space="preserve" x="1088.81 1108.82 1131.91" y="537.4" font-size="37.09">cut</text>
<rect x="1161.1" y="507.7" width="31.3" height="4.1" fill="#000"/>
<rect x="1161.1" y="517.65" width="31.3" height="4.15" fill="#000"/>
<text xml:space="preserve" x="1209.11 1240.32 1256.63 1286.9" y="530.4" font-size="52.98">4.5Å</text>
<rect x="700.9" y="14.1" width="648.9" height="648.8" fill="none" stroke="#000" stroke-width="3.6" stroke-linejoin="miter"/>
<line x1="686.32" y1="662.9" x2="700.9" y2="662.9" stroke="#000" stroke-width="3.6" />
<rect x="574.94" y="665.21" width="26.08" height="3.46" fill="#000"/>
<text xml:space="preserve" x="575.09 606.19 632.41 646" y="680" font-size="44.15"> 1.5</text>
<line x1="686.32" y1="554.77" x2="700.9" y2="554.77" stroke="#000" stroke-width="3.6" />
<rect x="574.94" y="557.08" width="26.08" height="3.46" fill="#000"/>
<text xml:space="preserve" x="575.09 606.19 632.41 646.17" y="571.87" font-size="44.15"> 1.0</text>
<line x1="686.32" y1="446.63" x2="700.9" y2="446.63" stroke="#000" stroke-width="3.6" />
<rect x="574.94" y="448.94" width="26.08" height="3.46" fill="#000"/>
<text xml:space="preserve" x="575.09 606.41 632.41 646" y="463.74" font-size="44.15"> 0.5</text>
<line x1="686.32" y1="338.5" x2="700.9" y2="338.5" stroke="#000" stroke-width="3.6" />
<text xml:space="preserve" x="606.41 632.41 646.17" y="355.6" font-size="44.15">0.0</text>
<line x1="686.32" y1="230.37" x2="700.9" y2="230.37" stroke="#000" stroke-width="3.6" />
<text xml:space="preserve" x="606.41 632.41 646" y="247.47" font-size="44.15">0.5</text>
<line x1="686.32" y1="122.23" x2="700.9" y2="122.23" stroke="#000" stroke-width="3.6" />
<text xml:space="preserve" x="606.19 632.41 646.17" y="139.33" font-size="44.15">1.0</text>
<line x1="686.32" y1="14.09" x2="700.9" y2="14.09" stroke="#000" stroke-width="3.6" />
<text xml:space="preserve" x="606.19 632.41 646" y="31.19" font-size="44.15">1.5</text>
<line x1="809.05" y1="662.9" x2="809.05" y2="677.48" stroke="#000" stroke-width="3.6" />
<rect x="782.76" y="709.11" width="26.08" height="3.46" fill="#000"/>
<text xml:space="preserve" x="782.91 814.01" y="723.9" font-size="44.15"> 1</text>
<line x1="1025.35" y1="662.9" x2="1025.35" y2="677.48" stroke="#000" stroke-width="3.6" />
<text xml:space="preserve" x="1013.07" y="723.9" font-size="44.15">0</text>
<line x1="1241.65" y1="662.9" x2="1241.65" y2="677.48" stroke="#000" stroke-width="3.6" />
<text xml:space="preserve" x="1229.15" y="723.9" font-size="44.15">1</text>
<text xml:space="preserve" x="866.38 888.47 904.4 930.61 955.62 968.78 992.74 1017.1 1045.74 1060.8 1087.18 1112.19 1125.81 1142.32 1170.94" y="760.8" font-size="44.15">True charge [e]</text>
<text xml:space="preserve" x="352.5 380.38 395.2 420.9 447.55 458.16 483.06 498.11 523.81 549.56 562.73 586.69 611.05 639.69 654.75 681.13 706.14 719.76 736.27 764.89" y="338.5" font-size="44.15" transform="rotate(-90 565.75 338.5)">Predicted charge [e]</text>
</g>
<defs><clipPath id="cu"><rect x="757.4" y="1055.2" width="587.5" height="431"/></clipPath><clipPath id="cl"><rect x="757.4" y="1580.3" width="587.5" height="172.9"/></clipPath></defs>
<g clip-path="url(#cu)">
<polyline points="783.17,1104.1 854.44,1136.7 925.7,1158.9 1019.92,1170 1091.19,1182.2 1162.45,1185.6 1257.12,1193.2 1317.61,1204.3" fill="none" stroke="#1f77b4" stroke-width="6.25" stroke-dasharray="23.12 10" stroke-linejoin="round" stroke-linecap="butt"/>
<polygon points="783.17,1091.6 770.67,1116.6 795.67,1116.6" fill="#1f77b4" stroke="#1f77b4" stroke-width="4.17" stroke-linejoin="miter"/>
<polygon points="854.44,1124.2 841.94,1149.2 866.94,1149.2" fill="#1f77b4" stroke="#1f77b4" stroke-width="4.17" stroke-linejoin="miter"/>
<polygon points="925.7,1146.4 913.2,1171.4 938.2,1171.4" fill="#1f77b4" stroke="#1f77b4" stroke-width="4.17" stroke-linejoin="miter"/>
<polygon points="1019.92,1157.5 1007.42,1182.5 1032.42,1182.5" fill="#1f77b4" stroke="#1f77b4" stroke-width="4.17" stroke-linejoin="miter"/>
<polygon points="1091.19,1169.7 1078.69,1194.7 1103.69,1194.7" fill="#1f77b4" stroke="#1f77b4" stroke-width="4.17" stroke-linejoin="miter"/>
<polygon points="1162.45,1173.1 1149.95,1198.1 1174.95,1198.1" fill="#1f77b4" stroke="#1f77b4" stroke-width="4.17" stroke-linejoin="miter"/>
<polygon points="1257.12,1180.7 1244.62,1205.7 1269.62,1205.7" fill="#1f77b4" stroke="#1f77b4" stroke-width="4.17" stroke-linejoin="miter"/>
<polygon points="1317.61,1191.8 1305.11,1216.8 1330.11,1216.8" fill="#1f77b4" stroke="#1f77b4" stroke-width="4.17" stroke-linejoin="miter"/>
<polyline points="783.17,1137.8 854.44,1161.1 925.7,1190 1019.92,1231.7 1091.19,1254 1162.45,1263.2 1257.12,1276.2 1317.61,1295.1" fill="none" stroke="#ff7f0e" stroke-width="6.25" stroke-dasharray="23.12 10" stroke-linejoin="round" stroke-linecap="butt"/>
<polygon points="783.17,1125.3 770.67,1150.3 795.67,1150.3" fill="#ff7f0e" stroke="#ff7f0e" stroke-width="4.17" stroke-linejoin="miter"/>
<polygon points="854.44,1148.6 841.94,1173.6 866.94,1173.6" fill="#ff7f0e" stroke="#ff7f0e" stroke-width="4.17" stroke-linejoin="miter"/>
<polygon points="925.7,1177.5 913.2,1202.5 938.2,1202.5" fill="#ff7f0e" stroke="#ff7f0e" stroke-width="4.17" stroke-linejoin="miter"/>
<polygon points="1019.92,1219.2 1007.42,1244.2 1032.42,1244.2" fill="#ff7f0e" stroke="#ff7f0e" stroke-width="4.17" stroke-linejoin="miter"/>
<polygon points="1091.19,1241.5 1078.69,1266.5 1103.69,1266.5" fill="#ff7f0e" stroke="#ff7f0e" stroke-width="4.17" stroke-linejoin="miter"/>
<polygon points="1162.45,1250.7 1149.95,1275.7 1174.95,1275.7" fill="#ff7f0e" stroke="#ff7f0e" stroke-width="4.17" stroke-linejoin="miter"/>
<polygon points="1257.12,1263.7 1244.62,1288.7 1269.62,1288.7" fill="#ff7f0e" stroke="#ff7f0e" stroke-width="4.17" stroke-linejoin="miter"/>
<polygon points="1317.61,1282.6 1305.11,1307.6 1330.11,1307.6" fill="#ff7f0e" stroke="#ff7f0e" stroke-width="4.17" stroke-linejoin="miter"/>
<polyline points="783.17,1074 854.44,1136.1 925.7,1188.2 1019.92,1200.5 1091.19,1225.6 1162.45,1246.7 1257.12,1262.7 1317.61,1268.2" fill="none" stroke="#2ca02c" stroke-width="6.25" stroke-dasharray="6.25 10.31" stroke-linejoin="round" stroke-linecap="butt"/>
<path d="M770.67,1061.5L795.67,1086.5M770.67,1086.5L795.67,1061.5" stroke="#2ca02c" stroke-width="4.17" fill="none"/>
<path d="M841.94,1123.6L866.94,1148.6M841.94,1148.6L866.94,1123.6" stroke="#2ca02c" stroke-width="4.17" fill="none"/>
<path d="M913.2,1175.7L938.2,1200.7M913.2,1200.7L938.2,1175.7" stroke="#2ca02c" stroke-width="4.17" fill="none"/>
<path d="M1007.42,1188L1032.42,1213M1007.42,1213L1032.42,1188" stroke="#2ca02c" stroke-width="4.17" fill="none"/>
<path d="M1078.69,1213.1L1103.69,1238.1M1078.69,1238.1L1103.69,1213.1" stroke="#2ca02c" stroke-width="4.17" fill="none"/>
<path d="M1149.95,1234.2L1174.95,1259.2M1149.95,1259.2L1174.95,1234.2" stroke="#2ca02c" stroke-width="4.17" fill="none"/>
<path d="M1244.62,1250.2L1269.62,1275.2M1244.62,1275.2L1269.62,1250.2" stroke="#2ca02c" stroke-width="4.17" fill="none"/>
<path d="M1305.11,1255.7L1330.11,1280.7M1305.11,1280.7L1330.11,1255.7" stroke="#2ca02c" stroke-width="4.17" fill="none"/>
<polyline points="783.17,1216 854.44,1177.1 925.7,1270.4 1019.92,1322.4 1091.19,1360.5 1162.45,1379.8 1257.12,1415.3 1317.61,1438.3" fill="none" stroke="#1f77b4" stroke-width="6.25" stroke-linejoin="round" stroke-linecap="projecting"/>
<circle cx="783.17" cy="1216" r="12.5" fill="#1f77b4" stroke="#1f77b4" stroke-width="4.17"/>
<circle cx="854.44" cy="1177.1" r="12.5" fill="#1f77b4" stroke="#1f77b4" stroke-width="4.17"/>
<circle cx="925.7" cy="1270.4" r="12.5" fill="#1f77b4" stroke="#1f77b4" stroke-width="4.17"/>
<circle cx="1019.92" cy="1322.4" r="12.5" fill="#1f77b4" stroke="#1f77b4" stroke-width="4.17"/>
<circle cx="1091.19" cy="1360.5" r="12.5" fill="#1f77b4" stroke="#1f77b4" stroke-width="4.17"/>
<circle cx="1162.45" cy="1379.8" r="12.5" fill="#1f77b4" stroke="#1f77b4" stroke-width="4.17"/>
<circle cx="1257.12" cy="1415.3" r="12.5" fill="#1f77b4" stroke="#1f77b4" stroke-width="4.17"/>
<circle cx="1317.61" cy="1438.3" r="12.5" fill="#1f77b4" stroke="#1f77b4" stroke-width="4.17"/>
<polyline points="783.17,1157.2 854.44,1180.5 925.7,1234.3 1019.92,1299.1 1091.19,1297.8 1162.45,1329.8 1257.12,1354.3 1317.61,1466.8" fill="none" stroke="#ff7f0e" stroke-width="6.25" stroke-linejoin="round" stroke-linecap="projecting"/>
<circle cx="783.17" cy="1157.2" r="12.5" fill="#ff7f0e" stroke="#ff7f0e" stroke-width="4.17"/>
<circle cx="854.44" cy="1180.5" r="12.5" fill="#ff7f0e" stroke="#ff7f0e" stroke-width="4.17"/>
<circle cx="925.7" cy="1234.3" r="12.5" fill="#ff7f0e" stroke="#ff7f0e" stroke-width="4.17"/>
<circle cx="1019.92" cy="1299.1" r="12.5" fill="#ff7f0e" stroke="#ff7f0e" stroke-width="4.17"/>
<circle cx="1091.19" cy="1297.8" r="12.5" fill="#ff7f0e" stroke="#ff7f0e" stroke-width="4.17"/>
<circle cx="1162.45" cy="1329.8" r="12.5" fill="#ff7f0e" stroke="#ff7f0e" stroke-width="4.17"/>
<circle cx="1257.12" cy="1354.3" r="12.5" fill="#ff7f0e" stroke="#ff7f0e" stroke-width="4.17"/>
<circle cx="1317.61" cy="1466.8" r="12.5" fill="#ff7f0e" stroke="#ff7f0e" stroke-width="4.17"/>
<polyline points="783.17,1194.2 854.44,1254 925.7,1301 1019.92,1350.1 1091.19,1376.4 1162.45,1388.7 1257.12,1425.3 1317.61,1442" fill="none" stroke="#2ca02c" stroke-width="6.25" stroke-linejoin="round" stroke-linecap="projecting"/>
<path d="M770.67,1181.7L795.67,1206.7M770.67,1206.7L795.67,1181.7" stroke="#2ca02c" stroke-width="4.17" fill="none"/>
<path d="M841.94,1241.5L866.94,1266.5M841.94,1266.5L866.94,1241.5" stroke="#2ca02c" stroke-width="4.17" fill="none"/>
<path d="M913.2,1288.5L938.2,1313.5M913.2,1313.5L938.2,1288.5" stroke="#2ca02c" stroke-width="4.17" fill="none"/>
<path d="M1007.42,1337.6L1032.42,1362.6M1007.42,1362.6L1032.42,1337.6" stroke="#2ca02c" stroke-width="4.17" fill="none"/>
<path d="M1078.69,1363.9L1103.69,1388.9M1078.69,1388.9L1103.69,1363.9" stroke="#2ca02c" stroke-width="4.17" fill="none"/>
<path d="M1149.95,1376.2L1174.95,1401.2M1149.95,1401.2L1174.95,1376.2" stroke="#2ca02c" stroke-width="4.17" fill="none"/>
<path d="M1244.62,1412.8L1269.62,1437.8M1244.62,1437.8L1269.62,1412.8" stroke="#2ca02c" stroke-width="4.17" fill="none"/>
<path d="M1305.11,1429.5L1330.11,1454.5M1305.11,1454.5L1330.11,1429.5" stroke="#2ca02c" stroke-width="4.17" fill="none"/>
</g>
<g clip-path="url(#cl)">
<polyline points="783.17,1636.5 854.44,1610.5 925.7,1645.6 1019.92,1683.3 1091.19,1698.6 1162.45,1705.9 1257.12,1695.9 1317.61,1706.3" fill="none" stroke="#1f77b4" stroke-width="6.25" stroke-linejoin="round" stroke-linecap="projecting"/>
<circle cx="783.17" cy="1636.5" r="12.5" fill="#1f77b4" stroke="#1f77b4" stroke-width="4.17"/>
<circle cx="854.44" cy="1610.5" r="12.5" fill="#1f77b4" stroke="#1f77b4" stroke-width="4.17"/>
<circle cx="925.7" cy="1645.6" r="12.5" fill="#1f77b4" stroke="#1f77b4" stroke-width="4.17"/>
<circle cx="1019.92" cy="1683.3" r="12.5" fill="#1f77b4" stroke="#1f77b4" stroke-width="4.17"/>
<circle cx="1091.19" cy="1698.6" r="12.5" fill="#1f77b4" stroke="#1f77b4" stroke-width="4.17"/>
<circle cx="1162.45" cy="1705.9" r="12.5" fill="#1f77b4" stroke="#1f77b4" stroke-width="4.17"/>
<circle cx="1257.12" cy="1695.9" r="12.5" fill="#1f77b4" stroke="#1f77b4" stroke-width="4.17"/>
<circle cx="1317.61" cy="1706.3" r="12.5" fill="#1f77b4" stroke="#1f77b4" stroke-width="4.17"/>
<polyline points="783.17,1605 854.44,1604.3 925.7,1605.6 1019.92,1619.4 1091.19,1607.8 1162.45,1608.7 1257.12,1618.3 1317.61,1664.9" fill="none" stroke="#ff7f0e" stroke-width="6.25" stroke-linejoin="round" stroke-linecap="projecting"/>
<circle cx="783.17" cy="1605" r="12.5" fill="#ff7f0e" stroke="#ff7f0e" stroke-width="4.17"/>
<circle cx="854.44" cy="1604.3" r="12.5" fill="#ff7f0e" stroke="#ff7f0e" stroke-width="4.17"/>
<circle cx="925.7" cy="1605.6" r="12.5" fill="#ff7f0e" stroke="#ff7f0e" stroke-width="4.17"/>
<circle cx="1019.92" cy="1619.4" r="12.5" fill="#ff7f0e" stroke="#ff7f0e" stroke-width="4.17"/>
<circle cx="1091.19" cy="1607.8" r="12.5" fill="#ff7f0e" stroke="#ff7f0e" stroke-width="4.17"/>
<circle cx="1162.45" cy="1608.7" r="12.5" fill="#ff7f0e" stroke="#ff7f0e" stroke-width="4.17"/>
<circle cx="1257.12" cy="1618.3" r="12.5" fill="#ff7f0e" stroke="#ff7f0e" stroke-width="4.17"/>
<circle cx="1317.61" cy="1664.9" r="12.5" fill="#ff7f0e" stroke="#ff7f0e" stroke-width="4.17"/>
<polyline points="783.17,1630 854.44,1640.9 925.7,1647.8 1019.92,1674.2 1091.19,1660.9 1162.45,1657.8 1257.12,1679.3 1317.61,1699.3" fill="none" stroke="#2ca02c" stroke-width="6.25" stroke-linejoin="round" stroke-linecap="projecting"/>
<path d="M770.67,1617.5L795.67,1642.5M770.67,1642.5L795.67,1617.5" stroke="#2ca02c" stroke-width="4.17" fill="none"/>
<path d="M841.94,1628.4L866.94,1653.4M841.94,1653.4L866.94,1628.4" stroke="#2ca02c" stroke-width="4.17" fill="none"/>
<path d="M913.2,1635.3L938.2,1660.3M913.2,1660.3L938.2,1635.3" stroke="#2ca02c" stroke-width="4.17" fill="none"/>
<path d="M1007.42,1661.7L1032.42,1686.7M1007.42,1686.7L1032.42,1661.7" stroke="#2ca02c" stroke-width="4.17" fill="none"/>
<path d="M1078.69,1648.4L1103.69,1673.4M1078.69,1673.4L1103.69,1648.4" stroke="#2ca02c" stroke-width="4.17" fill="none"/>
<path d="M1149.95,1645.3L1174.95,1670.3M1149.95,1670.3L1174.95,1645.3" stroke="#2ca02c" stroke-width="4.17" fill="none"/>
<path d="M1244.62,1666.8L1269.62,1691.8M1244.62,1691.8L1269.62,1666.8" stroke="#2ca02c" stroke-width="4.17" fill="none"/>
<path d="M1305.11,1686.8L1330.11,1711.8M1305.11,1711.8L1330.11,1686.8" stroke="#2ca02c" stroke-width="4.17" fill="none"/>
</g>
<rect x="757.4" y="1055.2" width="587.5" height="431" fill="none" stroke="#000" stroke-width="3.6"/>
<rect x="757.4" y="1580.3" width="587.5" height="172.9" fill="none" stroke="#000" stroke-width="3.6"/>
<line x1="794" y1="1486.2" x2="794" y2="1500.78" stroke="#000" stroke-width="3.6" />
<line x1="1030.75" y1="1486.2" x2="1030.75" y2="1500.78" stroke="#000" stroke-width="3.6" />
<line x1="1267.5" y1="1486.2" x2="1267.5" y2="1500.78" stroke="#000" stroke-width="3.6" />
<line x1="757.33" y1="1486.2" x2="757.33" y2="1494.53" stroke="#000" stroke-width="2.8" />
<line x1="771.06" y1="1486.2" x2="771.06" y2="1494.53" stroke="#000" stroke-width="2.8" />
<line x1="783.17" y1="1486.2" x2="783.17" y2="1494.53" stroke="#000" stroke-width="2.8" />
<line x1="865.27" y1="1486.2" x2="865.27" y2="1494.53" stroke="#000" stroke-width="2.8" />
<line x1="906.96" y1="1486.2" x2="906.96" y2="1494.53" stroke="#000" stroke-width="2.8" />
<line x1="936.54" y1="1486.2" x2="936.54" y2="1494.53" stroke="#000" stroke-width="2.8" />
<line x1="959.48" y1="1486.2" x2="959.48" y2="1494.53" stroke="#000" stroke-width="2.8" />
<line x1="978.23" y1="1486.2" x2="978.23" y2="1494.53" stroke="#000" stroke-width="2.8" />
<line x1="994.08" y1="1486.2" x2="994.08" y2="1494.53" stroke="#000" stroke-width="2.8" />
<line x1="1007.81" y1="1486.2" x2="1007.81" y2="1494.53" stroke="#000" stroke-width="2.8" />
<line x1="1019.92" y1="1486.2" x2="1019.92" y2="1494.53" stroke="#000" stroke-width="2.8" />
<line x1="1102.02" y1="1486.2" x2="1102.02" y2="1494.53" stroke="#000" stroke-width="2.8" />
<line x1="1143.71" y1="1486.2" x2="1143.71" y2="1494.53" stroke="#000" stroke-width="2.8" />
<line x1="1173.29" y1="1486.2" x2="1173.29" y2="1494.53" stroke="#000" stroke-width="2.8" />
<line x1="1196.23" y1="1486.2" x2="1196.23" y2="1494.53" stroke="#000" stroke-width="2.8" />
<line x1="1214.98" y1="1486.2" x2="1214.98" y2="1494.53" stroke="#000" stroke-width="2.8" />
<line x1="1230.83" y1="1486.2" x2="1230.83" y2="1494.53" stroke="#000" stroke-width="2.8" />
<line x1="1244.56" y1="1486.2" x2="1244.56" y2="1494.53" stroke="#000" stroke-width="2.8" />
<line x1="1256.67" y1="1486.2" x2="1256.67" y2="1494.53" stroke="#000" stroke-width="2.8" />
<line x1="1338.77" y1="1486.2" x2="1338.77" y2="1494.53" stroke="#000" stroke-width="2.8" />
<line x1="794" y1="1753.2" x2="794" y2="1767.78" stroke="#000" stroke-width="3.6" />
<line x1="1030.75" y1="1753.2" x2="1030.75" y2="1767.78" stroke="#000" stroke-width="3.6" />
<line x1="1267.5" y1="1753.2" x2="1267.5" y2="1767.78" stroke="#000" stroke-width="3.6" />
<line x1="757.33" y1="1753.2" x2="757.33" y2="1761.53" stroke="#000" stroke-width="2.8" />
<line x1="771.06" y1="1753.2" x2="771.06" y2="1761.53" stroke="#000" stroke-width="2.8" />
<line x1="783.17" y1="1753.2" x2="783.17" y2="1761.53" stroke="#000" stroke-width="2.8" />
<line x1="865.27" y1="1753.2" x2="865.27" y2="1761.53" stroke="#000" stroke-width="2.8" />
<line x1="906.96" y1="1753.2" x2="906.96" y2="1761.53" stroke="#000" stroke-width="2.8" />
<line x1="936.54" y1="1753.2" x2="936.54" y2="1761.53" stroke="#000" stroke-width="2.8" />
<line x1="959.48" y1="1753.2" x2="959.48" y2="1761.53" stroke="#000" stroke-width="2.8" />
<line x1="978.23" y1="1753.2" x2="978.23" y2="1761.53" stroke="#000" stroke-width="2.8" />
<line x1="994.08" y1="1753.2" x2="994.08" y2="1761.53" stroke="#000" stroke-width="2.8" />
<line x1="1007.81" y1="1753.2" x2="1007.81" y2="1761.53" stroke="#000" stroke-width="2.8" />
<line x1="1019.92" y1="1753.2" x2="1019.92" y2="1761.53" stroke="#000" stroke-width="2.8" />
<line x1="1102.02" y1="1753.2" x2="1102.02" y2="1761.53" stroke="#000" stroke-width="2.8" />
<line x1="1143.71" y1="1753.2" x2="1143.71" y2="1761.53" stroke="#000" stroke-width="2.8" />
<line x1="1173.29" y1="1753.2" x2="1173.29" y2="1761.53" stroke="#000" stroke-width="2.8" />
<line x1="1196.23" y1="1753.2" x2="1196.23" y2="1761.53" stroke="#000" stroke-width="2.8" />
<line x1="1214.98" y1="1753.2" x2="1214.98" y2="1761.53" stroke="#000" stroke-width="2.8" />
<line x1="1230.83" y1="1753.2" x2="1230.83" y2="1761.53" stroke="#000" stroke-width="2.8" />
<line x1="1244.56" y1="1753.2" x2="1244.56" y2="1761.53" stroke="#000" stroke-width="2.8" />
<line x1="1256.67" y1="1753.2" x2="1256.67" y2="1761.53" stroke="#000" stroke-width="2.8" />
<line x1="1338.77" y1="1753.2" x2="1338.77" y2="1761.53" stroke="#000" stroke-width="2.8" />
<line x1="742.82" y1="1378.8" x2="757.4" y2="1378.8" stroke="#000" stroke-width="3.6" />
<line x1="749.07" y1="1480.87" x2="757.4" y2="1480.87" stroke="#000" stroke-width="2.8" />
<line x1="749.07" y1="1450.07" x2="757.4" y2="1450.07" stroke="#000" stroke-width="2.8" />
<line x1="749.07" y1="1423.39" x2="757.4" y2="1423.39" stroke="#000" stroke-width="2.8" />
<line x1="749.07" y1="1399.85" x2="757.4" y2="1399.85" stroke="#000" stroke-width="2.8" />
<line x1="749.07" y1="1240.3" x2="757.4" y2="1240.3" stroke="#000" stroke-width="2.8" />
<line x1="749.07" y1="1159.28" x2="757.4" y2="1159.28" stroke="#000" stroke-width="2.8" />
<line x1="749.07" y1="1101.79" x2="757.4" y2="1101.79" stroke="#000" stroke-width="2.8" />
<line x1="749.07" y1="1057.2" x2="757.4" y2="1057.2" stroke="#000" stroke-width="2.8" />
<line x1="742.82" y1="1580.3" x2="757.4" y2="1580.3" stroke="#000" stroke-width="3.6" />
<line x1="742.82" y1="1666.75" x2="757.4" y2="1666.75" stroke="#000" stroke-width="3.6" />
<line x1="742.82" y1="1753.2" x2="757.4" y2="1753.2" stroke="#000" stroke-width="3.6" />
<line x1="749.07" y1="1727.18" x2="757.4" y2="1727.18" stroke="#000" stroke-width="2.8" />
<line x1="749.07" y1="1711.95" x2="757.4" y2="1711.95" stroke="#000" stroke-width="2.8" />
<line x1="749.07" y1="1701.15" x2="757.4" y2="1701.15" stroke="#000" stroke-width="2.8" />
<line x1="749.07" y1="1692.77" x2="757.4" y2="1692.77" stroke="#000" stroke-width="2.8" />
<line x1="749.07" y1="1685.93" x2="757.4" y2="1685.93" stroke="#000" stroke-width="2.8" />
<line x1="749.07" y1="1680.14" x2="757.4" y2="1680.14" stroke="#000" stroke-width="2.8" />
<line x1="749.07" y1="1675.13" x2="757.4" y2="1675.13" stroke="#000" stroke-width="2.8" />
<line x1="749.07" y1="1670.71" x2="757.4" y2="1670.71" stroke="#000" stroke-width="2.8" />
<line x1="749.07" y1="1640.73" x2="757.4" y2="1640.73" stroke="#000" stroke-width="2.8" />
<line x1="749.07" y1="1625.5" x2="757.4" y2="1625.5" stroke="#000" stroke-width="2.8" />
<line x1="749.07" y1="1614.7" x2="757.4" y2="1614.7" stroke="#000" stroke-width="2.8" />
<line x1="749.07" y1="1606.32" x2="757.4" y2="1606.32" stroke="#000" stroke-width="2.8" />
<line x1="749.07" y1="1599.48" x2="757.4" y2="1599.48" stroke="#000" stroke-width="2.8" />
<line x1="749.07" y1="1593.69" x2="757.4" y2="1593.69" stroke="#000" stroke-width="2.8" />
<line x1="749.07" y1="1588.68" x2="757.4" y2="1588.68" stroke="#000" stroke-width="2.8" />
<line x1="749.07" y1="1584.26" x2="757.4" y2="1584.26" stroke="#000" stroke-width="2.8" />
<text xml:space="preserve" x="580.12" y="1117.89" font-size="44.15">4</text>
<path d="M620.78 1094.3L641.76 1115.36M620.78 1115.36L641.76 1094.3" stroke="#000" stroke-width="3.5" fill="none"/>
<text xml:space="preserve" x="658.87" y="1117.89" font-size="44.15">1</text>
<text xml:space="preserve" x="685.6" y="1117.89" font-size="44.15">0</text>
<text xml:space="preserve" x="712.97" y="1101.94" font-size="30.9">1</text>
<text xml:space="preserve" x="579.06" y="1175.38" font-size="44.15">3</text>
<path d="M619.65 1151.78L640.63 1172.85M619.65 1172.85L640.63 1151.78" stroke="#000" stroke-width="3.5" fill="none"/>
<text xml:space="preserve" x="657.75" y="1175.38" font-size="44.15">1</text>
<text xml:space="preserve" x="684.48" y="1175.38" font-size="44.15">0</text>
<text xml:space="preserve" x="711.84" y="1159.43" font-size="30.9">1</text>
<text xml:space="preserve" x="578.57" y="1256.4" font-size="44.15">2</text>
<path d="M619.78 1232.8L640.76 1253.87M619.78 1253.87L640.76 1232.8" stroke="#000" stroke-width="3.5" fill="none"/>
<text xml:space="preserve" x="657.87" y="1256.4" font-size="44.15">1</text>
<text xml:space="preserve" x="684.6" y="1256.4" font-size="44.15">0</text>
<text xml:space="preserve" x="711.97" y="1240.45" font-size="30.9">1</text>
<text xml:space="preserve" x="579.85" y="1495.07" font-size="44.15">6</text>
<path d="M620.5 1471.48L641.48 1492.54M620.5 1492.54L641.48 1471.48" stroke="#000" stroke-width="3.5" fill="none"/>
<text xml:space="preserve" x="658.6" y="1495.07" font-size="44.15">1</text>
<text xml:space="preserve" x="685.33" y="1495.07" font-size="44.15">0</text>
<text xml:space="preserve" x="712.85" y="1479.12" font-size="30.9">0</text>
<text xml:space="preserve" x="652.68" y="1395.5" font-size="44.15">1</text>
<text xml:space="preserve" x="679.41" y="1395.5" font-size="44.15">0</text>
<text xml:space="preserve" x="705.87" y="1379.55" font-size="30.9">1</text>
<text xml:space="preserve" x="653.28" y="1595" font-size="44.15">1</text>
<text xml:space="preserve" x="680.01" y="1595" font-size="44.15">0</text>
<text xml:space="preserve" x="706.62" y="1579.05" font-size="30.9">0</text>
<text xml:space="preserve" x="627.88" y="1683.2" font-size="44.15">1</text>
<text xml:space="preserve" x="654.61" y="1683.2" font-size="44.15">0</text>
<rect x="683.63" y="1656.9" width="18.26" height="2.42" fill="#000"/>
<text xml:space="preserve" x="705.51" y="1667.25" font-size="30.9">1</text>
<text xml:space="preserve" x="627.88" y="1767.6" font-size="44.15">1</text>
<text xml:space="preserve" x="654.61" y="1767.6" font-size="44.15">0</text>
<rect x="683.63" y="1741.3" width="18.26" height="2.42" fill="#000"/>
<text xml:space="preserve" x="705.27" y="1751.65" font-size="30.9">2</text>
<text xml:space="preserve" x="757.08" y="1816" font-size="44.15">1</text>
<text xml:space="preserve" x="783.81" y="1816" font-size="44.15">0</text>
<text xml:space="preserve" x="810.27" y="1800.05" font-size="30.9">1</text>
<text xml:space="preserve" x="993.83" y="1816" font-size="44.15">1</text>
<text xml:space="preserve" x="1020.56" y="1816" font-size="44.15">0</text>
<text xml:space="preserve" x="1046.78" y="1800.05" font-size="30.9">2</text>
<text xml:space="preserve" x="1230.58" y="1816" font-size="44.15">1</text>
<text xml:space="preserve" x="1257.31" y="1816" font-size="44.15">0</text>
<text xml:space="preserve" x="1283.96" y="1800.05" font-size="30.9">3</text>
<text xml:space="preserve" x="1035.14" y="1856" font-size="44.15">N</text>
<text xml:space="preserve" x="414.89 440.46 453.29 489.18 516.45 544.48 558.1 576.01 615.2 639.73 669.6 682.28 714.86" y="1270.7" font-size="44.15" transform="rotate(-90 572 1270.7)">F MAE [meV/Å]</text>
<text xml:space="preserve" x="463.05 487.01 511.37 540 555.07 581.45 606.46 619.29 655.18 682.45 710.48 724.1 740.61 769.23" y="1666.75" font-size="44.15" transform="rotate(-90 622.5 1666.75)">charge MAE [e]</text>
<line x1="754.4" y1="857.9" x2="838.5" y2="857.9" stroke="#1f77b4" stroke-width="6.25" stroke-dasharray="23.12 10"/>
<polygon points="796.45,845.4 783.95,870.4 808.95,870.4" fill="#1f77b4" stroke="#1f77b4" stroke-width="4.17" stroke-linejoin="miter"/>
<text xml:space="preserve" x="840.76 867.7" y="872.2" font-size="44.15">SR</text>
<line x1="754.4" y1="919.45" x2="838.5" y2="919.45" stroke="#ff7f0e" stroke-width="6.25" stroke-dasharray="23.12 10"/>
<polygon points="796.45,906.95 783.95,931.95 808.95,931.95" fill="#ff7f0e" stroke="#ff7f0e" stroke-width="4.17" stroke-linejoin="miter"/>
<text xml:space="preserve" x="840.76 867.7" y="933.75" font-size="44.15">SR</text>
<line x1="754.4" y1="981" x2="838.5" y2="981" stroke="#2ca02c" stroke-width="6.25" stroke-dasharray="6.25 10.31"/>
<path d="M783.95,968.5L808.95,993.5M783.95,993.5L808.95,968.5" stroke="#2ca02c" stroke-width="4.17" fill="none"/>
<text xml:space="preserve" x="840.76 867.7" y="995.3" font-size="44.15">SR</text>
<line x1="978.8" y1="858.1" x2="1069.6" y2="858.1" stroke="#1f77b4" stroke-width="6.25" />
<circle cx="1024.2" cy="858.1" r="12.5" fill="#1f77b4" stroke="#1f77b4" stroke-width="4.17"/>
<text xml:space="preserve" x="1069.2 1091.44 1121.18 1134.43 1148.63 1174.65 1188.24 1213.46" y="870.4" font-size="44.15">LR  4.5Å</text>
<line x1="978.8" y1="924.8" x2="1069.6" y2="924.8" stroke="#ff7f0e" stroke-width="6.25" />
<circle cx="1024.2" cy="924.8" r="12.5" fill="#ff7f0e" stroke="#ff7f0e" stroke-width="4.17"/>
<text xml:space="preserve" x="1069.2 1091.44 1121.18 1134.43 1148.48 1174.65 1188.24 1213.46" y="937.1" font-size="44.15">LR  5.5Å</text>
<line x1="978.8" y1="992.4" x2="1069.6" y2="992.4" stroke="#2ca02c" stroke-width="6.25" />
<path d="M1011.7,979.9L1036.7,1004.9M1011.7,1004.9L1036.7,979.9" stroke="#2ca02c" stroke-width="4.17" fill="none"/>
<text xml:space="preserve" x="1069.2 1091.44 1121.18 1134.43 1148.63 1174.65 1188.24 1213.46 1242.44 1255.28 1290.17 1317.52" y="1004.7" font-size="44.15">LR  4.5Å MP1</text>
</svg>
</body></html>
